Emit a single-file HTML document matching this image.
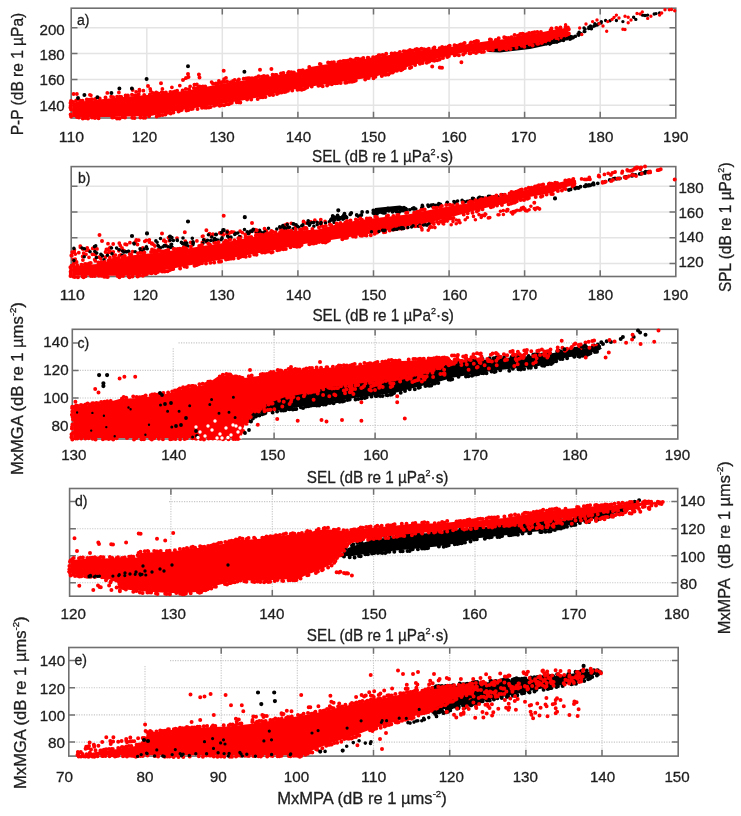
<!DOCTYPE html>
<html><head><meta charset="utf-8"><title>figure</title>
<style>html,body{margin:0;padding:0;background:#fff;overflow:hidden}svg{display:block;filter:blur(0.45px)}
text{font-family:"Liberation Sans",sans-serif;fill:#1e1e1e;stroke:#1e1e1e;stroke-width:0.3px}</style></head>
<body><svg width="741" height="816" viewBox="0 0 741 816">
<rect width="741" height="816" fill="#fff"/>
<line x1="146.8" y1="27.5" x2="146.8" y2="118" stroke="#e4e4e4" stroke-width="1.5"/>
<line x1="222.3" y1="8.2" x2="222.3" y2="118" stroke="#e4e4e4" stroke-width="1.5"/>
<line x1="297.9" y1="8.2" x2="297.9" y2="118" stroke="#e4e4e4" stroke-width="1.5"/>
<line x1="373.5" y1="8.2" x2="373.5" y2="118" stroke="#e4e4e4" stroke-width="1.5"/>
<line x1="449.1" y1="8.2" x2="449.1" y2="118" stroke="#e4e4e4" stroke-width="1.5"/>
<line x1="524.6" y1="8.2" x2="524.6" y2="118" stroke="#e4e4e4" stroke-width="1.5"/>
<line x1="600.2" y1="8.2" x2="600.2" y2="118" stroke="#e4e4e4" stroke-width="1.5"/>
<line x1="71.2" y1="27.7" x2="675.8" y2="27.7" stroke="#e4e4e4" stroke-width="1.5"/>
<line x1="71.2" y1="53.5" x2="675.8" y2="53.5" stroke="#e4e4e4" stroke-width="1.5"/>
<line x1="71.2" y1="79.4" x2="675.8" y2="79.4" stroke="#e4e4e4" stroke-width="1.5"/>
<line x1="71.2" y1="105.2" x2="675.8" y2="105.2" stroke="#e4e4e4" stroke-width="1.5"/>
<rect x="71.2" y="8.2" width="604.6" height="109.8" fill="none" stroke="#707070" stroke-width="1.6"/>
<path d="M146.8 118v-6.3M222.3 118v-6.3M222.3 8.2v6.3M297.9 118v-6.3M297.9 8.2v6.3M373.5 118v-6.3M373.5 8.2v6.3M449.1 118v-6.3M449.1 8.2v6.3M524.6 118v-6.3M524.6 8.2v6.3M600.2 118v-6.3M600.2 8.2v6.3M71.2 27.7h6.3M675.8 27.7h-6.3M71.2 53.5h6.3M675.8 53.5h-6.3M71.2 79.4h6.3M675.8 79.4h-6.3M71.2 105.2h6.3M675.8 105.2h-6.3" stroke="#707070" stroke-width="1.5" fill="none"/>
<polygon fill="#000000" points="488,47 520,42 545,38 568,34 575,36 560,42.5 530,49 500,52.5 488,52"/>
<path fill="#000000" d="M512.8 47.6a1.8 1.8 0 1 0 3.6 0a1.8 1.8 0 1 0 -3.6 0M493.9 49.9a1.8 1.8 0 1 0 3.6 0a1.8 1.8 0 1 0 -3.6 0M492.7 49.4a1.8 1.8 0 1 0 3.6 0a1.8 1.8 0 1 0 -3.6 0M521.2 45.2a1.8 1.8 0 1 0 3.6 0a1.8 1.8 0 1 0 -3.6 0M522 45.4a1.8 1.8 0 1 0 3.6 0a1.8 1.8 0 1 0 -3.6 0M505.9 49.3a1.8 1.8 0 1 0 3.6 0a1.8 1.8 0 1 0 -3.6 0M533 45.3a1.8 1.8 0 1 0 3.6 0a1.8 1.8 0 1 0 -3.6 0M492.6 50a1.8 1.8 0 1 0 3.6 0a1.8 1.8 0 1 0 -3.6 0M498.7 49a1.8 1.8 0 1 0 3.6 0a1.8 1.8 0 1 0 -3.6 0M551.2 41.8a1.8 1.8 0 1 0 3.6 0a1.8 1.8 0 1 0 -3.6 0M537.8 43.7a1.8 1.8 0 1 0 3.6 0a1.8 1.8 0 1 0 -3.6 0M492.2 49.7a1.8 1.8 0 1 0 3.6 0a1.8 1.8 0 1 0 -3.6 0M541.1 42.8a1.8 1.8 0 1 0 3.6 0a1.8 1.8 0 1 0 -3.6 0M533.8 43.9a1.8 1.8 0 1 0 3.6 0a1.8 1.8 0 1 0 -3.6 0M550.6 41.4a1.8 1.8 0 1 0 3.6 0a1.8 1.8 0 1 0 -3.6 0M533.1 45.1a1.8 1.8 0 1 0 3.6 0a1.8 1.8 0 1 0 -3.6 0M544.7 43.6a1.8 1.8 0 1 0 3.6 0a1.8 1.8 0 1 0 -3.6 0M497.2 50.2a1.8 1.8 0 1 0 3.6 0a1.8 1.8 0 1 0 -3.6 0M500 48.3a1.8 1.8 0 1 0 3.6 0a1.8 1.8 0 1 0 -3.6 0M540.8 43.5a1.8 1.8 0 1 0 3.6 0a1.8 1.8 0 1 0 -3.6 0M556.1 41.3a1.8 1.8 0 1 0 3.6 0a1.8 1.8 0 1 0 -3.6 0M534.7 44.1a1.8 1.8 0 1 0 3.6 0a1.8 1.8 0 1 0 -3.6 0M554.6 41.3a1.8 1.8 0 1 0 3.6 0a1.8 1.8 0 1 0 -3.6 0M539.1 43.8a1.8 1.8 0 1 0 3.6 0a1.8 1.8 0 1 0 -3.6 0M539.7 44.2a1.8 1.8 0 1 0 3.6 0a1.8 1.8 0 1 0 -3.6 0M510.2 48.1a1.8 1.8 0 1 0 3.6 0a1.8 1.8 0 1 0 -3.6 0M489.9 50.1a1.8 1.8 0 1 0 3.6 0a1.8 1.8 0 1 0 -3.6 0M496.5 50.2a1.8 1.8 0 1 0 3.6 0a1.8 1.8 0 1 0 -3.6 0M497.8 49.3a1.8 1.8 0 1 0 3.6 0a1.8 1.8 0 1 0 -3.6 0M555.3 40.9a1.8 1.8 0 1 0 3.6 0a1.8 1.8 0 1 0 -3.6 0M531.8 45.3a1.8 1.8 0 1 0 3.6 0a1.8 1.8 0 1 0 -3.6 0M555.1 40.9a1.8 1.8 0 1 0 3.6 0a1.8 1.8 0 1 0 -3.6 0M517 47.8a1.8 1.8 0 1 0 3.6 0a1.8 1.8 0 1 0 -3.6 0M499.3 48.7a1.8 1.8 0 1 0 3.6 0a1.8 1.8 0 1 0 -3.6 0M506.4 48.5a1.8 1.8 0 1 0 3.6 0a1.8 1.8 0 1 0 -3.6 0M507.7 47.8a1.8 1.8 0 1 0 3.6 0a1.8 1.8 0 1 0 -3.6 0M517.1 47.7a1.8 1.8 0 1 0 3.6 0a1.8 1.8 0 1 0 -3.6 0M542.1 43.3a1.8 1.8 0 1 0 3.6 0a1.8 1.8 0 1 0 -3.6 0M540.1 44a1.8 1.8 0 1 0 3.6 0a1.8 1.8 0 1 0 -3.6 0M549.8 42.6a1.8 1.8 0 1 0 3.6 0a1.8 1.8 0 1 0 -3.6 0"/>
<polygon fill="#ff0000" points="72.1,102.4 72.1,116.9 110,116.9 150.7,115.9 167.5,112.5 167.6,112.4 183.6,109.7 183.6,109.7 204.6,106.4 204.6,106.4 224.6,103.3 239.6,100.9 258.5,97.4 277.4,93 277.5,93 297.5,88.8 297.6,88.7 317.6,85.4 317.6,85.4 338.6,82.2 356.6,79.4 356.6,79.4 374.4,77 390.2,72 390.3,72 406.3,67.3 417.3,64 417.3,64 428.3,60.8 428.4,60.8 460.4,53.2 460.7,53.1 477.7,50.9 477.7,50.9 493.7,49 493.7,49 514.6,46.9 534.5,43.5 551.4,39.5 564,36.1 568.4,33.5 568.4,29 564.9,28.1 552.5,30.1 535.5,33.5 535.3,33.6 522.4,35.1 505.6,38.8 505.3,38.9 488.3,41.1 472.4,43.2 456.5,46.1 456.4,46.1 440.4,48.6 440.2,48.6 423.3,50.1 407.4,51.9 375.4,57.3 375.4,57.3 357.4,60.1 357.4,60.1 339.4,62.6 325.4,64.6 311.7,66.8 299,71.9 298.7,72 298.4,72.1 278.4,75.1 278.4,75.1 259.4,77.9 240.4,80.9 220.5,84.1 202.5,87.6 202.5,87.6 184.5,90.9 184.3,90.9 166.3,93.1 166.3,93.1 147.3,95.1 147.2,95.1 128.2,96.6 108.3,98.6 90.3,100.6 90.3,100.6"/>
<path fill="#ff0000" d="M69 100.9a2 2 0 1 0 4 0a2 2 0 1 0 -4 0M68.5 103.1a2 2 0 1 0 4 0a2 2 0 1 0 -4 0M68.7 105.7a2 2 0 1 0 4 0a2 2 0 1 0 -4 0M68.4 107.6a2 2 0 1 0 4 0a2 2 0 1 0 -4 0M69 109.6a2 2 0 1 0 4 0a2 2 0 1 0 -4 0M68.6 114.4a2 2 0 1 0 4 0a2 2 0 1 0 -4 0M69 116.4a2 2 0 1 0 4 0a2 2 0 1 0 -4 0M75 117.1a2 2 0 1 0 4 0a2 2 0 1 0 -4 0M76.9 117.4a2 2 0 1 0 4 0a2 2 0 1 0 -4 0M80.8 118.5a2 2 0 1 0 4 0a2 2 0 1 0 -4 0M83.2 117.9a2 2 0 1 0 4 0a2 2 0 1 0 -4 0M86 118.6a2 2 0 1 0 4 0a2 2 0 1 0 -4 0M90 117.6a2 2 0 1 0 4 0a2 2 0 1 0 -4 0M93 117.9a2 2 0 1 0 4 0a2 2 0 1 0 -4 0M96.6 118.3a2 2 0 1 0 4 0a2 2 0 1 0 -4 0M110.3 117.5a2 2 0 1 0 4 0a2 2 0 1 0 -4 0M111.7 117.3a2 2 0 1 0 4 0a2 2 0 1 0 -4 0M115 118.4a2 2 0 1 0 4 0a2 2 0 1 0 -4 0M117.6 118.4a2 2 0 1 0 4 0a2 2 0 1 0 -4 0M120.8 117a2 2 0 1 0 4 0a2 2 0 1 0 -4 0M123 117.6a2 2 0 1 0 4 0a2 2 0 1 0 -4 0M130.3 117.7a2 2 0 1 0 4 0a2 2 0 1 0 -4 0M132.5 117.9a2 2 0 1 0 4 0a2 2 0 1 0 -4 0M138.4 117.5a2 2 0 1 0 4 0a2 2 0 1 0 -4 0M141.6 117.7a2 2 0 1 0 4 0a2 2 0 1 0 -4 0M143.1 117.7a2 2 0 1 0 4 0a2 2 0 1 0 -4 0M147.1 116.3a2 2 0 1 0 4 0a2 2 0 1 0 -4 0M154.7 116.5a2 2 0 1 0 4 0a2 2 0 1 0 -4 0M156.1 115.3a2 2 0 1 0 4 0a2 2 0 1 0 -4 0M157.7 115.6a2 2 0 1 0 4 0a2 2 0 1 0 -4 0M160.7 115.1a2 2 0 1 0 4 0a2 2 0 1 0 -4 0M163.4 114.4a2 2 0 1 0 4 0a2 2 0 1 0 -4 0M164.6 113.1a2 2 0 1 0 4 0a2 2 0 1 0 -4 0M167.3 112.7a2 2 0 1 0 4 0a2 2 0 1 0 -4 0M168.7 113.4a2 2 0 1 0 4 0a2 2 0 1 0 -4 0M171.4 112.5a2 2 0 1 0 4 0a2 2 0 1 0 -4 0M176.5 111.6a2 2 0 1 0 4 0a2 2 0 1 0 -4 0M178.1 110.5a2 2 0 1 0 4 0a2 2 0 1 0 -4 0M179.7 110.1a2 2 0 1 0 4 0a2 2 0 1 0 -4 0M184.5 110.5a2 2 0 1 0 4 0a2 2 0 1 0 -4 0M186.4 109.9a2 2 0 1 0 4 0a2 2 0 1 0 -4 0M189.4 108.9a2 2 0 1 0 4 0a2 2 0 1 0 -4 0M190.7 108.8a2 2 0 1 0 4 0a2 2 0 1 0 -4 0M195.5 108.9a2 2 0 1 0 4 0a2 2 0 1 0 -4 0M200 107.8a2 2 0 1 0 4 0a2 2 0 1 0 -4 0M202.3 107.4a2 2 0 1 0 4 0a2 2 0 1 0 -4 0M204.1 107.8a2 2 0 1 0 4 0a2 2 0 1 0 -4 0M206.9 107.5a2 2 0 1 0 4 0a2 2 0 1 0 -4 0M208.6 107.1a2 2 0 1 0 4 0a2 2 0 1 0 -4 0M212.2 105.7a2 2 0 1 0 4 0a2 2 0 1 0 -4 0M214.6 104.7a2 2 0 1 0 4 0a2 2 0 1 0 -4 0M217.7 105.7a2 2 0 1 0 4 0a2 2 0 1 0 -4 0M219.7 105a2 2 0 1 0 4 0a2 2 0 1 0 -4 0M222.2 105.2a2 2 0 1 0 4 0a2 2 0 1 0 -4 0M224.5 103.9a2 2 0 1 0 4 0a2 2 0 1 0 -4 0M226.7 104.2a2 2 0 1 0 4 0a2 2 0 1 0 -4 0M228 103.4a2 2 0 1 0 4 0a2 2 0 1 0 -4 0M229.8 102.7a2 2 0 1 0 4 0a2 2 0 1 0 -4 0M234.7 102.2a2 2 0 1 0 4 0a2 2 0 1 0 -4 0M236.5 102.2a2 2 0 1 0 4 0a2 2 0 1 0 -4 0M238.3 102.4a2 2 0 1 0 4 0a2 2 0 1 0 -4 0M245.1 99.6a2 2 0 1 0 4 0a2 2 0 1 0 -4 0M249.2 99.4a2 2 0 1 0 4 0a2 2 0 1 0 -4 0M255.7 99a2 2 0 1 0 4 0a2 2 0 1 0 -4 0M258.8 97.2a2 2 0 1 0 4 0a2 2 0 1 0 -4 0M260.9 97.2a2 2 0 1 0 4 0a2 2 0 1 0 -4 0M263.4 97a2 2 0 1 0 4 0a2 2 0 1 0 -4 0M267.6 95.1a2 2 0 1 0 4 0a2 2 0 1 0 -4 0M271.1 94.9a2 2 0 1 0 4 0a2 2 0 1 0 -4 0M275 93.9a2 2 0 1 0 4 0a2 2 0 1 0 -4 0M277.1 92.8a2 2 0 1 0 4 0a2 2 0 1 0 -4 0M279.5 92.6a2 2 0 1 0 4 0a2 2 0 1 0 -4 0M282.5 92.1a2 2 0 1 0 4 0a2 2 0 1 0 -4 0M283.7 91.8a2 2 0 1 0 4 0a2 2 0 1 0 -4 0M286 90.8a2 2 0 1 0 4 0a2 2 0 1 0 -4 0M290.2 90.6a2 2 0 1 0 4 0a2 2 0 1 0 -4 0M295.5 89.7a2 2 0 1 0 4 0a2 2 0 1 0 -4 0M297.7 89.2a2 2 0 1 0 4 0a2 2 0 1 0 -4 0M299.7 89.8a2 2 0 1 0 4 0a2 2 0 1 0 -4 0M302.1 89a2 2 0 1 0 4 0a2 2 0 1 0 -4 0M303.6 88.1a2 2 0 1 0 4 0a2 2 0 1 0 -4 0M305.3 87.3a2 2 0 1 0 4 0a2 2 0 1 0 -4 0M309.7 86.6a2 2 0 1 0 4 0a2 2 0 1 0 -4 0M316.4 85.8a2 2 0 1 0 4 0a2 2 0 1 0 -4 0M318.9 85.3a2 2 0 1 0 4 0a2 2 0 1 0 -4 0M320.7 86.2a2 2 0 1 0 4 0a2 2 0 1 0 -4 0M325.1 85.6a2 2 0 1 0 4 0a2 2 0 1 0 -4 0M327.4 83.7a2 2 0 1 0 4 0a2 2 0 1 0 -4 0M329.8 84.2a2 2 0 1 0 4 0a2 2 0 1 0 -4 0M332 83a2 2 0 1 0 4 0a2 2 0 1 0 -4 0M333.5 83.3a2 2 0 1 0 4 0a2 2 0 1 0 -4 0M335.6 82.9a2 2 0 1 0 4 0a2 2 0 1 0 -4 0M338.7 82.9a2 2 0 1 0 4 0a2 2 0 1 0 -4 0M343.3 82.8a2 2 0 1 0 4 0a2 2 0 1 0 -4 0M344.8 82.6a2 2 0 1 0 4 0a2 2 0 1 0 -4 0M347.6 81.7a2 2 0 1 0 4 0a2 2 0 1 0 -4 0M350 81.8a2 2 0 1 0 4 0a2 2 0 1 0 -4 0M352 81.3a2 2 0 1 0 4 0a2 2 0 1 0 -4 0M353.8 80.5a2 2 0 1 0 4 0a2 2 0 1 0 -4 0M363.2 79.5a2 2 0 1 0 4 0a2 2 0 1 0 -4 0M364.3 78.2a2 2 0 1 0 4 0a2 2 0 1 0 -4 0M366.7 78a2 2 0 1 0 4 0a2 2 0 1 0 -4 0M371.5 78.2a2 2 0 1 0 4 0a2 2 0 1 0 -4 0M373.4 76.8a2 2 0 1 0 4 0a2 2 0 1 0 -4 0M379.8 75.9a2 2 0 1 0 4 0a2 2 0 1 0 -4 0M382.2 74.6a2 2 0 1 0 4 0a2 2 0 1 0 -4 0M383.6 74.7a2 2 0 1 0 4 0a2 2 0 1 0 -4 0M386.4 74.4a2 2 0 1 0 4 0a2 2 0 1 0 -4 0M388 73a2 2 0 1 0 4 0a2 2 0 1 0 -4 0M390.7 72.5a2 2 0 1 0 4 0a2 2 0 1 0 -4 0M391.7 71.2a2 2 0 1 0 4 0a2 2 0 1 0 -4 0M394.9 70.8a2 2 0 1 0 4 0a2 2 0 1 0 -4 0M395.8 69.8a2 2 0 1 0 4 0a2 2 0 1 0 -4 0M399 70.2a2 2 0 1 0 4 0a2 2 0 1 0 -4 0M400.5 69.3a2 2 0 1 0 4 0a2 2 0 1 0 -4 0M402.9 68a2 2 0 1 0 4 0a2 2 0 1 0 -4 0M407.9 68.1a2 2 0 1 0 4 0a2 2 0 1 0 -4 0M409.2 67.3a2 2 0 1 0 4 0a2 2 0 1 0 -4 0M413.1 65a2 2 0 1 0 4 0a2 2 0 1 0 -4 0M417.9 63.7a2 2 0 1 0 4 0a2 2 0 1 0 -4 0M420.6 63a2 2 0 1 0 4 0a2 2 0 1 0 -4 0M424.7 62.7a2 2 0 1 0 4 0a2 2 0 1 0 -4 0M426.8 61.7a2 2 0 1 0 4 0a2 2 0 1 0 -4 0M427.5 61.2a2 2 0 1 0 4 0a2 2 0 1 0 -4 0M430.2 60.2a2 2 0 1 0 4 0a2 2 0 1 0 -4 0M432.3 60.8a2 2 0 1 0 4 0a2 2 0 1 0 -4 0M435.2 60.3a2 2 0 1 0 4 0a2 2 0 1 0 -4 0M437.6 59.5a2 2 0 1 0 4 0a2 2 0 1 0 -4 0M441 58a2 2 0 1 0 4 0a2 2 0 1 0 -4 0M445.3 57a2 2 0 1 0 4 0a2 2 0 1 0 -4 0M446.9 56a2 2 0 1 0 4 0a2 2 0 1 0 -4 0M452.6 55.2a2 2 0 1 0 4 0a2 2 0 1 0 -4 0M454.1 54.6a2 2 0 1 0 4 0a2 2 0 1 0 -4 0M456.9 55.2a2 2 0 1 0 4 0a2 2 0 1 0 -4 0M461.2 54.5a2 2 0 1 0 4 0a2 2 0 1 0 -4 0M463.1 52.8a2 2 0 1 0 4 0a2 2 0 1 0 -4 0M467.5 53.2a2 2 0 1 0 4 0a2 2 0 1 0 -4 0M468.5 53.3a2 2 0 1 0 4 0a2 2 0 1 0 -4 0M471.4 52.1a2 2 0 1 0 4 0a2 2 0 1 0 -4 0M474 52.9a2 2 0 1 0 4 0a2 2 0 1 0 -4 0M476.1 51.5a2 2 0 1 0 4 0a2 2 0 1 0 -4 0M477.8 51a2 2 0 1 0 4 0a2 2 0 1 0 -4 0M479.7 51.9a2 2 0 1 0 4 0a2 2 0 1 0 -4 0M481.9 51.7a2 2 0 1 0 4 0a2 2 0 1 0 -4 0M486.2 50a2 2 0 1 0 4 0a2 2 0 1 0 -4 0M488.7 49.6a2 2 0 1 0 4 0a2 2 0 1 0 -4 0M490.8 50.1a2 2 0 1 0 4 0a2 2 0 1 0 -4 0M497.6 49.4a2 2 0 1 0 4 0a2 2 0 1 0 -4 0M499.7 48.4a2 2 0 1 0 4 0a2 2 0 1 0 -4 0M502.9 48.3a2 2 0 1 0 4 0a2 2 0 1 0 -4 0M504.5 49.2a2 2 0 1 0 4 0a2 2 0 1 0 -4 0M506.1 48a2 2 0 1 0 4 0a2 2 0 1 0 -4 0M508.6 48.9a2 2 0 1 0 4 0a2 2 0 1 0 -4 0M514.5 47.7a2 2 0 1 0 4 0a2 2 0 1 0 -4 0M519.7 45.8a2 2 0 1 0 4 0a2 2 0 1 0 -4 0M522.4 46.8a2 2 0 1 0 4 0a2 2 0 1 0 -4 0M527.6 44.5a2 2 0 1 0 4 0a2 2 0 1 0 -4 0M530.7 45.4a2 2 0 1 0 4 0a2 2 0 1 0 -4 0M535.2 43.8a2 2 0 1 0 4 0a2 2 0 1 0 -4 0M536.2 43.8a2 2 0 1 0 4 0a2 2 0 1 0 -4 0M539.7 43.1a2 2 0 1 0 4 0a2 2 0 1 0 -4 0M540.6 41.9a2 2 0 1 0 4 0a2 2 0 1 0 -4 0M543.7 41.2a2 2 0 1 0 4 0a2 2 0 1 0 -4 0M545.5 41.4a2 2 0 1 0 4 0a2 2 0 1 0 -4 0M547.2 41a2 2 0 1 0 4 0a2 2 0 1 0 -4 0M549.5 40.2a2 2 0 1 0 4 0a2 2 0 1 0 -4 0M554.6 39.1a2 2 0 1 0 4 0a2 2 0 1 0 -4 0M555.7 39.3a2 2 0 1 0 4 0a2 2 0 1 0 -4 0M559.6 37.4a2 2 0 1 0 4 0a2 2 0 1 0 -4 0M562.4 36.4a2 2 0 1 0 4 0a2 2 0 1 0 -4 0M565.1 35.3a2 2 0 1 0 4 0a2 2 0 1 0 -4 0M566.1 34.5a2 2 0 1 0 4 0a2 2 0 1 0 -4 0M566.8 33.4a2 2 0 1 0 4 0a2 2 0 1 0 -4 0M566.8 29.3a2 2 0 1 0 4 0a2 2 0 1 0 -4 0M565.9 27.4a2 2 0 1 0 4 0a2 2 0 1 0 -4 0M563.6 27a2 2 0 1 0 4 0a2 2 0 1 0 -4 0M558.4 27.4a2 2 0 1 0 4 0a2 2 0 1 0 -4 0M557 28.9a2 2 0 1 0 4 0a2 2 0 1 0 -4 0M554.4 28.1a2 2 0 1 0 4 0a2 2 0 1 0 -4 0M549.5 28.5a2 2 0 1 0 4 0a2 2 0 1 0 -4 0M548.6 30.3a2 2 0 1 0 4 0a2 2 0 1 0 -4 0M538.9 32.1a2 2 0 1 0 4 0a2 2 0 1 0 -4 0M535.3 32.1a2 2 0 1 0 4 0a2 2 0 1 0 -4 0M532.6 32.2a2 2 0 1 0 4 0a2 2 0 1 0 -4 0M530.4 32.7a2 2 0 1 0 4 0a2 2 0 1 0 -4 0M527.1 33a2 2 0 1 0 4 0a2 2 0 1 0 -4 0M524.7 34.2a2 2 0 1 0 4 0a2 2 0 1 0 -4 0M521.2 33.9a2 2 0 1 0 4 0a2 2 0 1 0 -4 0M520.4 33.8a2 2 0 1 0 4 0a2 2 0 1 0 -4 0M518.3 34a2 2 0 1 0 4 0a2 2 0 1 0 -4 0M516 35.7a2 2 0 1 0 4 0a2 2 0 1 0 -4 0M512.6 35a2 2 0 1 0 4 0a2 2 0 1 0 -4 0M509.4 37.3a2 2 0 1 0 4 0a2 2 0 1 0 -4 0M506.5 37.9a2 2 0 1 0 4 0a2 2 0 1 0 -4 0M504.3 38a2 2 0 1 0 4 0a2 2 0 1 0 -4 0M502.2 37.3a2 2 0 1 0 4 0a2 2 0 1 0 -4 0M496.7 38.2a2 2 0 1 0 4 0a2 2 0 1 0 -4 0M493.8 39.9a2 2 0 1 0 4 0a2 2 0 1 0 -4 0M489 39.7a2 2 0 1 0 4 0a2 2 0 1 0 -4 0M487.9 39.5a2 2 0 1 0 4 0a2 2 0 1 0 -4 0M476 41.2a2 2 0 1 0 4 0a2 2 0 1 0 -4 0M474.6 41.1a2 2 0 1 0 4 0a2 2 0 1 0 -4 0M472.4 41.7a2 2 0 1 0 4 0a2 2 0 1 0 -4 0M469 42.5a2 2 0 1 0 4 0a2 2 0 1 0 -4 0M468.4 43.4a2 2 0 1 0 4 0a2 2 0 1 0 -4 0M462.6 42.9a2 2 0 1 0 4 0a2 2 0 1 0 -4 0M461.4 43.9a2 2 0 1 0 4 0a2 2 0 1 0 -4 0M458.8 44.5a2 2 0 1 0 4 0a2 2 0 1 0 -4 0M457.2 45.3a2 2 0 1 0 4 0a2 2 0 1 0 -4 0M454 45.7a2 2 0 1 0 4 0a2 2 0 1 0 -4 0M452.5 45.3a2 2 0 1 0 4 0a2 2 0 1 0 -4 0M447.7 45.7a2 2 0 1 0 4 0a2 2 0 1 0 -4 0M446.5 46.6a2 2 0 1 0 4 0a2 2 0 1 0 -4 0M443.5 47.6a2 2 0 1 0 4 0a2 2 0 1 0 -4 0M441.1 47.7a2 2 0 1 0 4 0a2 2 0 1 0 -4 0M440.1 46.9a2 2 0 1 0 4 0a2 2 0 1 0 -4 0M437.7 48.3a2 2 0 1 0 4 0a2 2 0 1 0 -4 0M432.4 47.6a2 2 0 1 0 4 0a2 2 0 1 0 -4 0M431.3 48.5a2 2 0 1 0 4 0a2 2 0 1 0 -4 0M426.8 48.7a2 2 0 1 0 4 0a2 2 0 1 0 -4 0M424.4 49.7a2 2 0 1 0 4 0a2 2 0 1 0 -4 0M422 49.3a2 2 0 1 0 4 0a2 2 0 1 0 -4 0M419.4 48.8a2 2 0 1 0 4 0a2 2 0 1 0 -4 0M417 49.8a2 2 0 1 0 4 0a2 2 0 1 0 -4 0M414.8 49.1a2 2 0 1 0 4 0a2 2 0 1 0 -4 0M413.3 49.6a2 2 0 1 0 4 0a2 2 0 1 0 -4 0M410.4 50.8a2 2 0 1 0 4 0a2 2 0 1 0 -4 0M408 50a2 2 0 1 0 4 0a2 2 0 1 0 -4 0M406.5 51.1a2 2 0 1 0 4 0a2 2 0 1 0 -4 0M403.7 51.5a2 2 0 1 0 4 0a2 2 0 1 0 -4 0M401.8 51.2a2 2 0 1 0 4 0a2 2 0 1 0 -4 0M397.9 52a2 2 0 1 0 4 0a2 2 0 1 0 -4 0M396.2 53.4a2 2 0 1 0 4 0a2 2 0 1 0 -4 0M392.9 53.3a2 2 0 1 0 4 0a2 2 0 1 0 -4 0M390.5 54a2 2 0 1 0 4 0a2 2 0 1 0 -4 0M389.6 53.6a2 2 0 1 0 4 0a2 2 0 1 0 -4 0M384.2 53.7a2 2 0 1 0 4 0a2 2 0 1 0 -4 0M382.8 55.5a2 2 0 1 0 4 0a2 2 0 1 0 -4 0M380.6 55a2 2 0 1 0 4 0a2 2 0 1 0 -4 0M377.6 55.2a2 2 0 1 0 4 0a2 2 0 1 0 -4 0M376.7 55.3a2 2 0 1 0 4 0a2 2 0 1 0 -4 0M374.3 57a2 2 0 1 0 4 0a2 2 0 1 0 -4 0M371.1 57.3a2 2 0 1 0 4 0a2 2 0 1 0 -4 0M366.6 58a2 2 0 1 0 4 0a2 2 0 1 0 -4 0M365.8 57.8a2 2 0 1 0 4 0a2 2 0 1 0 -4 0M361.3 57.9a2 2 0 1 0 4 0a2 2 0 1 0 -4 0M359.2 59.2a2 2 0 1 0 4 0a2 2 0 1 0 -4 0M356 58.8a2 2 0 1 0 4 0a2 2 0 1 0 -4 0M354.1 58.7a2 2 0 1 0 4 0a2 2 0 1 0 -4 0M352.4 60.3a2 2 0 1 0 4 0a2 2 0 1 0 -4 0M350 60.3a2 2 0 1 0 4 0a2 2 0 1 0 -4 0M348.3 59.6a2 2 0 1 0 4 0a2 2 0 1 0 -4 0M345.6 60.7a2 2 0 1 0 4 0a2 2 0 1 0 -4 0M343.2 61a2 2 0 1 0 4 0a2 2 0 1 0 -4 0M341.4 61.1a2 2 0 1 0 4 0a2 2 0 1 0 -4 0M338.2 61.6a2 2 0 1 0 4 0a2 2 0 1 0 -4 0M336.4 62.2a2 2 0 1 0 4 0a2 2 0 1 0 -4 0M331.9 62.3a2 2 0 1 0 4 0a2 2 0 1 0 -4 0M329.7 62.6a2 2 0 1 0 4 0a2 2 0 1 0 -4 0M328 63a2 2 0 1 0 4 0a2 2 0 1 0 -4 0M326.1 62.6a2 2 0 1 0 4 0a2 2 0 1 0 -4 0M318.6 64.3a2 2 0 1 0 4 0a2 2 0 1 0 -4 0M317.9 64.1a2 2 0 1 0 4 0a2 2 0 1 0 -4 0M307.3 67.1a2 2 0 1 0 4 0a2 2 0 1 0 -4 0M300.8 70.3a2 2 0 1 0 4 0a2 2 0 1 0 -4 0M298.1 70.8a2 2 0 1 0 4 0a2 2 0 1 0 -4 0M296.9 70.8a2 2 0 1 0 4 0a2 2 0 1 0 -4 0M291.9 72.5a2 2 0 1 0 4 0a2 2 0 1 0 -4 0M289.3 72.2a2 2 0 1 0 4 0a2 2 0 1 0 -4 0M286.8 72a2 2 0 1 0 4 0a2 2 0 1 0 -4 0M286 73.1a2 2 0 1 0 4 0a2 2 0 1 0 -4 0M281.4 72.9a2 2 0 1 0 4 0a2 2 0 1 0 -4 0M279 73.6a2 2 0 1 0 4 0a2 2 0 1 0 -4 0M274.6 75.1a2 2 0 1 0 4 0a2 2 0 1 0 -4 0M273.1 75a2 2 0 1 0 4 0a2 2 0 1 0 -4 0M270.6 74.7a2 2 0 1 0 4 0a2 2 0 1 0 -4 0M265.5 76.2a2 2 0 1 0 4 0a2 2 0 1 0 -4 0M263 76.4a2 2 0 1 0 4 0a2 2 0 1 0 -4 0M261.9 76a2 2 0 1 0 4 0a2 2 0 1 0 -4 0M260 76.8a2 2 0 1 0 4 0a2 2 0 1 0 -4 0M256.7 76.2a2 2 0 1 0 4 0a2 2 0 1 0 -4 0M254.3 77.5a2 2 0 1 0 4 0a2 2 0 1 0 -4 0M252.7 78.3a2 2 0 1 0 4 0a2 2 0 1 0 -4 0M250 78.3a2 2 0 1 0 4 0a2 2 0 1 0 -4 0M247.5 78.2a2 2 0 1 0 4 0a2 2 0 1 0 -4 0M245.9 78.3a2 2 0 1 0 4 0a2 2 0 1 0 -4 0M244.1 78.6a2 2 0 1 0 4 0a2 2 0 1 0 -4 0M241.7 78.8a2 2 0 1 0 4 0a2 2 0 1 0 -4 0M236.9 79.5a2 2 0 1 0 4 0a2 2 0 1 0 -4 0M235.8 80.9a2 2 0 1 0 4 0a2 2 0 1 0 -4 0M232.7 80a2 2 0 1 0 4 0a2 2 0 1 0 -4 0M231 80.9a2 2 0 1 0 4 0a2 2 0 1 0 -4 0M228.6 82.2a2 2 0 1 0 4 0a2 2 0 1 0 -4 0M225 81.5a2 2 0 1 0 4 0a2 2 0 1 0 -4 0M222 82.1a2 2 0 1 0 4 0a2 2 0 1 0 -4 0M220.5 82.1a2 2 0 1 0 4 0a2 2 0 1 0 -4 0M218.5 82.7a2 2 0 1 0 4 0a2 2 0 1 0 -4 0M215.8 83.7a2 2 0 1 0 4 0a2 2 0 1 0 -4 0M214 83.6a2 2 0 1 0 4 0a2 2 0 1 0 -4 0M211 83.8a2 2 0 1 0 4 0a2 2 0 1 0 -4 0M203.2 86.6a2 2 0 1 0 4 0a2 2 0 1 0 -4 0M200.9 86.6a2 2 0 1 0 4 0a2 2 0 1 0 -4 0M197.7 86.6a2 2 0 1 0 4 0a2 2 0 1 0 -4 0M195.9 87.8a2 2 0 1 0 4 0a2 2 0 1 0 -4 0M194.6 88.2a2 2 0 1 0 4 0a2 2 0 1 0 -4 0M191.9 88.1a2 2 0 1 0 4 0a2 2 0 1 0 -4 0M187.1 89.2a2 2 0 1 0 4 0a2 2 0 1 0 -4 0M183.8 89a2 2 0 1 0 4 0a2 2 0 1 0 -4 0M180.6 90.5a2 2 0 1 0 4 0a2 2 0 1 0 -4 0M175.1 90.7a2 2 0 1 0 4 0a2 2 0 1 0 -4 0M172.9 91.4a2 2 0 1 0 4 0a2 2 0 1 0 -4 0M170.3 92.2a2 2 0 1 0 4 0a2 2 0 1 0 -4 0M168.4 92.1a2 2 0 1 0 4 0a2 2 0 1 0 -4 0M163.9 92.4a2 2 0 1 0 4 0a2 2 0 1 0 -4 0M160.9 92.7a2 2 0 1 0 4 0a2 2 0 1 0 -4 0M159.8 92.2a2 2 0 1 0 4 0a2 2 0 1 0 -4 0M156.3 93.6a2 2 0 1 0 4 0a2 2 0 1 0 -4 0M154.2 92.4a2 2 0 1 0 4 0a2 2 0 1 0 -4 0M152.9 93.6a2 2 0 1 0 4 0a2 2 0 1 0 -4 0M150.7 93a2 2 0 1 0 4 0a2 2 0 1 0 -4 0M147.9 94.4a2 2 0 1 0 4 0a2 2 0 1 0 -4 0M142.2 95.1a2 2 0 1 0 4 0a2 2 0 1 0 -4 0M136.7 94.2a2 2 0 1 0 4 0a2 2 0 1 0 -4 0M135.5 95.5a2 2 0 1 0 4 0a2 2 0 1 0 -4 0M133.3 95.4a2 2 0 1 0 4 0a2 2 0 1 0 -4 0M130 94.7a2 2 0 1 0 4 0a2 2 0 1 0 -4 0M125.9 95.6a2 2 0 1 0 4 0a2 2 0 1 0 -4 0M123.6 95.6a2 2 0 1 0 4 0a2 2 0 1 0 -4 0M119.3 97.1a2 2 0 1 0 4 0a2 2 0 1 0 -4 0M118 96.8a2 2 0 1 0 4 0a2 2 0 1 0 -4 0M115.1 96.7a2 2 0 1 0 4 0a2 2 0 1 0 -4 0M111.2 97.3a2 2 0 1 0 4 0a2 2 0 1 0 -4 0M109.2 96.8a2 2 0 1 0 4 0a2 2 0 1 0 -4 0M103.5 97.4a2 2 0 1 0 4 0a2 2 0 1 0 -4 0M97.7 98.6a2 2 0 1 0 4 0a2 2 0 1 0 -4 0M93.3 98.9a2 2 0 1 0 4 0a2 2 0 1 0 -4 0M89.7 99.3a2 2 0 1 0 4 0a2 2 0 1 0 -4 0M87.1 99.8a2 2 0 1 0 4 0a2 2 0 1 0 -4 0M84.8 99.4a2 2 0 1 0 4 0a2 2 0 1 0 -4 0M80.6 100.7a2 2 0 1 0 4 0a2 2 0 1 0 -4 0M77.8 100.5a2 2 0 1 0 4 0a2 2 0 1 0 -4 0M74.2 100.4a2 2 0 1 0 4 0a2 2 0 1 0 -4 0M71 102a2 2 0 1 0 4 0a2 2 0 1 0 -4 0"/>
<path fill="#ff0000" d="M209.7 82.1a1.9 1.9 0 1 0 3.8 0a1.9 1.9 0 1 0 -3.8 0M117 92.5a1.9 1.9 0 1 0 3.8 0a1.9 1.9 0 1 0 -3.8 0M222.1 79.2a1.9 1.9 0 1 0 3.8 0a1.9 1.9 0 1 0 -3.8 0M148.7 90.9a1.9 1.9 0 1 0 3.8 0a1.9 1.9 0 1 0 -3.8 0M137.5 89.6a1.9 1.9 0 1 0 3.8 0a1.9 1.9 0 1 0 -3.8 0M188.2 86.3a1.9 1.9 0 1 0 3.8 0a1.9 1.9 0 1 0 -3.8 0M105.4 92.9a1.9 1.9 0 1 0 3.8 0a1.9 1.9 0 1 0 -3.8 0M141.5 90.7a1.9 1.9 0 1 0 3.8 0a1.9 1.9 0 1 0 -3.8 0M134.2 91.9a1.9 1.9 0 1 0 3.8 0a1.9 1.9 0 1 0 -3.8 0M217 81a1.9 1.9 0 1 0 3.8 0a1.9 1.9 0 1 0 -3.8 0M224.1 77.8a1.9 1.9 0 1 0 3.8 0a1.9 1.9 0 1 0 -3.8 0M160.5 88.9a1.9 1.9 0 1 0 3.8 0a1.9 1.9 0 1 0 -3.8 0M177.9 85.6a1.9 1.9 0 1 0 3.8 0a1.9 1.9 0 1 0 -3.8 0M170 87.3a1.9 1.9 0 1 0 3.8 0a1.9 1.9 0 1 0 -3.8 0M89 95.3a1.9 1.9 0 1 0 3.8 0a1.9 1.9 0 1 0 -3.8 0M192.5 84.6a1.9 1.9 0 1 0 3.8 0a1.9 1.9 0 1 0 -3.8 0M148.3 88.9a1.9 1.9 0 1 0 3.8 0a1.9 1.9 0 1 0 -3.8 0M195 84.3a1.9 1.9 0 1 0 3.8 0a1.9 1.9 0 1 0 -3.8 0M75 94a1.9 1.9 0 1 0 3.8 0a1.9 1.9 0 1 0 -3.8 0M137.6 91.1a1.9 1.9 0 1 0 3.8 0a1.9 1.9 0 1 0 -3.8 0M88 94.8a1.9 1.9 0 1 0 3.8 0a1.9 1.9 0 1 0 -3.8 0M130.7 90a1.9 1.9 0 1 0 3.8 0a1.9 1.9 0 1 0 -3.8 0"/>
<path fill="#000000" d="M569.7 38.3a1.8 1.8 0 1 0 3.6 0a1.8 1.8 0 1 0 -3.6 0M555.3 41.8a1.8 1.8 0 1 0 3.6 0a1.8 1.8 0 1 0 -3.6 0M550.6 41.8a1.8 1.8 0 1 0 3.6 0a1.8 1.8 0 1 0 -3.6 0M546.7 43.2a1.8 1.8 0 1 0 3.6 0a1.8 1.8 0 1 0 -3.6 0M568.6 38.9a1.8 1.8 0 1 0 3.6 0a1.8 1.8 0 1 0 -3.6 0M548.3 43.7a1.8 1.8 0 1 0 3.6 0a1.8 1.8 0 1 0 -3.6 0M552.5 41.9a1.8 1.8 0 1 0 3.6 0a1.8 1.8 0 1 0 -3.6 0M548 44.1a1.8 1.8 0 1 0 3.6 0a1.8 1.8 0 1 0 -3.6 0M567.2 38a1.8 1.8 0 1 0 3.6 0a1.8 1.8 0 1 0 -3.6 0M561.7 40.1a1.8 1.8 0 1 0 3.6 0a1.8 1.8 0 1 0 -3.6 0M568.1 39.3a1.8 1.8 0 1 0 3.6 0a1.8 1.8 0 1 0 -3.6 0M562.4 38.7a1.8 1.8 0 1 0 3.6 0a1.8 1.8 0 1 0 -3.6 0M562.5 39.3a1.8 1.8 0 1 0 3.6 0a1.8 1.8 0 1 0 -3.6 0M554.1 41.5a1.8 1.8 0 1 0 3.6 0a1.8 1.8 0 1 0 -3.6 0M566.8 38a1.8 1.8 0 1 0 3.6 0a1.8 1.8 0 1 0 -3.6 0M555.2 41.7a1.8 1.8 0 1 0 3.6 0a1.8 1.8 0 1 0 -3.6 0M561.7 40.5a1.8 1.8 0 1 0 3.6 0a1.8 1.8 0 1 0 -3.6 0M555.2 42.1a1.8 1.8 0 1 0 3.6 0a1.8 1.8 0 1 0 -3.6 0"/>
<path fill="#000000" d="M582.5 31.5a1.7 1.7 0 1 0 3.4 0a1.7 1.7 0 1 0 -3.4 0M599.4 23a1.7 1.7 0 1 0 3.4 0a1.7 1.7 0 1 0 -3.4 0M577.8 33.9a1.7 1.7 0 1 0 3.4 0a1.7 1.7 0 1 0 -3.4 0M592.3 26a1.7 1.7 0 1 0 3.4 0a1.7 1.7 0 1 0 -3.4 0M589.8 28.8a1.7 1.7 0 1 0 3.4 0a1.7 1.7 0 1 0 -3.4 0M587.8 27.8a1.7 1.7 0 1 0 3.4 0a1.7 1.7 0 1 0 -3.4 0M596.6 24.2a1.7 1.7 0 1 0 3.4 0a1.7 1.7 0 1 0 -3.4 0M589.5 28.8a1.7 1.7 0 1 0 3.4 0a1.7 1.7 0 1 0 -3.4 0M577.4 32.1a1.7 1.7 0 1 0 3.4 0a1.7 1.7 0 1 0 -3.4 0M583.2 31.5a1.7 1.7 0 1 0 3.4 0a1.7 1.7 0 1 0 -3.4 0M595.6 24.6a1.7 1.7 0 1 0 3.4 0a1.7 1.7 0 1 0 -3.4 0M595.7 25a1.7 1.7 0 1 0 3.4 0a1.7 1.7 0 1 0 -3.4 0M579.5 33.8a1.7 1.7 0 1 0 3.4 0a1.7 1.7 0 1 0 -3.4 0M592 26.3a1.7 1.7 0 1 0 3.4 0a1.7 1.7 0 1 0 -3.4 0M573 36.6a1.7 1.7 0 1 0 3.4 0a1.7 1.7 0 1 0 -3.4 0M577 35.2a1.7 1.7 0 1 0 3.4 0a1.7 1.7 0 1 0 -3.4 0M577.6 34a1.7 1.7 0 1 0 3.4 0a1.7 1.7 0 1 0 -3.4 0M583.4 29.3a1.7 1.7 0 1 0 3.4 0a1.7 1.7 0 1 0 -3.4 0M593.7 25.6a1.7 1.7 0 1 0 3.4 0a1.7 1.7 0 1 0 -3.4 0M573.8 36.4a1.7 1.7 0 1 0 3.4 0a1.7 1.7 0 1 0 -3.4 0M577.5 34.6a1.7 1.7 0 1 0 3.4 0a1.7 1.7 0 1 0 -3.4 0M596.9 23.7a1.7 1.7 0 1 0 3.4 0a1.7 1.7 0 1 0 -3.4 0M587.1 27.3a1.7 1.7 0 1 0 3.4 0a1.7 1.7 0 1 0 -3.4 0M576.3 33.9a1.7 1.7 0 1 0 3.4 0a1.7 1.7 0 1 0 -3.4 0M587 28.6a1.7 1.7 0 1 0 3.4 0a1.7 1.7 0 1 0 -3.4 0M573.5 36.2a1.7 1.7 0 1 0 3.4 0a1.7 1.7 0 1 0 -3.4 0"/>
<path fill="#000000" d="M565 38.9a1.7 1.7 0 1 0 3.4 0a1.7 1.7 0 1 0 -3.4 0M571.5 37.8a1.7 1.7 0 1 0 3.4 0a1.7 1.7 0 1 0 -3.4 0M582.3 28a1.7 1.7 0 1 0 3.4 0a1.7 1.7 0 1 0 -3.4 0M588.8 25.9a1.7 1.7 0 1 0 3.4 0a1.7 1.7 0 1 0 -3.4 0M593.1 23.8a1.7 1.7 0 1 0 3.4 0a1.7 1.7 0 1 0 -3.4 0M599.6 21.6a1.7 1.7 0 1 0 3.4 0a1.7 1.7 0 1 0 -3.4 0M603.9 20.5a1.7 1.7 0 1 0 3.4 0a1.7 1.7 0 1 0 -3.4 0M608.3 20.8a1.7 1.7 0 1 0 3.4 0a1.7 1.7 0 1 0 -3.4 0M614.7 20.5a1.7 1.7 0 1 0 3.4 0a1.7 1.7 0 1 0 -3.4 0M621.2 21.6a1.7 1.7 0 1 0 3.4 0a1.7 1.7 0 1 0 -3.4 0M631.9 17.3a1.7 1.7 0 1 0 3.4 0a1.7 1.7 0 1 0 -3.4 0M634.1 19.4a1.7 1.7 0 1 0 3.4 0a1.7 1.7 0 1 0 -3.4 0M640.6 15.1a1.7 1.7 0 1 0 3.4 0a1.7 1.7 0 1 0 -3.4 0M643.3 15.5a1.7 1.7 0 1 0 3.4 0a1.7 1.7 0 1 0 -3.4 0M646 15.1a1.7 1.7 0 1 0 3.4 0a1.7 1.7 0 1 0 -3.4 0M652.5 14a1.7 1.7 0 1 0 3.4 0a1.7 1.7 0 1 0 -3.4 0M654.3 13.6a1.7 1.7 0 1 0 3.4 0a1.7 1.7 0 1 0 -3.4 0M657.9 13a1.7 1.7 0 1 0 3.4 0a1.7 1.7 0 1 0 -3.4 0"/>
<path fill="#ff0000" d="M578 28a1.7 1.7 0 1 0 3.4 0a1.7 1.7 0 1 0 -3.4 0M590.9 21.6a1.7 1.7 0 1 0 3.4 0a1.7 1.7 0 1 0 -3.4 0M597.4 23.8a1.7 1.7 0 1 0 3.4 0a1.7 1.7 0 1 0 -3.4 0M606 21.6a1.7 1.7 0 1 0 3.4 0a1.7 1.7 0 1 0 -3.4 0M610.3 19.4a1.7 1.7 0 1 0 3.4 0a1.7 1.7 0 1 0 -3.4 0M614.7 15.1a1.7 1.7 0 1 0 3.4 0a1.7 1.7 0 1 0 -3.4 0M605 31.3a1.7 1.7 0 1 0 3.4 0a1.7 1.7 0 1 0 -3.4 0M621.2 29.2a1.7 1.7 0 1 0 3.4 0a1.7 1.7 0 1 0 -3.4 0M623.3 29.5a1.7 1.7 0 1 0 3.4 0a1.7 1.7 0 1 0 -3.4 0M623.3 16.2a1.7 1.7 0 1 0 3.4 0a1.7 1.7 0 1 0 -3.4 0M626.5 17.3a1.7 1.7 0 1 0 3.4 0a1.7 1.7 0 1 0 -3.4 0M626.5 22.7a1.7 1.7 0 1 0 3.4 0a1.7 1.7 0 1 0 -3.4 0M638.4 14a1.7 1.7 0 1 0 3.4 0a1.7 1.7 0 1 0 -3.4 0M640.6 11.9a1.7 1.7 0 1 0 3.4 0a1.7 1.7 0 1 0 -3.4 0M646 18.4a1.7 1.7 0 1 0 3.4 0a1.7 1.7 0 1 0 -3.4 0M649.2 16.2a1.7 1.7 0 1 0 3.4 0a1.7 1.7 0 1 0 -3.4 0M657.9 15.1a1.7 1.7 0 1 0 3.4 0a1.7 1.7 0 1 0 -3.4 0M660 13a1.7 1.7 0 1 0 3.4 0a1.7 1.7 0 1 0 -3.4 0M663.3 9.7a1.7 1.7 0 1 0 3.4 0a1.7 1.7 0 1 0 -3.4 0M667.6 9.7a1.7 1.7 0 1 0 3.4 0a1.7 1.7 0 1 0 -3.4 0M673 10.8a1.7 1.7 0 1 0 3.4 0a1.7 1.7 0 1 0 -3.4 0M580.1 34.5a1.7 1.7 0 1 0 3.4 0a1.7 1.7 0 1 0 -3.4 0M563.9 24.8a1.7 1.7 0 1 0 3.4 0a1.7 1.7 0 1 0 -3.4 0M584.3 24a1.7 1.7 0 1 0 3.4 0a1.7 1.7 0 1 0 -3.4 0M595.3 20a1.7 1.7 0 1 0 3.4 0a1.7 1.7 0 1 0 -3.4 0M601.3 26a1.7 1.7 0 1 0 3.4 0a1.7 1.7 0 1 0 -3.4 0M612.3 17.5a1.7 1.7 0 1 0 3.4 0a1.7 1.7 0 1 0 -3.4 0M617.3 18a1.7 1.7 0 1 0 3.4 0a1.7 1.7 0 1 0 -3.4 0M629.3 20a1.7 1.7 0 1 0 3.4 0a1.7 1.7 0 1 0 -3.4 0M635.3 13.5a1.7 1.7 0 1 0 3.4 0a1.7 1.7 0 1 0 -3.4 0M669.8 9.5a1.7 1.7 0 1 0 3.4 0a1.7 1.7 0 1 0 -3.4 0"/>
<path fill="#000000" d="M76 97.9a2 2 0 1 0 4 0a2 2 0 1 0 -4 0M82.4 95a2 2 0 1 0 4 0a2 2 0 1 0 -4 0M95.4 97.2a2 2 0 1 0 4 0a2 2 0 1 0 -4 0M109.4 92.9a2 2 0 1 0 4 0a2 2 0 1 0 -4 0M117.4 88.6a2 2 0 1 0 4 0a2 2 0 1 0 -4 0M129.9 88.6a2 2 0 1 0 4 0a2 2 0 1 0 -4 0M144.6 78.9a2 2 0 1 0 4 0a2 2 0 1 0 -4 0M186 66.3a2 2 0 1 0 4 0a2 2 0 1 0 -4 0M242.4 71.8a2 2 0 1 0 4 0a2 2 0 1 0 -4 0"/>
<path fill="#ff0000" d="M186 73.9a2 2 0 1 0 4 0a2 2 0 1 0 -4 0M186.5 77a2 2 0 1 0 4 0a2 2 0 1 0 -4 0M196.9 74.5a2 2 0 1 0 4 0a2 2 0 1 0 -4 0M197.5 77.5a2 2 0 1 0 4 0a2 2 0 1 0 -4 0M221.7 70.7a2 2 0 1 0 4 0a2 2 0 1 0 -4 0M159 83.2a2 2 0 1 0 4 0a2 2 0 1 0 -4 0M146 86a2 2 0 1 0 4 0a2 2 0 1 0 -4 0M71.6 94a2 2 0 1 0 4 0a2 2 0 1 0 -4 0M258 69.7a2 2 0 1 0 4 0a2 2 0 1 0 -4 0M269.4 69a2 2 0 1 0 4 0a2 2 0 1 0 -4 0M437.8 67.6a2 2 0 1 0 4 0a2 2 0 1 0 -4 0M440 67.8a2 2 0 1 0 4 0a2 2 0 1 0 -4 0M459.4 62.2a2 2 0 1 0 4 0a2 2 0 1 0 -4 0M430.2 66.5a2 2 0 1 0 4 0a2 2 0 1 0 -4 0M181 80a2 2 0 1 0 4 0a2 2 0 1 0 -4 0M184 78a2 2 0 1 0 4 0a2 2 0 1 0 -4 0"/>
<text x="77" y="25" font-size="14">a)</text>
<text x="64.8" y="35.2" font-size="15.3" text-anchor="end" textLength="25.3" lengthAdjust="spacingAndGlyphs">200</text>
<text x="64.8" y="60.1" font-size="15.3" text-anchor="end" textLength="25.3" lengthAdjust="spacingAndGlyphs">180</text>
<text x="64.8" y="85.4" font-size="15.3" text-anchor="end" textLength="25.3" lengthAdjust="spacingAndGlyphs">160</text>
<text x="64.8" y="110.6" font-size="15.3" text-anchor="end" textLength="25.3" lengthAdjust="spacingAndGlyphs">140</text>
<text x="71.5" y="142.3" font-size="15.3" text-anchor="middle" textLength="25.3" lengthAdjust="spacingAndGlyphs">110</text>
<text x="144.5" y="142.3" font-size="15.3" text-anchor="middle" textLength="25.3" lengthAdjust="spacingAndGlyphs">120</text>
<text x="222.1" y="142.3" font-size="15.3" text-anchor="middle" textLength="25.3" lengthAdjust="spacingAndGlyphs">130</text>
<text x="298.5" y="142.3" font-size="15.3" text-anchor="middle" textLength="25.3" lengthAdjust="spacingAndGlyphs">140</text>
<text x="373.3" y="142.3" font-size="15.3" text-anchor="middle" textLength="25.3" lengthAdjust="spacingAndGlyphs">150</text>
<text x="454.1" y="142.3" font-size="15.3" text-anchor="middle" textLength="25.3" lengthAdjust="spacingAndGlyphs">160</text>
<text x="523.7" y="142.3" font-size="15.3" text-anchor="middle" textLength="25.3" lengthAdjust="spacingAndGlyphs">170</text>
<text x="600.7" y="142.3" font-size="15.3" text-anchor="middle" textLength="25.3" lengthAdjust="spacingAndGlyphs">180</text>
<text x="675.7" y="142.3" font-size="15.3" text-anchor="middle" textLength="25.3" lengthAdjust="spacingAndGlyphs">190</text>
<text x="312" y="162.1" font-size="16.2" textLength="141.2" lengthAdjust="spacingAndGlyphs">SEL (dB re 1 µPa<tspan dy="-7" font-size="9.5">2</tspan><tspan dy="7">·s)</tspan></text>
<text transform="translate(23 135.3) rotate(-90)" font-size="16.2" textLength="122.5" lengthAdjust="spacingAndGlyphs">P-P (dB re 1 µPa)</text>
<line x1="146.8" y1="186.1" x2="146.8" y2="276.5" stroke="#e4e4e4" stroke-width="1.5"/>
<line x1="222.3" y1="166.6" x2="222.3" y2="276.5" stroke="#e4e4e4" stroke-width="1.5"/>
<line x1="297.9" y1="166.6" x2="297.9" y2="276.5" stroke="#e4e4e4" stroke-width="1.5"/>
<line x1="373.5" y1="166.6" x2="373.5" y2="276.5" stroke="#e4e4e4" stroke-width="1.5"/>
<line x1="449.1" y1="166.6" x2="449.1" y2="276.5" stroke="#e4e4e4" stroke-width="1.5"/>
<line x1="524.6" y1="166.6" x2="524.6" y2="276.5" stroke="#e4e4e4" stroke-width="1.5"/>
<line x1="600.2" y1="166.6" x2="600.2" y2="276.5" stroke="#e4e4e4" stroke-width="1.5"/>
<line x1="71.2" y1="186.3" x2="675.8" y2="186.3" stroke="#e4e4e4" stroke-width="1.5"/>
<line x1="71.2" y1="212" x2="675.8" y2="212" stroke="#e4e4e4" stroke-width="1.5"/>
<line x1="71.2" y1="237.7" x2="675.8" y2="237.7" stroke="#e4e4e4" stroke-width="1.5"/>
<line x1="71.2" y1="263.4" x2="675.8" y2="263.4" stroke="#e4e4e4" stroke-width="1.5"/>
<rect x="71.2" y="166.6" width="604.6" height="109.9" fill="none" stroke="#707070" stroke-width="1.6"/>
<path d="M146.8 276.5v-6.3M222.3 276.5v-6.3M222.3 166.6v6.3M297.9 276.5v-6.3M297.9 166.6v6.3M373.5 276.5v-6.3M373.5 166.6v6.3M449.1 276.5v-6.3M449.1 166.6v6.3M524.6 276.5v-6.3M524.6 166.6v6.3M600.2 276.5v-6.3M600.2 166.6v6.3M71.2 186.3h6.3M675.8 186.3h-6.3M71.2 212h6.3M675.8 212h-6.3M71.2 237.7h6.3M675.8 237.7h-6.3M71.2 263.4h6.3M675.8 263.4h-6.3" stroke="#707070" stroke-width="1.5" fill="none"/>
<text x="78" y="182.7" font-size="14">b)</text>
<text x="678.4" y="192.6" font-size="15.3" textLength="25.3" lengthAdjust="spacingAndGlyphs">180</text>
<text x="678.4" y="217.5" font-size="15.3" textLength="25.3" lengthAdjust="spacingAndGlyphs">160</text>
<text x="678.4" y="242.3" font-size="15.3" textLength="25.3" lengthAdjust="spacingAndGlyphs">140</text>
<text x="678.4" y="267.2" font-size="15.3" textLength="25.3" lengthAdjust="spacingAndGlyphs">120</text>
<text x="72.3" y="300.2" font-size="15.3" text-anchor="middle" textLength="25.3" lengthAdjust="spacingAndGlyphs">110</text>
<text x="145.4" y="300.2" font-size="15.3" text-anchor="middle" textLength="25.3" lengthAdjust="spacingAndGlyphs">120</text>
<text x="222" y="300.2" font-size="15.3" text-anchor="middle" textLength="25.3" lengthAdjust="spacingAndGlyphs">130</text>
<text x="298.5" y="300.2" font-size="15.3" text-anchor="middle" textLength="25.3" lengthAdjust="spacingAndGlyphs">140</text>
<text x="373.8" y="300.2" font-size="15.3" text-anchor="middle" textLength="25.3" lengthAdjust="spacingAndGlyphs">150</text>
<text x="454.8" y="300.2" font-size="15.3" text-anchor="middle" textLength="25.3" lengthAdjust="spacingAndGlyphs">160</text>
<text x="524.5" y="300.2" font-size="15.3" text-anchor="middle" textLength="25.3" lengthAdjust="spacingAndGlyphs">170</text>
<text x="600.5" y="300.2" font-size="15.3" text-anchor="middle" textLength="25.3" lengthAdjust="spacingAndGlyphs">180</text>
<text x="675.5" y="300.2" font-size="15.3" text-anchor="middle" textLength="25.3" lengthAdjust="spacingAndGlyphs">190</text>
<text x="312.4" y="320.5" font-size="16.2" textLength="141.5" lengthAdjust="spacingAndGlyphs">SEL (dB re 1 µPa<tspan dy="-7" font-size="9.5">2</tspan><tspan dy="7">·s)</tspan></text>
<text transform="translate(730.9 292) rotate(-90)" font-size="16.2" textLength="129.5" lengthAdjust="spacingAndGlyphs">SPL (dB re 1 µPa<tspan dy="-7" font-size="9.5">2</tspan><tspan dy="7">)</tspan></text>
<line x1="173.2" y1="348.3" x2="173.2" y2="439" stroke="#c8c8c8" stroke-width="1.1" stroke-dasharray="1.2 1.3"/>
<line x1="274.1" y1="329.3" x2="274.1" y2="439" stroke="#c8c8c8" stroke-width="1.1" stroke-dasharray="1.2 1.3"/>
<line x1="375.1" y1="329.3" x2="375.1" y2="439" stroke="#c8c8c8" stroke-width="1.1" stroke-dasharray="1.2 1.3"/>
<line x1="476" y1="329.3" x2="476" y2="439" stroke="#c8c8c8" stroke-width="1.1" stroke-dasharray="1.2 1.3"/>
<line x1="576.9" y1="329.3" x2="576.9" y2="439" stroke="#c8c8c8" stroke-width="1.1" stroke-dasharray="1.2 1.3"/>
<line x1="178.5" y1="342.9" x2="677.8" y2="342.9" stroke="#c8c8c8" stroke-width="1.1" stroke-dasharray="1.2 1.3"/>
<line x1="72.3" y1="370.4" x2="677.8" y2="370.4" stroke="#c8c8c8" stroke-width="1.1" stroke-dasharray="1.2 1.3"/>
<line x1="72.3" y1="398" x2="677.8" y2="398" stroke="#c8c8c8" stroke-width="1.1" stroke-dasharray="1.2 1.3"/>
<line x1="72.3" y1="425.5" x2="677.8" y2="425.5" stroke="#c8c8c8" stroke-width="1.1" stroke-dasharray="1.2 1.3"/>
<rect x="72.3" y="329.3" width="605.5" height="109.7" fill="none" stroke="#707070" stroke-width="1.6"/>
<path d="M173.2 439v-6.3M274.1 439v-6.3M274.1 329.3v6.3M375.1 439v-6.3M375.1 329.3v6.3M476 439v-6.3M476 329.3v6.3M576.9 439v-6.3M576.9 329.3v6.3M72.3 342.9h6.3M677.8 342.9h-6.3M72.3 370.4h6.3M677.8 370.4h-6.3M72.3 398h6.3M677.8 398h-6.3M72.3 425.5h6.3M677.8 425.5h-6.3" stroke="#707070" stroke-width="1.5" fill="none"/>
<text x="77.6" y="347.5" font-size="14">c)</text>
<text x="68.6" y="347" font-size="15.3" text-anchor="end" textLength="25.3" lengthAdjust="spacingAndGlyphs">140</text>
<text x="68.6" y="374.9" font-size="15.3" text-anchor="end" textLength="25.3" lengthAdjust="spacingAndGlyphs">120</text>
<text x="68.6" y="402.8" font-size="15.3" text-anchor="end" textLength="25.3" lengthAdjust="spacingAndGlyphs">100</text>
<text x="68.6" y="430.7" font-size="15.3" text-anchor="end" textLength="17" lengthAdjust="spacingAndGlyphs">80</text>
<text x="73.8" y="459.8" font-size="15.3" text-anchor="middle" textLength="25.3" lengthAdjust="spacingAndGlyphs">130</text>
<text x="173.8" y="459.8" font-size="15.3" text-anchor="middle" textLength="25.3" lengthAdjust="spacingAndGlyphs">140</text>
<text x="272.7" y="459.8" font-size="15.3" text-anchor="middle" textLength="25.3" lengthAdjust="spacingAndGlyphs">150</text>
<text x="375.9" y="459.8" font-size="15.3" text-anchor="middle" textLength="25.3" lengthAdjust="spacingAndGlyphs">160</text>
<text x="475.4" y="459.8" font-size="15.3" text-anchor="middle" textLength="25.3" lengthAdjust="spacingAndGlyphs">170</text>
<text x="575" y="459.8" font-size="15.3" text-anchor="middle" textLength="25.3" lengthAdjust="spacingAndGlyphs">180</text>
<text x="677.5" y="459.8" font-size="15.3" text-anchor="middle" textLength="25.3" lengthAdjust="spacingAndGlyphs">190</text>
<text x="306.8" y="482.5" font-size="16.2" textLength="141.6" lengthAdjust="spacingAndGlyphs">SEL (dB re 1 µPa<tspan dy="-7" font-size="9.5">2</tspan><tspan dy="7">·s)</tspan></text>
<text transform="translate(23.2 475.1) rotate(-90)" font-size="16.2" textLength="173" lengthAdjust="spacingAndGlyphs">MxMGA (dB re 1 µms<tspan dy="-7" font-size="9.5">-2</tspan><tspan dy="7">)</tspan></text>
<line x1="170.9" y1="488.5" x2="170.9" y2="596.2" stroke="#c8c8c8" stroke-width="1.1" stroke-dasharray="1.2 1.3"/>
<line x1="272.3" y1="488.5" x2="272.3" y2="596.2" stroke="#c8c8c8" stroke-width="1.1" stroke-dasharray="1.2 1.3"/>
<line x1="373.6" y1="488.5" x2="373.6" y2="596.2" stroke="#c8c8c8" stroke-width="1.1" stroke-dasharray="1.2 1.3"/>
<line x1="475" y1="488.5" x2="475" y2="596.2" stroke="#c8c8c8" stroke-width="1.1" stroke-dasharray="1.2 1.3"/>
<line x1="576.4" y1="488.5" x2="576.4" y2="596.2" stroke="#c8c8c8" stroke-width="1.1" stroke-dasharray="1.2 1.3"/>
<line x1="169" y1="501.6" x2="677.7" y2="501.6" stroke="#c8c8c8" stroke-width="1.1" stroke-dasharray="1.2 1.3"/>
<line x1="69.6" y1="528.7" x2="677.7" y2="528.7" stroke="#c8c8c8" stroke-width="1.1" stroke-dasharray="1.2 1.3"/>
<line x1="69.6" y1="555.7" x2="677.7" y2="555.7" stroke="#c8c8c8" stroke-width="1.1" stroke-dasharray="1.2 1.3"/>
<line x1="69.6" y1="582.8" x2="677.7" y2="582.8" stroke="#c8c8c8" stroke-width="1.1" stroke-dasharray="1.2 1.3"/>
<rect x="69.6" y="488.5" width="608.1" height="107.7" fill="none" stroke="#707070" stroke-width="1.6"/>
<path d="M170.9 596.2v-6.3M170.9 488.5v6.3M272.3 596.2v-6.3M272.3 488.5v6.3M373.6 596.2v-6.3M373.6 488.5v6.3M475 596.2v-6.3M475 488.5v6.3M576.4 596.2v-6.3M576.4 488.5v6.3M69.6 501.6h6.3M677.7 501.6h-6.3M69.6 528.7h6.3M677.7 528.7h-6.3M69.6 555.7h6.3M677.7 555.7h-6.3M69.6 582.8h6.3M677.7 582.8h-6.3" stroke="#707070" stroke-width="1.5" fill="none"/>
<text x="75" y="506" font-size="14">d)</text>
<text x="679.9" y="506.4" font-size="15.3" textLength="25.3" lengthAdjust="spacingAndGlyphs">140</text>
<text x="679.9" y="534" font-size="15.3" textLength="25.3" lengthAdjust="spacingAndGlyphs">120</text>
<text x="679.9" y="561.5" font-size="15.3" textLength="25.3" lengthAdjust="spacingAndGlyphs">100</text>
<text x="679.9" y="589.1" font-size="15.3" textLength="17" lengthAdjust="spacingAndGlyphs">80</text>
<text x="73.2" y="618.6" font-size="15.3" text-anchor="middle" textLength="25.3" lengthAdjust="spacingAndGlyphs">120</text>
<text x="173.3" y="618.6" font-size="15.3" text-anchor="middle" textLength="25.3" lengthAdjust="spacingAndGlyphs">130</text>
<text x="271.8" y="618.6" font-size="15.3" text-anchor="middle" textLength="25.3" lengthAdjust="spacingAndGlyphs">140</text>
<text x="374" y="618.6" font-size="15.3" text-anchor="middle" textLength="25.3" lengthAdjust="spacingAndGlyphs">150</text>
<text x="474.6" y="618.6" font-size="15.3" text-anchor="middle" textLength="25.3" lengthAdjust="spacingAndGlyphs">160</text>
<text x="573.9" y="618.6" font-size="15.3" text-anchor="middle" textLength="25.3" lengthAdjust="spacingAndGlyphs">170</text>
<text x="676.7" y="618.6" font-size="15.3" text-anchor="middle" textLength="25.3" lengthAdjust="spacingAndGlyphs">180</text>
<text x="306.8" y="641.3" font-size="16.2" textLength="141.6" lengthAdjust="spacingAndGlyphs">SEL (dB re 1 µPa<tspan dy="-7" font-size="9.5">2</tspan><tspan dy="7">·s)</tspan></text>
<text transform="translate(730.2 634.2) rotate(-90)" font-size="16.2" textLength="173" lengthAdjust="spacingAndGlyphs">MxMPA  (dB re 1 µms<tspan dy="-7" font-size="9.5">-2</tspan><tspan dy="7">)</tspan></text>
<line x1="145" y1="666" x2="145" y2="756.1" stroke="#c8c8c8" stroke-width="1.1" stroke-dasharray="1.2 1.3"/>
<line x1="221.2" y1="647.5" x2="221.2" y2="756.1" stroke="#c8c8c8" stroke-width="1.1" stroke-dasharray="1.2 1.3"/>
<line x1="297.3" y1="647.5" x2="297.3" y2="756.1" stroke="#c8c8c8" stroke-width="1.1" stroke-dasharray="1.2 1.3"/>
<line x1="373.5" y1="647.5" x2="373.5" y2="756.1" stroke="#c8c8c8" stroke-width="1.1" stroke-dasharray="1.2 1.3"/>
<line x1="449.7" y1="647.5" x2="449.7" y2="756.1" stroke="#c8c8c8" stroke-width="1.1" stroke-dasharray="1.2 1.3"/>
<line x1="525.9" y1="647.5" x2="525.9" y2="756.1" stroke="#c8c8c8" stroke-width="1.1" stroke-dasharray="1.2 1.3"/>
<line x1="602" y1="647.5" x2="602" y2="756.1" stroke="#c8c8c8" stroke-width="1.1" stroke-dasharray="1.2 1.3"/>
<line x1="170" y1="660.6" x2="678.2" y2="660.6" stroke="#c8c8c8" stroke-width="1.1" stroke-dasharray="1.2 1.3"/>
<line x1="68.8" y1="687.8" x2="678.2" y2="687.8" stroke="#c8c8c8" stroke-width="1.1" stroke-dasharray="1.2 1.3"/>
<line x1="68.8" y1="714.9" x2="678.2" y2="714.9" stroke="#c8c8c8" stroke-width="1.1" stroke-dasharray="1.2 1.3"/>
<line x1="68.8" y1="742.1" x2="678.2" y2="742.1" stroke="#c8c8c8" stroke-width="1.1" stroke-dasharray="1.2 1.3"/>
<rect x="68.8" y="647.5" width="609.4" height="108.6" fill="none" stroke="#707070" stroke-width="1.6"/>
<path d="M145 756.1v-6.3M221.2 756.1v-6.3M221.2 647.5v6.3M297.3 756.1v-6.3M297.3 647.5v6.3M373.5 756.1v-6.3M373.5 647.5v6.3M449.7 756.1v-6.3M449.7 647.5v6.3M525.9 756.1v-6.3M525.9 647.5v6.3M602 756.1v-6.3M602 647.5v6.3M68.8 660.6h6.3M678.2 660.6h-6.3M68.8 687.8h6.3M678.2 687.8h-6.3M68.8 714.9h6.3M678.2 714.9h-6.3M68.8 742.1h6.3M678.2 742.1h-6.3" stroke="#707070" stroke-width="1.5" fill="none"/>
<text x="74.5" y="665" font-size="14">e)</text>
<text x="65.1" y="666" font-size="15.3" text-anchor="end" textLength="25.3" lengthAdjust="spacingAndGlyphs">140</text>
<text x="65.1" y="693.8" font-size="15.3" text-anchor="end" textLength="25.3" lengthAdjust="spacingAndGlyphs">120</text>
<text x="65.1" y="721" font-size="15.3" text-anchor="end" textLength="25.3" lengthAdjust="spacingAndGlyphs">100</text>
<text x="65.1" y="748.3" font-size="15.3" text-anchor="end" textLength="17" lengthAdjust="spacingAndGlyphs">80</text>
<text x="64.5" y="782.4" font-size="15.3" text-anchor="middle" textLength="17" lengthAdjust="spacingAndGlyphs">70</text>
<text x="145.1" y="782.4" font-size="15.3" text-anchor="middle" textLength="17" lengthAdjust="spacingAndGlyphs">80</text>
<text x="218.3" y="782.4" font-size="15.3" text-anchor="middle" textLength="17" lengthAdjust="spacingAndGlyphs">90</text>
<text x="296.5" y="782.4" font-size="15.3" text-anchor="middle" textLength="25.3" lengthAdjust="spacingAndGlyphs">100</text>
<text x="373.7" y="782.4" font-size="15.3" text-anchor="middle" textLength="25.3" lengthAdjust="spacingAndGlyphs">110</text>
<text x="451.3" y="782.4" font-size="15.3" text-anchor="middle" textLength="25.3" lengthAdjust="spacingAndGlyphs">120</text>
<text x="525.3" y="782.4" font-size="15.3" text-anchor="middle" textLength="25.3" lengthAdjust="spacingAndGlyphs">130</text>
<text x="602.6" y="782.4" font-size="15.3" text-anchor="middle" textLength="25.3" lengthAdjust="spacingAndGlyphs">140</text>
<text x="677.1" y="782.4" font-size="15.3" text-anchor="middle" textLength="25.3" lengthAdjust="spacingAndGlyphs">150</text>
<text x="277.2" y="804" font-size="16.2" textLength="169.6" lengthAdjust="spacingAndGlyphs">MxMPA (dB re 1 µms<tspan dy="-7" font-size="9.5">-2</tspan><tspan dy="7">)</tspan></text>
<text transform="translate(25.5 788.9) rotate(-90)" font-size="16.2" textLength="172.5" lengthAdjust="spacingAndGlyphs">MxMGA (dB re 1 µms<tspan dy="-7" font-size="9.5">-2</tspan><tspan dy="7">)</tspan></text>
<path fill="#ff0000" d="M111.3 244a1.9 1.9 0 1 0 3.8 0a1.9 1.9 0 1 0 -3.8 0M162.2 240.2a1.9 1.9 0 1 0 3.8 0a1.9 1.9 0 1 0 -3.8 0M200.4 242.5a1.9 1.9 0 1 0 3.8 0a1.9 1.9 0 1 0 -3.8 0M81.8 253.1a1.9 1.9 0 1 0 3.8 0a1.9 1.9 0 1 0 -3.8 0M335.2 217.7a1.9 1.9 0 1 0 3.8 0a1.9 1.9 0 1 0 -3.8 0M108.2 251.6a1.9 1.9 0 1 0 3.8 0a1.9 1.9 0 1 0 -3.8 0M149.8 243.7a1.9 1.9 0 1 0 3.8 0a1.9 1.9 0 1 0 -3.8 0M107.8 247.9a1.9 1.9 0 1 0 3.8 0a1.9 1.9 0 1 0 -3.8 0M72.5 249.8a1.9 1.9 0 1 0 3.8 0a1.9 1.9 0 1 0 -3.8 0M319.6 225.7a1.9 1.9 0 1 0 3.8 0a1.9 1.9 0 1 0 -3.8 0M309.1 221.8a1.9 1.9 0 1 0 3.8 0a1.9 1.9 0 1 0 -3.8 0M238.8 236.9a1.9 1.9 0 1 0 3.8 0a1.9 1.9 0 1 0 -3.8 0M84.4 249.6a1.9 1.9 0 1 0 3.8 0a1.9 1.9 0 1 0 -3.8 0M304.2 227.9a1.9 1.9 0 1 0 3.8 0a1.9 1.9 0 1 0 -3.8 0M313 220.5a1.9 1.9 0 1 0 3.8 0a1.9 1.9 0 1 0 -3.8 0M333.3 217.8a1.9 1.9 0 1 0 3.8 0a1.9 1.9 0 1 0 -3.8 0M318.9 219.7a1.9 1.9 0 1 0 3.8 0a1.9 1.9 0 1 0 -3.8 0M84.6 250.2a1.9 1.9 0 1 0 3.8 0a1.9 1.9 0 1 0 -3.8 0M73.4 254.1a1.9 1.9 0 1 0 3.8 0a1.9 1.9 0 1 0 -3.8 0M69.6 255.4a1.9 1.9 0 1 0 3.8 0a1.9 1.9 0 1 0 -3.8 0M128 242.7a1.9 1.9 0 1 0 3.8 0a1.9 1.9 0 1 0 -3.8 0M124.7 244.7a1.9 1.9 0 1 0 3.8 0a1.9 1.9 0 1 0 -3.8 0M86.8 250.5a1.9 1.9 0 1 0 3.8 0a1.9 1.9 0 1 0 -3.8 0M84.1 254.3a1.9 1.9 0 1 0 3.8 0a1.9 1.9 0 1 0 -3.8 0M73.3 259.1a1.9 1.9 0 1 0 3.8 0a1.9 1.9 0 1 0 -3.8 0M209.5 236.6a1.9 1.9 0 1 0 3.8 0a1.9 1.9 0 1 0 -3.8 0M202.7 239.9a1.9 1.9 0 1 0 3.8 0a1.9 1.9 0 1 0 -3.8 0M212.3 241.1a1.9 1.9 0 1 0 3.8 0a1.9 1.9 0 1 0 -3.8 0M74.7 261.9a1.9 1.9 0 1 0 3.8 0a1.9 1.9 0 1 0 -3.8 0M95.1 248.9a1.9 1.9 0 1 0 3.8 0a1.9 1.9 0 1 0 -3.8 0M96.9 257.2a1.9 1.9 0 1 0 3.8 0a1.9 1.9 0 1 0 -3.8 0M106.1 243.7a1.9 1.9 0 1 0 3.8 0a1.9 1.9 0 1 0 -3.8 0M301.6 222.1a1.9 1.9 0 1 0 3.8 0a1.9 1.9 0 1 0 -3.8 0M113.5 255.1a1.9 1.9 0 1 0 3.8 0a1.9 1.9 0 1 0 -3.8 0M211 234.2a1.9 1.9 0 1 0 3.8 0a1.9 1.9 0 1 0 -3.8 0M183.1 245.7a1.9 1.9 0 1 0 3.8 0a1.9 1.9 0 1 0 -3.8 0M167.5 240.7a1.9 1.9 0 1 0 3.8 0a1.9 1.9 0 1 0 -3.8 0M78.4 246.1a1.9 1.9 0 1 0 3.8 0a1.9 1.9 0 1 0 -3.8 0M140.9 247.9a1.9 1.9 0 1 0 3.8 0a1.9 1.9 0 1 0 -3.8 0M142.9 241.3a1.9 1.9 0 1 0 3.8 0a1.9 1.9 0 1 0 -3.8 0M136.8 240.2a1.9 1.9 0 1 0 3.8 0a1.9 1.9 0 1 0 -3.8 0M195 240.9a1.9 1.9 0 1 0 3.8 0a1.9 1.9 0 1 0 -3.8 0M207.5 233.6a1.9 1.9 0 1 0 3.8 0a1.9 1.9 0 1 0 -3.8 0M133.5 242a1.9 1.9 0 1 0 3.8 0a1.9 1.9 0 1 0 -3.8 0M87.1 257.3a1.9 1.9 0 1 0 3.8 0a1.9 1.9 0 1 0 -3.8 0M103.5 257.2a1.9 1.9 0 1 0 3.8 0a1.9 1.9 0 1 0 -3.8 0M70.3 252.1a1.9 1.9 0 1 0 3.8 0a1.9 1.9 0 1 0 -3.8 0M227.3 239.1a1.9 1.9 0 1 0 3.8 0a1.9 1.9 0 1 0 -3.8 0M219 233.6a1.9 1.9 0 1 0 3.8 0a1.9 1.9 0 1 0 -3.8 0M92.8 259.6a1.9 1.9 0 1 0 3.8 0a1.9 1.9 0 1 0 -3.8 0M229.7 232a1.9 1.9 0 1 0 3.8 0a1.9 1.9 0 1 0 -3.8 0M200.5 236.3a1.9 1.9 0 1 0 3.8 0a1.9 1.9 0 1 0 -3.8 0M161.8 240.7a1.9 1.9 0 1 0 3.8 0a1.9 1.9 0 1 0 -3.8 0M289.4 223.3a1.9 1.9 0 1 0 3.8 0a1.9 1.9 0 1 0 -3.8 0M98.9 258.4a1.9 1.9 0 1 0 3.8 0a1.9 1.9 0 1 0 -3.8 0M147.4 239.8a1.9 1.9 0 1 0 3.8 0a1.9 1.9 0 1 0 -3.8 0M118.4 245.6a1.9 1.9 0 1 0 3.8 0a1.9 1.9 0 1 0 -3.8 0M231.9 232.1a1.9 1.9 0 1 0 3.8 0a1.9 1.9 0 1 0 -3.8 0M111.4 251.8a1.9 1.9 0 1 0 3.8 0a1.9 1.9 0 1 0 -3.8 0M72.5 252.4a1.9 1.9 0 1 0 3.8 0a1.9 1.9 0 1 0 -3.8 0M156.3 249.7a1.9 1.9 0 1 0 3.8 0a1.9 1.9 0 1 0 -3.8 0M81 260.1a1.9 1.9 0 1 0 3.8 0a1.9 1.9 0 1 0 -3.8 0M151.1 244.2a1.9 1.9 0 1 0 3.8 0a1.9 1.9 0 1 0 -3.8 0M283.1 226.8a1.9 1.9 0 1 0 3.8 0a1.9 1.9 0 1 0 -3.8 0M147.6 242.2a1.9 1.9 0 1 0 3.8 0a1.9 1.9 0 1 0 -3.8 0M78.5 247.2a1.9 1.9 0 1 0 3.8 0a1.9 1.9 0 1 0 -3.8 0M104.5 249.3a1.9 1.9 0 1 0 3.8 0a1.9 1.9 0 1 0 -3.8 0M227.7 232.8a1.9 1.9 0 1 0 3.8 0a1.9 1.9 0 1 0 -3.8 0M135.6 244.5a1.9 1.9 0 1 0 3.8 0a1.9 1.9 0 1 0 -3.8 0M220.8 232.5a1.9 1.9 0 1 0 3.8 0a1.9 1.9 0 1 0 -3.8 0M262.6 228.7a1.9 1.9 0 1 0 3.8 0a1.9 1.9 0 1 0 -3.8 0M301.6 221.4a1.9 1.9 0 1 0 3.8 0a1.9 1.9 0 1 0 -3.8 0M164.2 245.5a1.9 1.9 0 1 0 3.8 0a1.9 1.9 0 1 0 -3.8 0M153 246a1.9 1.9 0 1 0 3.8 0a1.9 1.9 0 1 0 -3.8 0M117.6 255.7a1.9 1.9 0 1 0 3.8 0a1.9 1.9 0 1 0 -3.8 0M253.9 231.9a1.9 1.9 0 1 0 3.8 0a1.9 1.9 0 1 0 -3.8 0M69.4 255.5a1.9 1.9 0 1 0 3.8 0a1.9 1.9 0 1 0 -3.8 0M278.7 228.9a1.9 1.9 0 1 0 3.8 0a1.9 1.9 0 1 0 -3.8 0M80.7 256.4a1.9 1.9 0 1 0 3.8 0a1.9 1.9 0 1 0 -3.8 0M282.8 225.2a1.9 1.9 0 1 0 3.8 0a1.9 1.9 0 1 0 -3.8 0M92.4 248.7a1.9 1.9 0 1 0 3.8 0a1.9 1.9 0 1 0 -3.8 0M292.9 228.6a1.9 1.9 0 1 0 3.8 0a1.9 1.9 0 1 0 -3.8 0M93.4 260.9a1.9 1.9 0 1 0 3.8 0a1.9 1.9 0 1 0 -3.8 0M103.6 252a1.9 1.9 0 1 0 3.8 0a1.9 1.9 0 1 0 -3.8 0M80.9 249.1a1.9 1.9 0 1 0 3.8 0a1.9 1.9 0 1 0 -3.8 0M286.6 227.7a1.9 1.9 0 1 0 3.8 0a1.9 1.9 0 1 0 -3.8 0M106 249.3a1.9 1.9 0 1 0 3.8 0a1.9 1.9 0 1 0 -3.8 0M134.4 240a1.9 1.9 0 1 0 3.8 0a1.9 1.9 0 1 0 -3.8 0M308 221.9a1.9 1.9 0 1 0 3.8 0a1.9 1.9 0 1 0 -3.8 0M72 263.1a1.9 1.9 0 1 0 3.8 0a1.9 1.9 0 1 0 -3.8 0M201.1 236.1a1.9 1.9 0 1 0 3.8 0a1.9 1.9 0 1 0 -3.8 0M71.3 259.6a1.9 1.9 0 1 0 3.8 0a1.9 1.9 0 1 0 -3.8 0M319.3 223.2a1.9 1.9 0 1 0 3.8 0a1.9 1.9 0 1 0 -3.8 0M269.5 230.8a1.9 1.9 0 1 0 3.8 0a1.9 1.9 0 1 0 -3.8 0M118.9 255a1.9 1.9 0 1 0 3.8 0a1.9 1.9 0 1 0 -3.8 0M217.9 232.9a1.9 1.9 0 1 0 3.8 0a1.9 1.9 0 1 0 -3.8 0M293.6 226.6a1.9 1.9 0 1 0 3.8 0a1.9 1.9 0 1 0 -3.8 0M150 243.2a1.9 1.9 0 1 0 3.8 0a1.9 1.9 0 1 0 -3.8 0M90.8 248.4a1.9 1.9 0 1 0 3.8 0a1.9 1.9 0 1 0 -3.8 0M330.9 219.3a1.9 1.9 0 1 0 3.8 0a1.9 1.9 0 1 0 -3.8 0M120.6 250.1a1.9 1.9 0 1 0 3.8 0a1.9 1.9 0 1 0 -3.8 0M69.9 255.8a1.9 1.9 0 1 0 3.8 0a1.9 1.9 0 1 0 -3.8 0M188.8 242.3a1.9 1.9 0 1 0 3.8 0a1.9 1.9 0 1 0 -3.8 0M85.3 247.8a1.9 1.9 0 1 0 3.8 0a1.9 1.9 0 1 0 -3.8 0M120.1 247.9a1.9 1.9 0 1 0 3.8 0a1.9 1.9 0 1 0 -3.8 0M247.4 233a1.9 1.9 0 1 0 3.8 0a1.9 1.9 0 1 0 -3.8 0M225.9 235.2a1.9 1.9 0 1 0 3.8 0a1.9 1.9 0 1 0 -3.8 0M212.2 242.4a1.9 1.9 0 1 0 3.8 0a1.9 1.9 0 1 0 -3.8 0M301.9 227.3a1.9 1.9 0 1 0 3.8 0a1.9 1.9 0 1 0 -3.8 0M106 252.6a1.9 1.9 0 1 0 3.8 0a1.9 1.9 0 1 0 -3.8 0M150.1 249.3a1.9 1.9 0 1 0 3.8 0a1.9 1.9 0 1 0 -3.8 0M304.2 223.1a1.9 1.9 0 1 0 3.8 0a1.9 1.9 0 1 0 -3.8 0M270.4 231.6a1.9 1.9 0 1 0 3.8 0a1.9 1.9 0 1 0 -3.8 0M285.3 224a1.9 1.9 0 1 0 3.8 0a1.9 1.9 0 1 0 -3.8 0M254.6 233.5a1.9 1.9 0 1 0 3.8 0a1.9 1.9 0 1 0 -3.8 0M108 257.5a1.9 1.9 0 1 0 3.8 0a1.9 1.9 0 1 0 -3.8 0M175.1 238.1a1.9 1.9 0 1 0 3.8 0a1.9 1.9 0 1 0 -3.8 0M111.8 256a1.9 1.9 0 1 0 3.8 0a1.9 1.9 0 1 0 -3.8 0M166.6 237.7a1.9 1.9 0 1 0 3.8 0a1.9 1.9 0 1 0 -3.8 0M224.9 233.8a1.9 1.9 0 1 0 3.8 0a1.9 1.9 0 1 0 -3.8 0M225.5 231.2a1.9 1.9 0 1 0 3.8 0a1.9 1.9 0 1 0 -3.8 0M335.4 217.2a1.9 1.9 0 1 0 3.8 0a1.9 1.9 0 1 0 -3.8 0M108.5 247.5a1.9 1.9 0 1 0 3.8 0a1.9 1.9 0 1 0 -3.8 0M240.4 232.6a1.9 1.9 0 1 0 3.8 0a1.9 1.9 0 1 0 -3.8 0M253.1 229.7a1.9 1.9 0 1 0 3.8 0a1.9 1.9 0 1 0 -3.8 0M163.7 241.7a1.9 1.9 0 1 0 3.8 0a1.9 1.9 0 1 0 -3.8 0M189.4 242.6a1.9 1.9 0 1 0 3.8 0a1.9 1.9 0 1 0 -3.8 0M152.4 250.2a1.9 1.9 0 1 0 3.8 0a1.9 1.9 0 1 0 -3.8 0M117.4 243.2a1.9 1.9 0 1 0 3.8 0a1.9 1.9 0 1 0 -3.8 0M141.5 249.2a1.9 1.9 0 1 0 3.8 0a1.9 1.9 0 1 0 -3.8 0M123.2 244.2a1.9 1.9 0 1 0 3.8 0a1.9 1.9 0 1 0 -3.8 0M122.2 250.6a1.9 1.9 0 1 0 3.8 0a1.9 1.9 0 1 0 -3.8 0M90.5 254.3a1.9 1.9 0 1 0 3.8 0a1.9 1.9 0 1 0 -3.8 0M238.2 231.2a1.9 1.9 0 1 0 3.8 0a1.9 1.9 0 1 0 -3.8 0M72.8 259.9a1.9 1.9 0 1 0 3.8 0a1.9 1.9 0 1 0 -3.8 0M264.6 231a1.9 1.9 0 1 0 3.8 0a1.9 1.9 0 1 0 -3.8 0M107.6 252.2a1.9 1.9 0 1 0 3.8 0a1.9 1.9 0 1 0 -3.8 0M93.4 254.5a1.9 1.9 0 1 0 3.8 0a1.9 1.9 0 1 0 -3.8 0M183.4 241.1a1.9 1.9 0 1 0 3.8 0a1.9 1.9 0 1 0 -3.8 0M138.7 249.5a1.9 1.9 0 1 0 3.8 0a1.9 1.9 0 1 0 -3.8 0M144.2 240.4a1.9 1.9 0 1 0 3.8 0a1.9 1.9 0 1 0 -3.8 0M323.2 221.4a1.9 1.9 0 1 0 3.8 0a1.9 1.9 0 1 0 -3.8 0M130.7 251.7a1.9 1.9 0 1 0 3.8 0a1.9 1.9 0 1 0 -3.8 0M204.6 241.9a1.9 1.9 0 1 0 3.8 0a1.9 1.9 0 1 0 -3.8 0M117 250.8a1.9 1.9 0 1 0 3.8 0a1.9 1.9 0 1 0 -3.8 0M317.9 222.9a1.9 1.9 0 1 0 3.8 0a1.9 1.9 0 1 0 -3.8 0M76.9 252.7a1.9 1.9 0 1 0 3.8 0a1.9 1.9 0 1 0 -3.8 0M313 220.2a1.9 1.9 0 1 0 3.8 0a1.9 1.9 0 1 0 -3.8 0M243.4 234.5a1.9 1.9 0 1 0 3.8 0a1.9 1.9 0 1 0 -3.8 0M221.4 234.9a1.9 1.9 0 1 0 3.8 0a1.9 1.9 0 1 0 -3.8 0"/>
<path fill="#000000" d="M124.1 251.8a1.8 1.8 0 1 0 3.6 0a1.8 1.8 0 1 0 -3.6 0M242.7 229.5a1.8 1.8 0 1 0 3.6 0a1.8 1.8 0 1 0 -3.6 0M141.4 251.4a1.8 1.8 0 1 0 3.6 0a1.8 1.8 0 1 0 -3.6 0M291.4 228.7a1.8 1.8 0 1 0 3.6 0a1.8 1.8 0 1 0 -3.6 0M158.7 238.5a1.8 1.8 0 1 0 3.6 0a1.8 1.8 0 1 0 -3.6 0M309.8 222.8a1.8 1.8 0 1 0 3.6 0a1.8 1.8 0 1 0 -3.6 0M191.5 243.1a1.8 1.8 0 1 0 3.6 0a1.8 1.8 0 1 0 -3.6 0M307.6 225.2a1.8 1.8 0 1 0 3.6 0a1.8 1.8 0 1 0 -3.6 0M315.3 222.3a1.8 1.8 0 1 0 3.6 0a1.8 1.8 0 1 0 -3.6 0M114.8 248.1a1.8 1.8 0 1 0 3.6 0a1.8 1.8 0 1 0 -3.6 0M306.4 220.8a1.8 1.8 0 1 0 3.6 0a1.8 1.8 0 1 0 -3.6 0M266.7 228.2a1.8 1.8 0 1 0 3.6 0a1.8 1.8 0 1 0 -3.6 0M206.6 234.8a1.8 1.8 0 1 0 3.6 0a1.8 1.8 0 1 0 -3.6 0M219.5 232.6a1.8 1.8 0 1 0 3.6 0a1.8 1.8 0 1 0 -3.6 0M72.1 248.4a1.8 1.8 0 1 0 3.6 0a1.8 1.8 0 1 0 -3.6 0M234.1 233.3a1.8 1.8 0 1 0 3.6 0a1.8 1.8 0 1 0 -3.6 0M100.6 255.9a1.8 1.8 0 1 0 3.6 0a1.8 1.8 0 1 0 -3.6 0M82.6 248.7a1.8 1.8 0 1 0 3.6 0a1.8 1.8 0 1 0 -3.6 0M156.8 246.3a1.8 1.8 0 1 0 3.6 0a1.8 1.8 0 1 0 -3.6 0M175.5 240.5a1.8 1.8 0 1 0 3.6 0a1.8 1.8 0 1 0 -3.6 0M156.2 245.5a1.8 1.8 0 1 0 3.6 0a1.8 1.8 0 1 0 -3.6 0M212 240.4a1.8 1.8 0 1 0 3.6 0a1.8 1.8 0 1 0 -3.6 0M210 237a1.8 1.8 0 1 0 3.6 0a1.8 1.8 0 1 0 -3.6 0M190.5 238.2a1.8 1.8 0 1 0 3.6 0a1.8 1.8 0 1 0 -3.6 0M109.7 248a1.8 1.8 0 1 0 3.6 0a1.8 1.8 0 1 0 -3.6 0M168.3 240.3a1.8 1.8 0 1 0 3.6 0a1.8 1.8 0 1 0 -3.6 0M117.4 249.8a1.8 1.8 0 1 0 3.6 0a1.8 1.8 0 1 0 -3.6 0M93.9 245.9a1.8 1.8 0 1 0 3.6 0a1.8 1.8 0 1 0 -3.6 0M301.1 224.8a1.8 1.8 0 1 0 3.6 0a1.8 1.8 0 1 0 -3.6 0M236 233a1.8 1.8 0 1 0 3.6 0a1.8 1.8 0 1 0 -3.6 0M261.4 233.1a1.8 1.8 0 1 0 3.6 0a1.8 1.8 0 1 0 -3.6 0M248.9 231a1.8 1.8 0 1 0 3.6 0a1.8 1.8 0 1 0 -3.6 0M88.3 251.7a1.8 1.8 0 1 0 3.6 0a1.8 1.8 0 1 0 -3.6 0M171.6 240.5a1.8 1.8 0 1 0 3.6 0a1.8 1.8 0 1 0 -3.6 0M229.2 237.4a1.8 1.8 0 1 0 3.6 0a1.8 1.8 0 1 0 -3.6 0M181.2 238a1.8 1.8 0 1 0 3.6 0a1.8 1.8 0 1 0 -3.6 0M201.8 239.8a1.8 1.8 0 1 0 3.6 0a1.8 1.8 0 1 0 -3.6 0M80.2 248a1.8 1.8 0 1 0 3.6 0a1.8 1.8 0 1 0 -3.6 0M93 251.5a1.8 1.8 0 1 0 3.6 0a1.8 1.8 0 1 0 -3.6 0M219.2 239.8a1.8 1.8 0 1 0 3.6 0a1.8 1.8 0 1 0 -3.6 0M170.1 237.5a1.8 1.8 0 1 0 3.6 0a1.8 1.8 0 1 0 -3.6 0M201.2 243.3a1.8 1.8 0 1 0 3.6 0a1.8 1.8 0 1 0 -3.6 0M154.1 240.9a1.8 1.8 0 1 0 3.6 0a1.8 1.8 0 1 0 -3.6 0M179.6 242.4a1.8 1.8 0 1 0 3.6 0a1.8 1.8 0 1 0 -3.6 0M284.1 229.1a1.8 1.8 0 1 0 3.6 0a1.8 1.8 0 1 0 -3.6 0M229.1 237a1.8 1.8 0 1 0 3.6 0a1.8 1.8 0 1 0 -3.6 0M186.3 246a1.8 1.8 0 1 0 3.6 0a1.8 1.8 0 1 0 -3.6 0M82.4 256.8a1.8 1.8 0 1 0 3.6 0a1.8 1.8 0 1 0 -3.6 0M251.4 229.3a1.8 1.8 0 1 0 3.6 0a1.8 1.8 0 1 0 -3.6 0M94.9 253a1.8 1.8 0 1 0 3.6 0a1.8 1.8 0 1 0 -3.6 0M132 243.2a1.8 1.8 0 1 0 3.6 0a1.8 1.8 0 1 0 -3.6 0M155.3 242.2a1.8 1.8 0 1 0 3.6 0a1.8 1.8 0 1 0 -3.6 0M110.2 253.8a1.8 1.8 0 1 0 3.6 0a1.8 1.8 0 1 0 -3.6 0M100.1 255.2a1.8 1.8 0 1 0 3.6 0a1.8 1.8 0 1 0 -3.6 0M102.2 259.8a1.8 1.8 0 1 0 3.6 0a1.8 1.8 0 1 0 -3.6 0M281.9 229.5a1.8 1.8 0 1 0 3.6 0a1.8 1.8 0 1 0 -3.6 0M225.3 232.1a1.8 1.8 0 1 0 3.6 0a1.8 1.8 0 1 0 -3.6 0M170.4 247.2a1.8 1.8 0 1 0 3.6 0a1.8 1.8 0 1 0 -3.6 0M94.6 257.6a1.8 1.8 0 1 0 3.6 0a1.8 1.8 0 1 0 -3.6 0M213.8 239.6a1.8 1.8 0 1 0 3.6 0a1.8 1.8 0 1 0 -3.6 0M175.4 240.1a1.8 1.8 0 1 0 3.6 0a1.8 1.8 0 1 0 -3.6 0M132.4 243.9a1.8 1.8 0 1 0 3.6 0a1.8 1.8 0 1 0 -3.6 0M72.1 260.6a1.8 1.8 0 1 0 3.6 0a1.8 1.8 0 1 0 -3.6 0M262.9 231.9a1.8 1.8 0 1 0 3.6 0a1.8 1.8 0 1 0 -3.6 0M105.6 255.2a1.8 1.8 0 1 0 3.6 0a1.8 1.8 0 1 0 -3.6 0M281.8 227.2a1.8 1.8 0 1 0 3.6 0a1.8 1.8 0 1 0 -3.6 0M295.6 226.3a1.8 1.8 0 1 0 3.6 0a1.8 1.8 0 1 0 -3.6 0M92.7 246.6a1.8 1.8 0 1 0 3.6 0a1.8 1.8 0 1 0 -3.6 0M99.1 254.4a1.8 1.8 0 1 0 3.6 0a1.8 1.8 0 1 0 -3.6 0M182.2 244.3a1.8 1.8 0 1 0 3.6 0a1.8 1.8 0 1 0 -3.6 0M142.4 249a1.8 1.8 0 1 0 3.6 0a1.8 1.8 0 1 0 -3.6 0M291.4 223.9a1.8 1.8 0 1 0 3.6 0a1.8 1.8 0 1 0 -3.6 0M120.4 255.3a1.8 1.8 0 1 0 3.6 0a1.8 1.8 0 1 0 -3.6 0M287.7 227.2a1.8 1.8 0 1 0 3.6 0a1.8 1.8 0 1 0 -3.6 0M237.7 236.5a1.8 1.8 0 1 0 3.6 0a1.8 1.8 0 1 0 -3.6 0"/>
<path fill="#000000" d="M127 251.4a1.8 1.8 0 1 0 3.6 0a1.8 1.8 0 1 0 -3.6 0M122.1 252.1a1.8 1.8 0 1 0 3.6 0a1.8 1.8 0 1 0 -3.6 0M125.1 251.8a1.8 1.8 0 1 0 3.6 0a1.8 1.8 0 1 0 -3.6 0M120.8 251.1a1.8 1.8 0 1 0 3.6 0a1.8 1.8 0 1 0 -3.6 0M126.5 251.4a1.8 1.8 0 1 0 3.6 0a1.8 1.8 0 1 0 -3.6 0"/>
<path fill="#000000" d="M138.7 251.2a1.8 1.8 0 1 0 3.6 0a1.8 1.8 0 1 0 -3.6 0M144.6 246.8a1.8 1.8 0 1 0 3.6 0a1.8 1.8 0 1 0 -3.6 0M133.4 251.7a1.8 1.8 0 1 0 3.6 0a1.8 1.8 0 1 0 -3.6 0M145.4 248.8a1.8 1.8 0 1 0 3.6 0a1.8 1.8 0 1 0 -3.6 0M138.3 248.7a1.8 1.8 0 1 0 3.6 0a1.8 1.8 0 1 0 -3.6 0"/>
<path fill="#000000" d="M162.5 245.6a1.8 1.8 0 1 0 3.6 0a1.8 1.8 0 1 0 -3.6 0M161.2 246.7a1.8 1.8 0 1 0 3.6 0a1.8 1.8 0 1 0 -3.6 0M158.5 247.9a1.8 1.8 0 1 0 3.6 0a1.8 1.8 0 1 0 -3.6 0M163.7 245.9a1.8 1.8 0 1 0 3.6 0a1.8 1.8 0 1 0 -3.6 0M166.5 246.9a1.8 1.8 0 1 0 3.6 0a1.8 1.8 0 1 0 -3.6 0"/>
<path fill="#000000" d="M169.2 245.7a1.8 1.8 0 1 0 3.6 0a1.8 1.8 0 1 0 -3.6 0M180.7 243.6a1.8 1.8 0 1 0 3.6 0a1.8 1.8 0 1 0 -3.6 0M168.5 247.4a1.8 1.8 0 1 0 3.6 0a1.8 1.8 0 1 0 -3.6 0M169.8 244.2a1.8 1.8 0 1 0 3.6 0a1.8 1.8 0 1 0 -3.6 0M169.2 244.5a1.8 1.8 0 1 0 3.6 0a1.8 1.8 0 1 0 -3.6 0"/>
<path fill="#000000" d="M191.1 244.8a1.8 1.8 0 1 0 3.6 0a1.8 1.8 0 1 0 -3.6 0M184.7 245.3a1.8 1.8 0 1 0 3.6 0a1.8 1.8 0 1 0 -3.6 0M185 243.1a1.8 1.8 0 1 0 3.6 0a1.8 1.8 0 1 0 -3.6 0M183.1 243.1a1.8 1.8 0 1 0 3.6 0a1.8 1.8 0 1 0 -3.6 0M191.2 241.8a1.8 1.8 0 1 0 3.6 0a1.8 1.8 0 1 0 -3.6 0"/>
<path fill="#000000" d="M205.7 240.3a1.8 1.8 0 1 0 3.6 0a1.8 1.8 0 1 0 -3.6 0M215.9 240.1a1.8 1.8 0 1 0 3.6 0a1.8 1.8 0 1 0 -3.6 0M204.3 241.3a1.8 1.8 0 1 0 3.6 0a1.8 1.8 0 1 0 -3.6 0M208.9 240.6a1.8 1.8 0 1 0 3.6 0a1.8 1.8 0 1 0 -3.6 0M212.8 238.5a1.8 1.8 0 1 0 3.6 0a1.8 1.8 0 1 0 -3.6 0"/>
<path fill="#000000" d="M233 234.4a1.8 1.8 0 1 0 3.6 0a1.8 1.8 0 1 0 -3.6 0M227.2 237.5a1.8 1.8 0 1 0 3.6 0a1.8 1.8 0 1 0 -3.6 0M220.3 238.6a1.8 1.8 0 1 0 3.6 0a1.8 1.8 0 1 0 -3.6 0M225.8 236.2a1.8 1.8 0 1 0 3.6 0a1.8 1.8 0 1 0 -3.6 0M220.2 237.9a1.8 1.8 0 1 0 3.6 0a1.8 1.8 0 1 0 -3.6 0"/>
<path fill="#000000" d="M247 232.4a1.8 1.8 0 1 0 3.6 0a1.8 1.8 0 1 0 -3.6 0M245.4 231.7a1.8 1.8 0 1 0 3.6 0a1.8 1.8 0 1 0 -3.6 0M246.6 233.7a1.8 1.8 0 1 0 3.6 0a1.8 1.8 0 1 0 -3.6 0M246.5 232.5a1.8 1.8 0 1 0 3.6 0a1.8 1.8 0 1 0 -3.6 0M250.3 231.5a1.8 1.8 0 1 0 3.6 0a1.8 1.8 0 1 0 -3.6 0"/>
<path fill="#000000" d="M257.8 230.2a1.8 1.8 0 1 0 3.6 0a1.8 1.8 0 1 0 -3.6 0M254.8 231.6a1.8 1.8 0 1 0 3.6 0a1.8 1.8 0 1 0 -3.6 0M259.3 232.2a1.8 1.8 0 1 0 3.6 0a1.8 1.8 0 1 0 -3.6 0M251.6 229.7a1.8 1.8 0 1 0 3.6 0a1.8 1.8 0 1 0 -3.6 0M256.8 232.3a1.8 1.8 0 1 0 3.6 0a1.8 1.8 0 1 0 -3.6 0"/>
<path fill="#000000" d="M277.9 226.9a1.8 1.8 0 1 0 3.6 0a1.8 1.8 0 1 0 -3.6 0M275 229.1a1.8 1.8 0 1 0 3.6 0a1.8 1.8 0 1 0 -3.6 0M281.1 225.5a1.8 1.8 0 1 0 3.6 0a1.8 1.8 0 1 0 -3.6 0M278.7 227.3a1.8 1.8 0 1 0 3.6 0a1.8 1.8 0 1 0 -3.6 0M283.2 227.8a1.8 1.8 0 1 0 3.6 0a1.8 1.8 0 1 0 -3.6 0"/>
<path fill="#000000" d="M297 227.3a1.8 1.8 0 1 0 3.6 0a1.8 1.8 0 1 0 -3.6 0M286.2 227.3a1.8 1.8 0 1 0 3.6 0a1.8 1.8 0 1 0 -3.6 0M292 224a1.8 1.8 0 1 0 3.6 0a1.8 1.8 0 1 0 -3.6 0M294.3 224.9a1.8 1.8 0 1 0 3.6 0a1.8 1.8 0 1 0 -3.6 0M285.4 224.5a1.8 1.8 0 1 0 3.6 0a1.8 1.8 0 1 0 -3.6 0"/>
<path fill="#000000" d="M312.1 226.2a1.8 1.8 0 1 0 3.6 0a1.8 1.8 0 1 0 -3.6 0M305.8 223.3a1.8 1.8 0 1 0 3.6 0a1.8 1.8 0 1 0 -3.6 0M311.8 222.5a1.8 1.8 0 1 0 3.6 0a1.8 1.8 0 1 0 -3.6 0M307.7 223.9a1.8 1.8 0 1 0 3.6 0a1.8 1.8 0 1 0 -3.6 0M299.9 225.7a1.8 1.8 0 1 0 3.6 0a1.8 1.8 0 1 0 -3.6 0"/>
<path fill="#000000" d="M323.7 223.1a1.8 1.8 0 1 0 3.6 0a1.8 1.8 0 1 0 -3.6 0M315.4 224.7a1.8 1.8 0 1 0 3.6 0a1.8 1.8 0 1 0 -3.6 0M318.9 223.6a1.8 1.8 0 1 0 3.6 0a1.8 1.8 0 1 0 -3.6 0M319.3 222.5a1.8 1.8 0 1 0 3.6 0a1.8 1.8 0 1 0 -3.6 0M327.5 221.7a1.8 1.8 0 1 0 3.6 0a1.8 1.8 0 1 0 -3.6 0"/>
<path fill="#000000" d="M329.8 218.8a1.8 1.8 0 1 0 3.6 0a1.8 1.8 0 1 0 -3.6 0M333.4 217.6a1.8 1.8 0 1 0 3.6 0a1.8 1.8 0 1 0 -3.6 0M336.1 219.5a1.8 1.8 0 1 0 3.6 0a1.8 1.8 0 1 0 -3.6 0M332.7 220.2a1.8 1.8 0 1 0 3.6 0a1.8 1.8 0 1 0 -3.6 0M332.3 222.5a1.8 1.8 0 1 0 3.6 0a1.8 1.8 0 1 0 -3.6 0"/>
<path fill="#000000" d="M390.7 209.9a1.9 1.9 0 1 0 3.8 0a1.9 1.9 0 1 0 -3.8 0M399.9 209a1.9 1.9 0 1 0 3.8 0a1.9 1.9 0 1 0 -3.8 0M337.9 217.7a1.9 1.9 0 1 0 3.8 0a1.9 1.9 0 1 0 -3.8 0M381 210.8a1.9 1.9 0 1 0 3.8 0a1.9 1.9 0 1 0 -3.8 0M341.9 215.2a1.9 1.9 0 1 0 3.8 0a1.9 1.9 0 1 0 -3.8 0M343.8 216.3a1.9 1.9 0 1 0 3.8 0a1.9 1.9 0 1 0 -3.8 0M359.5 215.1a1.9 1.9 0 1 0 3.8 0a1.9 1.9 0 1 0 -3.8 0M341.7 216.5a1.9 1.9 0 1 0 3.8 0a1.9 1.9 0 1 0 -3.8 0M383.1 212.9a1.9 1.9 0 1 0 3.8 0a1.9 1.9 0 1 0 -3.8 0M401.3 210.6a1.9 1.9 0 1 0 3.8 0a1.9 1.9 0 1 0 -3.8 0M379.9 210.1a1.9 1.9 0 1 0 3.8 0a1.9 1.9 0 1 0 -3.8 0M330.9 219a1.9 1.9 0 1 0 3.8 0a1.9 1.9 0 1 0 -3.8 0M374.2 211.6a1.9 1.9 0 1 0 3.8 0a1.9 1.9 0 1 0 -3.8 0M341 219a1.9 1.9 0 1 0 3.8 0a1.9 1.9 0 1 0 -3.8 0M348.8 213.6a1.9 1.9 0 1 0 3.8 0a1.9 1.9 0 1 0 -3.8 0M356.7 216.3a1.9 1.9 0 1 0 3.8 0a1.9 1.9 0 1 0 -3.8 0M360.2 211.9a1.9 1.9 0 1 0 3.8 0a1.9 1.9 0 1 0 -3.8 0M341 216.5a1.9 1.9 0 1 0 3.8 0a1.9 1.9 0 1 0 -3.8 0M404.5 210.6a1.9 1.9 0 1 0 3.8 0a1.9 1.9 0 1 0 -3.8 0M365.4 211.9a1.9 1.9 0 1 0 3.8 0a1.9 1.9 0 1 0 -3.8 0M336.6 217.1a1.9 1.9 0 1 0 3.8 0a1.9 1.9 0 1 0 -3.8 0M342.6 213.7a1.9 1.9 0 1 0 3.8 0a1.9 1.9 0 1 0 -3.8 0M397.3 212a1.9 1.9 0 1 0 3.8 0a1.9 1.9 0 1 0 -3.8 0M401.3 210.3a1.9 1.9 0 1 0 3.8 0a1.9 1.9 0 1 0 -3.8 0M358.5 216.2a1.9 1.9 0 1 0 3.8 0a1.9 1.9 0 1 0 -3.8 0M335.7 215.4a1.9 1.9 0 1 0 3.8 0a1.9 1.9 0 1 0 -3.8 0M371.4 210.3a1.9 1.9 0 1 0 3.8 0a1.9 1.9 0 1 0 -3.8 0M391.8 210.3a1.9 1.9 0 1 0 3.8 0a1.9 1.9 0 1 0 -3.8 0M333.3 217.8a1.9 1.9 0 1 0 3.8 0a1.9 1.9 0 1 0 -3.8 0M332.5 218a1.9 1.9 0 1 0 3.8 0a1.9 1.9 0 1 0 -3.8 0M394.4 210.7a1.9 1.9 0 1 0 3.8 0a1.9 1.9 0 1 0 -3.8 0M342.2 218.2a1.9 1.9 0 1 0 3.8 0a1.9 1.9 0 1 0 -3.8 0M354.8 215a1.9 1.9 0 1 0 3.8 0a1.9 1.9 0 1 0 -3.8 0M336.1 216.6a1.9 1.9 0 1 0 3.8 0a1.9 1.9 0 1 0 -3.8 0M372.7 213.8a1.9 1.9 0 1 0 3.8 0a1.9 1.9 0 1 0 -3.8 0M358.9 215.2a1.9 1.9 0 1 0 3.8 0a1.9 1.9 0 1 0 -3.8 0M332 217a1.9 1.9 0 1 0 3.8 0a1.9 1.9 0 1 0 -3.8 0M379.6 210.6a1.9 1.9 0 1 0 3.8 0a1.9 1.9 0 1 0 -3.8 0M377.8 212a1.9 1.9 0 1 0 3.8 0a1.9 1.9 0 1 0 -3.8 0M340.8 217.2a1.9 1.9 0 1 0 3.8 0a1.9 1.9 0 1 0 -3.8 0M331.5 219.9a1.9 1.9 0 1 0 3.8 0a1.9 1.9 0 1 0 -3.8 0M344.7 217.4a1.9 1.9 0 1 0 3.8 0a1.9 1.9 0 1 0 -3.8 0M390.6 211.8a1.9 1.9 0 1 0 3.8 0a1.9 1.9 0 1 0 -3.8 0M328.9 220a1.9 1.9 0 1 0 3.8 0a1.9 1.9 0 1 0 -3.8 0M386 208.5a1.9 1.9 0 1 0 3.8 0a1.9 1.9 0 1 0 -3.8 0M348.3 214.4a1.9 1.9 0 1 0 3.8 0a1.9 1.9 0 1 0 -3.8 0M380.6 212.6a1.9 1.9 0 1 0 3.8 0a1.9 1.9 0 1 0 -3.8 0M395.9 208a1.9 1.9 0 1 0 3.8 0a1.9 1.9 0 1 0 -3.8 0M330.8 215.9a1.9 1.9 0 1 0 3.8 0a1.9 1.9 0 1 0 -3.8 0M402.1 207.7a1.9 1.9 0 1 0 3.8 0a1.9 1.9 0 1 0 -3.8 0M386.9 210.8a1.9 1.9 0 1 0 3.8 0a1.9 1.9 0 1 0 -3.8 0M337.5 219a1.9 1.9 0 1 0 3.8 0a1.9 1.9 0 1 0 -3.8 0M394.3 211.5a1.9 1.9 0 1 0 3.8 0a1.9 1.9 0 1 0 -3.8 0M371.4 213a1.9 1.9 0 1 0 3.8 0a1.9 1.9 0 1 0 -3.8 0M375.1 213.9a1.9 1.9 0 1 0 3.8 0a1.9 1.9 0 1 0 -3.8 0M331.7 217.5a1.9 1.9 0 1 0 3.8 0a1.9 1.9 0 1 0 -3.8 0M349.4 212.9a1.9 1.9 0 1 0 3.8 0a1.9 1.9 0 1 0 -3.8 0M381.6 212.9a1.9 1.9 0 1 0 3.8 0a1.9 1.9 0 1 0 -3.8 0M388.8 208.8a1.9 1.9 0 1 0 3.8 0a1.9 1.9 0 1 0 -3.8 0M375.4 211.8a1.9 1.9 0 1 0 3.8 0a1.9 1.9 0 1 0 -3.8 0"/>
<path fill="#000000" d="M411 208.5a1.8 1.8 0 1 0 3.6 0a1.8 1.8 0 1 0 -3.6 0M434.2 205.3a1.8 1.8 0 1 0 3.6 0a1.8 1.8 0 1 0 -3.6 0M488.3 196.2a1.8 1.8 0 1 0 3.6 0a1.8 1.8 0 1 0 -3.6 0M436.3 205.2a1.8 1.8 0 1 0 3.6 0a1.8 1.8 0 1 0 -3.6 0M414 209a1.8 1.8 0 1 0 3.6 0a1.8 1.8 0 1 0 -3.6 0M477.6 197.4a1.8 1.8 0 1 0 3.6 0a1.8 1.8 0 1 0 -3.6 0M410.6 208.6a1.8 1.8 0 1 0 3.6 0a1.8 1.8 0 1 0 -3.6 0M452.7 202a1.8 1.8 0 1 0 3.6 0a1.8 1.8 0 1 0 -3.6 0M462.7 201.9a1.8 1.8 0 1 0 3.6 0a1.8 1.8 0 1 0 -3.6 0M475.9 200.1a1.8 1.8 0 1 0 3.6 0a1.8 1.8 0 1 0 -3.6 0M486.7 196.2a1.8 1.8 0 1 0 3.6 0a1.8 1.8 0 1 0 -3.6 0M470.6 199.6a1.8 1.8 0 1 0 3.6 0a1.8 1.8 0 1 0 -3.6 0M489.6 198a1.8 1.8 0 1 0 3.6 0a1.8 1.8 0 1 0 -3.6 0M445.1 202.7a1.8 1.8 0 1 0 3.6 0a1.8 1.8 0 1 0 -3.6 0M429.4 205a1.8 1.8 0 1 0 3.6 0a1.8 1.8 0 1 0 -3.6 0M408 209.8a1.8 1.8 0 1 0 3.6 0a1.8 1.8 0 1 0 -3.6 0M468 200.9a1.8 1.8 0 1 0 3.6 0a1.8 1.8 0 1 0 -3.6 0M487.4 198.1a1.8 1.8 0 1 0 3.6 0a1.8 1.8 0 1 0 -3.6 0M426.3 205.7a1.8 1.8 0 1 0 3.6 0a1.8 1.8 0 1 0 -3.6 0M399.7 210.7a1.8 1.8 0 1 0 3.6 0a1.8 1.8 0 1 0 -3.6 0M494.4 196.9a1.8 1.8 0 1 0 3.6 0a1.8 1.8 0 1 0 -3.6 0M480.6 199.1a1.8 1.8 0 1 0 3.6 0a1.8 1.8 0 1 0 -3.6 0M453 202.9a1.8 1.8 0 1 0 3.6 0a1.8 1.8 0 1 0 -3.6 0M431.5 204.9a1.8 1.8 0 1 0 3.6 0a1.8 1.8 0 1 0 -3.6 0M455.8 201.1a1.8 1.8 0 1 0 3.6 0a1.8 1.8 0 1 0 -3.6 0M454.3 202.1a1.8 1.8 0 1 0 3.6 0a1.8 1.8 0 1 0 -3.6 0M496.4 197a1.8 1.8 0 1 0 3.6 0a1.8 1.8 0 1 0 -3.6 0M471.8 198.6a1.8 1.8 0 1 0 3.6 0a1.8 1.8 0 1 0 -3.6 0M419.9 207.9a1.8 1.8 0 1 0 3.6 0a1.8 1.8 0 1 0 -3.6 0M399 210.4a1.8 1.8 0 1 0 3.6 0a1.8 1.8 0 1 0 -3.6 0M501.3 195a1.8 1.8 0 1 0 3.6 0a1.8 1.8 0 1 0 -3.6 0M470.8 200.3a1.8 1.8 0 1 0 3.6 0a1.8 1.8 0 1 0 -3.6 0M476.6 198.1a1.8 1.8 0 1 0 3.6 0a1.8 1.8 0 1 0 -3.6 0M401.6 208.8a1.8 1.8 0 1 0 3.6 0a1.8 1.8 0 1 0 -3.6 0M426.7 206.5a1.8 1.8 0 1 0 3.6 0a1.8 1.8 0 1 0 -3.6 0M460.7 201.4a1.8 1.8 0 1 0 3.6 0a1.8 1.8 0 1 0 -3.6 0M470.7 198.4a1.8 1.8 0 1 0 3.6 0a1.8 1.8 0 1 0 -3.6 0M404 208.6a1.8 1.8 0 1 0 3.6 0a1.8 1.8 0 1 0 -3.6 0M412.1 207.9a1.8 1.8 0 1 0 3.6 0a1.8 1.8 0 1 0 -3.6 0M500.5 194.9a1.8 1.8 0 1 0 3.6 0a1.8 1.8 0 1 0 -3.6 0M478.2 197.4a1.8 1.8 0 1 0 3.6 0a1.8 1.8 0 1 0 -3.6 0M429.8 205.9a1.8 1.8 0 1 0 3.6 0a1.8 1.8 0 1 0 -3.6 0M445.5 202.3a1.8 1.8 0 1 0 3.6 0a1.8 1.8 0 1 0 -3.6 0M495.7 196.9a1.8 1.8 0 1 0 3.6 0a1.8 1.8 0 1 0 -3.6 0M402.3 208.8a1.8 1.8 0 1 0 3.6 0a1.8 1.8 0 1 0 -3.6 0M488.8 197.6a1.8 1.8 0 1 0 3.6 0a1.8 1.8 0 1 0 -3.6 0M426.1 205a1.8 1.8 0 1 0 3.6 0a1.8 1.8 0 1 0 -3.6 0M492.3 196.8a1.8 1.8 0 1 0 3.6 0a1.8 1.8 0 1 0 -3.6 0M460.3 200.4a1.8 1.8 0 1 0 3.6 0a1.8 1.8 0 1 0 -3.6 0M412.2 209.1a1.8 1.8 0 1 0 3.6 0a1.8 1.8 0 1 0 -3.6 0M438.8 204.4a1.8 1.8 0 1 0 3.6 0a1.8 1.8 0 1 0 -3.6 0M420.5 205.4a1.8 1.8 0 1 0 3.6 0a1.8 1.8 0 1 0 -3.6 0M486.8 198.4a1.8 1.8 0 1 0 3.6 0a1.8 1.8 0 1 0 -3.6 0M437 203.6a1.8 1.8 0 1 0 3.6 0a1.8 1.8 0 1 0 -3.6 0M480.3 197.8a1.8 1.8 0 1 0 3.6 0a1.8 1.8 0 1 0 -3.6 0M452.1 201.5a1.8 1.8 0 1 0 3.6 0a1.8 1.8 0 1 0 -3.6 0M481.2 197.8a1.8 1.8 0 1 0 3.6 0a1.8 1.8 0 1 0 -3.6 0M477.8 197.7a1.8 1.8 0 1 0 3.6 0a1.8 1.8 0 1 0 -3.6 0M420.9 206.4a1.8 1.8 0 1 0 3.6 0a1.8 1.8 0 1 0 -3.6 0M465.5 201.3a1.8 1.8 0 1 0 3.6 0a1.8 1.8 0 1 0 -3.6 0"/>
<polygon fill="#000000" points="375,208 400,205.5 410,209 380,213 372,214"/>
<polygon fill="#ff0000" points="72.1,266 72.1,275.7 135.7,275.7 159.5,271 159.5,270.9 199.5,263.4 199.6,263.4 219.6,260 239.5,256.4 239.6,256.4 262.5,252.4 284.5,248 284.5,247.9 305.5,243.8 305.6,243.8 327.6,240.4 349.6,236.9 349.6,236.9 374.5,233 389.5,230 389.5,230 406.5,226.6 406.5,226.5 423.5,223.4 439.4,220.1 455.3,216 471.3,211.5 471.4,211.5 487.4,207.5 487.5,207.5 504.4,203.9 529.3,197 529.5,196.9 551.3,193.1 564,187.8 564.3,187.7 573.4,185 573.4,180.7 565.4,181 552.6,184.1 552.5,184.1 535.6,187.5 520.6,191 505.7,194.9 505.6,194.9 489.6,198.5 472.6,202.5 472.4,202.6 456.4,205.1 440.5,207.9 424.5,211 424.5,211.1 407.5,214.4 407.3,214.4 394.3,216.1 394.3,216.1 380.3,217.6 360.4,220.1 341.5,223 330.7,226 330.7,226 317.7,229.5 317.4,229.6 317.2,229.6 285.3,231.6 268.4,234.1 236.5,240 220.6,243.5 220.4,243.6 202.4,246.1 184.4,249 184.3,249 168.3,251.1 168.3,251.1 151.3,253.3 151.3,253.3 130.5,255.6 115.7,259.5 115.6,259.5 97.6,264 97.4,264.1 97.2,264.1"/>
<path fill="#ff0000" d="M69.5 265.7a2 2 0 1 0 4 0a2 2 0 1 0 -4 0M68.4 267.3a2 2 0 1 0 4 0a2 2 0 1 0 -4 0M69.1 269.9a2 2 0 1 0 4 0a2 2 0 1 0 -4 0M68.6 271.7a2 2 0 1 0 4 0a2 2 0 1 0 -4 0M68.8 273.9a2 2 0 1 0 4 0a2 2 0 1 0 -4 0M68.5 276a2 2 0 1 0 4 0a2 2 0 1 0 -4 0M71.7 276.7a2 2 0 1 0 4 0a2 2 0 1 0 -4 0M72.7 277a2 2 0 1 0 4 0a2 2 0 1 0 -4 0M76 277.3a2 2 0 1 0 4 0a2 2 0 1 0 -4 0M80.5 276.6a2 2 0 1 0 4 0a2 2 0 1 0 -4 0M81.5 277.2a2 2 0 1 0 4 0a2 2 0 1 0 -4 0M83.5 276.2a2 2 0 1 0 4 0a2 2 0 1 0 -4 0M89 275.9a2 2 0 1 0 4 0a2 2 0 1 0 -4 0M90.5 276.1a2 2 0 1 0 4 0a2 2 0 1 0 -4 0M92.8 276a2 2 0 1 0 4 0a2 2 0 1 0 -4 0M96.9 275.8a2 2 0 1 0 4 0a2 2 0 1 0 -4 0M99.6 275.8a2 2 0 1 0 4 0a2 2 0 1 0 -4 0M102.2 276.7a2 2 0 1 0 4 0a2 2 0 1 0 -4 0M104 276.8a2 2 0 1 0 4 0a2 2 0 1 0 -4 0M105.7 277.1a2 2 0 1 0 4 0a2 2 0 1 0 -4 0M115.7 276.1a2 2 0 1 0 4 0a2 2 0 1 0 -4 0M117.4 277.2a2 2 0 1 0 4 0a2 2 0 1 0 -4 0M119 275.9a2 2 0 1 0 4 0a2 2 0 1 0 -4 0M121.1 276.1a2 2 0 1 0 4 0a2 2 0 1 0 -4 0M126.7 276.4a2 2 0 1 0 4 0a2 2 0 1 0 -4 0M127.5 277.3a2 2 0 1 0 4 0a2 2 0 1 0 -4 0M130.4 276.6a2 2 0 1 0 4 0a2 2 0 1 0 -4 0M135.6 276.6a2 2 0 1 0 4 0a2 2 0 1 0 -4 0M137.5 275.5a2 2 0 1 0 4 0a2 2 0 1 0 -4 0M140.9 275.8a2 2 0 1 0 4 0a2 2 0 1 0 -4 0M143.3 274.4a2 2 0 1 0 4 0a2 2 0 1 0 -4 0M144.9 274a2 2 0 1 0 4 0a2 2 0 1 0 -4 0M148.3 273a2 2 0 1 0 4 0a2 2 0 1 0 -4 0M149.6 273.3a2 2 0 1 0 4 0a2 2 0 1 0 -4 0M152.4 272.4a2 2 0 1 0 4 0a2 2 0 1 0 -4 0M153.7 273.2a2 2 0 1 0 4 0a2 2 0 1 0 -4 0M155.8 272.1a2 2 0 1 0 4 0a2 2 0 1 0 -4 0M159.2 271a2 2 0 1 0 4 0a2 2 0 1 0 -4 0M160.2 271.4a2 2 0 1 0 4 0a2 2 0 1 0 -4 0M162.8 271.5a2 2 0 1 0 4 0a2 2 0 1 0 -4 0M165.7 271.2a2 2 0 1 0 4 0a2 2 0 1 0 -4 0M168 269.9a2 2 0 1 0 4 0a2 2 0 1 0 -4 0M170.1 269a2 2 0 1 0 4 0a2 2 0 1 0 -4 0M171.2 268.9a2 2 0 1 0 4 0a2 2 0 1 0 -4 0M178.1 268.6a2 2 0 1 0 4 0a2 2 0 1 0 -4 0M182.4 266.6a2 2 0 1 0 4 0a2 2 0 1 0 -4 0M184.8 266.9a2 2 0 1 0 4 0a2 2 0 1 0 -4 0M192.5 265.8a2 2 0 1 0 4 0a2 2 0 1 0 -4 0M194.9 265.1a2 2 0 1 0 4 0a2 2 0 1 0 -4 0M197.1 264.1a2 2 0 1 0 4 0a2 2 0 1 0 -4 0M200 263.3a2 2 0 1 0 4 0a2 2 0 1 0 -4 0M204 263.5a2 2 0 1 0 4 0a2 2 0 1 0 -4 0M208.4 262.8a2 2 0 1 0 4 0a2 2 0 1 0 -4 0M212.2 262.5a2 2 0 1 0 4 0a2 2 0 1 0 -4 0M217 261.8a2 2 0 1 0 4 0a2 2 0 1 0 -4 0M219.1 261.4a2 2 0 1 0 4 0a2 2 0 1 0 -4 0M224 259.6a2 2 0 1 0 4 0a2 2 0 1 0 -4 0M226.2 258.9a2 2 0 1 0 4 0a2 2 0 1 0 -4 0M227.5 258.7a2 2 0 1 0 4 0a2 2 0 1 0 -4 0M229.5 258.5a2 2 0 1 0 4 0a2 2 0 1 0 -4 0M231.6 258.4a2 2 0 1 0 4 0a2 2 0 1 0 -4 0M236.4 257.9a2 2 0 1 0 4 0a2 2 0 1 0 -4 0M238.2 257.1a2 2 0 1 0 4 0a2 2 0 1 0 -4 0M241.2 256.2a2 2 0 1 0 4 0a2 2 0 1 0 -4 0M243.8 256.8a2 2 0 1 0 4 0a2 2 0 1 0 -4 0M247.7 256a2 2 0 1 0 4 0a2 2 0 1 0 -4 0M252.2 254.6a2 2 0 1 0 4 0a2 2 0 1 0 -4 0M254.5 254.7a2 2 0 1 0 4 0a2 2 0 1 0 -4 0M260 252.6a2 2 0 1 0 4 0a2 2 0 1 0 -4 0M263 252.6a2 2 0 1 0 4 0a2 2 0 1 0 -4 0M264 252a2 2 0 1 0 4 0a2 2 0 1 0 -4 0M266.1 251.6a2 2 0 1 0 4 0a2 2 0 1 0 -4 0M269.4 252.4a2 2 0 1 0 4 0a2 2 0 1 0 -4 0M270.6 251.9a2 2 0 1 0 4 0a2 2 0 1 0 -4 0M275.3 250.3a2 2 0 1 0 4 0a2 2 0 1 0 -4 0M277.6 249.8a2 2 0 1 0 4 0a2 2 0 1 0 -4 0M279.2 248.7a2 2 0 1 0 4 0a2 2 0 1 0 -4 0M281.4 249.2a2 2 0 1 0 4 0a2 2 0 1 0 -4 0M283.8 249a2 2 0 1 0 4 0a2 2 0 1 0 -4 0M288.5 247.2a2 2 0 1 0 4 0a2 2 0 1 0 -4 0M292.1 246.3a2 2 0 1 0 4 0a2 2 0 1 0 -4 0M294.8 246.8a2 2 0 1 0 4 0a2 2 0 1 0 -4 0M297.6 246.5a2 2 0 1 0 4 0a2 2 0 1 0 -4 0M299.5 245.1a2 2 0 1 0 4 0a2 2 0 1 0 -4 0M307.3 244.3a2 2 0 1 0 4 0a2 2 0 1 0 -4 0M309.6 243.2a2 2 0 1 0 4 0a2 2 0 1 0 -4 0M311.7 243.6a2 2 0 1 0 4 0a2 2 0 1 0 -4 0M314.1 242.9a2 2 0 1 0 4 0a2 2 0 1 0 -4 0M317.1 242a2 2 0 1 0 4 0a2 2 0 1 0 -4 0M320.7 242.3a2 2 0 1 0 4 0a2 2 0 1 0 -4 0M323.4 242.4a2 2 0 1 0 4 0a2 2 0 1 0 -4 0M325.1 241.6a2 2 0 1 0 4 0a2 2 0 1 0 -4 0M327 240.6a2 2 0 1 0 4 0a2 2 0 1 0 -4 0M340.3 239.3a2 2 0 1 0 4 0a2 2 0 1 0 -4 0M343 237.9a2 2 0 1 0 4 0a2 2 0 1 0 -4 0M345 237.7a2 2 0 1 0 4 0a2 2 0 1 0 -4 0M351 236.6a2 2 0 1 0 4 0a2 2 0 1 0 -4 0M353.7 236.7a2 2 0 1 0 4 0a2 2 0 1 0 -4 0M358.5 235.6a2 2 0 1 0 4 0a2 2 0 1 0 -4 0M360 235.8a2 2 0 1 0 4 0a2 2 0 1 0 -4 0M362.7 235.1a2 2 0 1 0 4 0a2 2 0 1 0 -4 0M364.5 235.5a2 2 0 1 0 4 0a2 2 0 1 0 -4 0M368.8 235.2a2 2 0 1 0 4 0a2 2 0 1 0 -4 0M372.6 233.7a2 2 0 1 0 4 0a2 2 0 1 0 -4 0M375.1 232.6a2 2 0 1 0 4 0a2 2 0 1 0 -4 0M381.8 232.2a2 2 0 1 0 4 0a2 2 0 1 0 -4 0M383.3 232a2 2 0 1 0 4 0a2 2 0 1 0 -4 0M387.7 230.5a2 2 0 1 0 4 0a2 2 0 1 0 -4 0M391.3 229.5a2 2 0 1 0 4 0a2 2 0 1 0 -4 0M393.1 229.2a2 2 0 1 0 4 0a2 2 0 1 0 -4 0M394.1 228.9a2 2 0 1 0 4 0a2 2 0 1 0 -4 0M397.5 228.4a2 2 0 1 0 4 0a2 2 0 1 0 -4 0M399.6 228.4a2 2 0 1 0 4 0a2 2 0 1 0 -4 0M400.7 227.7a2 2 0 1 0 4 0a2 2 0 1 0 -4 0M405.2 227.6a2 2 0 1 0 4 0a2 2 0 1 0 -4 0M412.9 226.2a2 2 0 1 0 4 0a2 2 0 1 0 -4 0M414.2 226a2 2 0 1 0 4 0a2 2 0 1 0 -4 0M418.1 225.6a2 2 0 1 0 4 0a2 2 0 1 0 -4 0M421.3 224.2a2 2 0 1 0 4 0a2 2 0 1 0 -4 0M422.6 224a2 2 0 1 0 4 0a2 2 0 1 0 -4 0M427.8 222.9a2 2 0 1 0 4 0a2 2 0 1 0 -4 0M429.8 222.4a2 2 0 1 0 4 0a2 2 0 1 0 -4 0M431.4 222.7a2 2 0 1 0 4 0a2 2 0 1 0 -4 0M435.1 221.7a2 2 0 1 0 4 0a2 2 0 1 0 -4 0M438.7 221.6a2 2 0 1 0 4 0a2 2 0 1 0 -4 0M440.7 220.8a2 2 0 1 0 4 0a2 2 0 1 0 -4 0M442.1 219.5a2 2 0 1 0 4 0a2 2 0 1 0 -4 0M444.2 218.6a2 2 0 1 0 4 0a2 2 0 1 0 -4 0M447.2 218.5a2 2 0 1 0 4 0a2 2 0 1 0 -4 0M449.3 218.5a2 2 0 1 0 4 0a2 2 0 1 0 -4 0M451.5 218a2 2 0 1 0 4 0a2 2 0 1 0 -4 0M461.7 214.4a2 2 0 1 0 4 0a2 2 0 1 0 -4 0M465.7 213.2a2 2 0 1 0 4 0a2 2 0 1 0 -4 0M470.5 212.8a2 2 0 1 0 4 0a2 2 0 1 0 -4 0M474.9 211.6a2 2 0 1 0 4 0a2 2 0 1 0 -4 0M476.6 209.9a2 2 0 1 0 4 0a2 2 0 1 0 -4 0M480.5 209.3a2 2 0 1 0 4 0a2 2 0 1 0 -4 0M488.9 207.2a2 2 0 1 0 4 0a2 2 0 1 0 -4 0M491.1 206.4a2 2 0 1 0 4 0a2 2 0 1 0 -4 0M495 205.5a2 2 0 1 0 4 0a2 2 0 1 0 -4 0M499.9 205.1a2 2 0 1 0 4 0a2 2 0 1 0 -4 0M506.6 204.3a2 2 0 1 0 4 0a2 2 0 1 0 -4 0M509.1 203.5a2 2 0 1 0 4 0a2 2 0 1 0 -4 0M511.2 202.7a2 2 0 1 0 4 0a2 2 0 1 0 -4 0M512.9 202.5a2 2 0 1 0 4 0a2 2 0 1 0 -4 0M514.8 201.2a2 2 0 1 0 4 0a2 2 0 1 0 -4 0M518.6 200a2 2 0 1 0 4 0a2 2 0 1 0 -4 0M522 199.9a2 2 0 1 0 4 0a2 2 0 1 0 -4 0M524 198.3a2 2 0 1 0 4 0a2 2 0 1 0 -4 0M525.4 198.8a2 2 0 1 0 4 0a2 2 0 1 0 -4 0M526.9 197.9a2 2 0 1 0 4 0a2 2 0 1 0 -4 0M533.7 197.1a2 2 0 1 0 4 0a2 2 0 1 0 -4 0M539 196.7a2 2 0 1 0 4 0a2 2 0 1 0 -4 0M540.4 195.9a2 2 0 1 0 4 0a2 2 0 1 0 -4 0M544.6 194.5a2 2 0 1 0 4 0a2 2 0 1 0 -4 0M549.3 194a2 2 0 1 0 4 0a2 2 0 1 0 -4 0M550.8 193.9a2 2 0 1 0 4 0a2 2 0 1 0 -4 0M555.9 191a2 2 0 1 0 4 0a2 2 0 1 0 -4 0M559.9 190.4a2 2 0 1 0 4 0a2 2 0 1 0 -4 0M562.2 188.5a2 2 0 1 0 4 0a2 2 0 1 0 -4 0M563.6 188.9a2 2 0 1 0 4 0a2 2 0 1 0 -4 0M570.6 186.5a2 2 0 1 0 4 0a2 2 0 1 0 -4 0M572.2 186.3a2 2 0 1 0 4 0a2 2 0 1 0 -4 0M572.5 183.4a2 2 0 1 0 4 0a2 2 0 1 0 -4 0M572.2 181.6a2 2 0 1 0 4 0a2 2 0 1 0 -4 0M571.3 179a2 2 0 1 0 4 0a2 2 0 1 0 -4 0M570.1 180.3a2 2 0 1 0 4 0a2 2 0 1 0 -4 0M567.1 180a2 2 0 1 0 4 0a2 2 0 1 0 -4 0M565.5 180.7a2 2 0 1 0 4 0a2 2 0 1 0 -4 0M563.3 180.5a2 2 0 1 0 4 0a2 2 0 1 0 -4 0M555.1 182.9a2 2 0 1 0 4 0a2 2 0 1 0 -4 0M553.2 182.7a2 2 0 1 0 4 0a2 2 0 1 0 -4 0M549.6 183.7a2 2 0 1 0 4 0a2 2 0 1 0 -4 0M547.6 183.6a2 2 0 1 0 4 0a2 2 0 1 0 -4 0M546.8 183.9a2 2 0 1 0 4 0a2 2 0 1 0 -4 0M541.2 184.5a2 2 0 1 0 4 0a2 2 0 1 0 -4 0M539.7 185.1a2 2 0 1 0 4 0a2 2 0 1 0 -4 0M536.9 185.2a2 2 0 1 0 4 0a2 2 0 1 0 -4 0M534.9 186.3a2 2 0 1 0 4 0a2 2 0 1 0 -4 0M533 186.6a2 2 0 1 0 4 0a2 2 0 1 0 -4 0M529.5 187.7a2 2 0 1 0 4 0a2 2 0 1 0 -4 0M526.7 187.7a2 2 0 1 0 4 0a2 2 0 1 0 -4 0M523.8 189.1a2 2 0 1 0 4 0a2 2 0 1 0 -4 0M519.9 189.6a2 2 0 1 0 4 0a2 2 0 1 0 -4 0M518.3 190.1a2 2 0 1 0 4 0a2 2 0 1 0 -4 0M516.5 190.9a2 2 0 1 0 4 0a2 2 0 1 0 -4 0M514.3 191.7a2 2 0 1 0 4 0a2 2 0 1 0 -4 0M511.8 192.6a2 2 0 1 0 4 0a2 2 0 1 0 -4 0M509.4 192.1a2 2 0 1 0 4 0a2 2 0 1 0 -4 0M507.6 193.4a2 2 0 1 0 4 0a2 2 0 1 0 -4 0M502.9 194.7a2 2 0 1 0 4 0a2 2 0 1 0 -4 0M499.1 194.8a2 2 0 1 0 4 0a2 2 0 1 0 -4 0M494.4 195.5a2 2 0 1 0 4 0a2 2 0 1 0 -4 0M493 197a2 2 0 1 0 4 0a2 2 0 1 0 -4 0M489.9 197a2 2 0 1 0 4 0a2 2 0 1 0 -4 0M487.8 198.1a2 2 0 1 0 4 0a2 2 0 1 0 -4 0M486 198.7a2 2 0 1 0 4 0a2 2 0 1 0 -4 0M483.7 198.2a2 2 0 1 0 4 0a2 2 0 1 0 -4 0M481.8 199.5a2 2 0 1 0 4 0a2 2 0 1 0 -4 0M479.3 199.3a2 2 0 1 0 4 0a2 2 0 1 0 -4 0M478 200.1a2 2 0 1 0 4 0a2 2 0 1 0 -4 0M474.9 201a2 2 0 1 0 4 0a2 2 0 1 0 -4 0M473.4 200.3a2 2 0 1 0 4 0a2 2 0 1 0 -4 0M470.2 202a2 2 0 1 0 4 0a2 2 0 1 0 -4 0M468.3 201.2a2 2 0 1 0 4 0a2 2 0 1 0 -4 0M466.9 202.6a2 2 0 1 0 4 0a2 2 0 1 0 -4 0M460.7 202.6a2 2 0 1 0 4 0a2 2 0 1 0 -4 0M455.2 204.4a2 2 0 1 0 4 0a2 2 0 1 0 -4 0M450.7 205.3a2 2 0 1 0 4 0a2 2 0 1 0 -4 0M447.8 204.7a2 2 0 1 0 4 0a2 2 0 1 0 -4 0M444.2 205.1a2 2 0 1 0 4 0a2 2 0 1 0 -4 0M439.9 206a2 2 0 1 0 4 0a2 2 0 1 0 -4 0M438.5 207.2a2 2 0 1 0 4 0a2 2 0 1 0 -4 0M434.8 207.7a2 2 0 1 0 4 0a2 2 0 1 0 -4 0M431.5 207.8a2 2 0 1 0 4 0a2 2 0 1 0 -4 0M422.7 209.4a2 2 0 1 0 4 0a2 2 0 1 0 -4 0M421.4 209.7a2 2 0 1 0 4 0a2 2 0 1 0 -4 0M419.2 210.1a2 2 0 1 0 4 0a2 2 0 1 0 -4 0M417.2 211.4a2 2 0 1 0 4 0a2 2 0 1 0 -4 0M415.2 211.8a2 2 0 1 0 4 0a2 2 0 1 0 -4 0M412.2 212.8a2 2 0 1 0 4 0a2 2 0 1 0 -4 0M405.4 212.8a2 2 0 1 0 4 0a2 2 0 1 0 -4 0M404.1 212.9a2 2 0 1 0 4 0a2 2 0 1 0 -4 0M396.4 215a2 2 0 1 0 4 0a2 2 0 1 0 -4 0M395.3 214.9a2 2 0 1 0 4 0a2 2 0 1 0 -4 0M391.4 216.1a2 2 0 1 0 4 0a2 2 0 1 0 -4 0M386 215.6a2 2 0 1 0 4 0a2 2 0 1 0 -4 0M384.7 216.5a2 2 0 1 0 4 0a2 2 0 1 0 -4 0M375 217.5a2 2 0 1 0 4 0a2 2 0 1 0 -4 0M373.3 216.8a2 2 0 1 0 4 0a2 2 0 1 0 -4 0M368.4 218.5a2 2 0 1 0 4 0a2 2 0 1 0 -4 0M367.3 218.6a2 2 0 1 0 4 0a2 2 0 1 0 -4 0M364.8 218.5a2 2 0 1 0 4 0a2 2 0 1 0 -4 0M359.9 219.7a2 2 0 1 0 4 0a2 2 0 1 0 -4 0M358.3 218.6a2 2 0 1 0 4 0a2 2 0 1 0 -4 0M355.1 220.2a2 2 0 1 0 4 0a2 2 0 1 0 -4 0M353.9 219.5a2 2 0 1 0 4 0a2 2 0 1 0 -4 0M348.5 220.6a2 2 0 1 0 4 0a2 2 0 1 0 -4 0M345 221a2 2 0 1 0 4 0a2 2 0 1 0 -4 0M343.3 222.4a2 2 0 1 0 4 0a2 2 0 1 0 -4 0M338.4 222.9a2 2 0 1 0 4 0a2 2 0 1 0 -4 0M334.6 223.5a2 2 0 1 0 4 0a2 2 0 1 0 -4 0M329.2 225.2a2 2 0 1 0 4 0a2 2 0 1 0 -4 0M328 224.6a2 2 0 1 0 4 0a2 2 0 1 0 -4 0M323.8 225.9a2 2 0 1 0 4 0a2 2 0 1 0 -4 0M321.1 226.7a2 2 0 1 0 4 0a2 2 0 1 0 -4 0M317 227.6a2 2 0 1 0 4 0a2 2 0 1 0 -4 0M310.4 228.9a2 2 0 1 0 4 0a2 2 0 1 0 -4 0M304.6 228.9a2 2 0 1 0 4 0a2 2 0 1 0 -4 0M302.2 228.9a2 2 0 1 0 4 0a2 2 0 1 0 -4 0M299.5 229.4a2 2 0 1 0 4 0a2 2 0 1 0 -4 0M298 229.8a2 2 0 1 0 4 0a2 2 0 1 0 -4 0M293.6 229.6a2 2 0 1 0 4 0a2 2 0 1 0 -4 0M289.3 230.8a2 2 0 1 0 4 0a2 2 0 1 0 -4 0M286.4 231.1a2 2 0 1 0 4 0a2 2 0 1 0 -4 0M283.5 231.3a2 2 0 1 0 4 0a2 2 0 1 0 -4 0M280.2 230.8a2 2 0 1 0 4 0a2 2 0 1 0 -4 0M278.1 232.3a2 2 0 1 0 4 0a2 2 0 1 0 -4 0M273.5 232.2a2 2 0 1 0 4 0a2 2 0 1 0 -4 0M270.5 231.9a2 2 0 1 0 4 0a2 2 0 1 0 -4 0M268.9 232.4a2 2 0 1 0 4 0a2 2 0 1 0 -4 0M266.8 233.5a2 2 0 1 0 4 0a2 2 0 1 0 -4 0M264 234.1a2 2 0 1 0 4 0a2 2 0 1 0 -4 0M263.1 234.7a2 2 0 1 0 4 0a2 2 0 1 0 -4 0M260.3 235.1a2 2 0 1 0 4 0a2 2 0 1 0 -4 0M258.1 234.4a2 2 0 1 0 4 0a2 2 0 1 0 -4 0M255.4 234.5a2 2 0 1 0 4 0a2 2 0 1 0 -4 0M253.9 235.6a2 2 0 1 0 4 0a2 2 0 1 0 -4 0M249.2 237.1a2 2 0 1 0 4 0a2 2 0 1 0 -4 0M247.3 237.3a2 2 0 1 0 4 0a2 2 0 1 0 -4 0M244.8 237.3a2 2 0 1 0 4 0a2 2 0 1 0 -4 0M243.6 237.2a2 2 0 1 0 4 0a2 2 0 1 0 -4 0M237.8 238.5a2 2 0 1 0 4 0a2 2 0 1 0 -4 0M236.4 238.2a2 2 0 1 0 4 0a2 2 0 1 0 -4 0M232.4 240.3a2 2 0 1 0 4 0a2 2 0 1 0 -4 0M228.1 239.8a2 2 0 1 0 4 0a2 2 0 1 0 -4 0M225.5 241.8a2 2 0 1 0 4 0a2 2 0 1 0 -4 0M223.6 240.8a2 2 0 1 0 4 0a2 2 0 1 0 -4 0M222 242.2a2 2 0 1 0 4 0a2 2 0 1 0 -4 0M216.5 242.3a2 2 0 1 0 4 0a2 2 0 1 0 -4 0M213.3 243.1a2 2 0 1 0 4 0a2 2 0 1 0 -4 0M208 244.8a2 2 0 1 0 4 0a2 2 0 1 0 -4 0M206.4 243.7a2 2 0 1 0 4 0a2 2 0 1 0 -4 0M199.9 244.9a2 2 0 1 0 4 0a2 2 0 1 0 -4 0M197.2 245.9a2 2 0 1 0 4 0a2 2 0 1 0 -4 0M188.9 246.5a2 2 0 1 0 4 0a2 2 0 1 0 -4 0M184.1 248.4a2 2 0 1 0 4 0a2 2 0 1 0 -4 0M181.6 247.5a2 2 0 1 0 4 0a2 2 0 1 0 -4 0M180.1 248.9a2 2 0 1 0 4 0a2 2 0 1 0 -4 0M177.8 248.8a2 2 0 1 0 4 0a2 2 0 1 0 -4 0M175.5 249a2 2 0 1 0 4 0a2 2 0 1 0 -4 0M172.7 249.1a2 2 0 1 0 4 0a2 2 0 1 0 -4 0M171.6 249.1a2 2 0 1 0 4 0a2 2 0 1 0 -4 0M166.2 250.1a2 2 0 1 0 4 0a2 2 0 1 0 -4 0M164.4 250.8a2 2 0 1 0 4 0a2 2 0 1 0 -4 0M162.8 251.2a2 2 0 1 0 4 0a2 2 0 1 0 -4 0M160.3 251.6a2 2 0 1 0 4 0a2 2 0 1 0 -4 0M157.6 250.5a2 2 0 1 0 4 0a2 2 0 1 0 -4 0M155.7 250.9a2 2 0 1 0 4 0a2 2 0 1 0 -4 0M153.6 251.5a2 2 0 1 0 4 0a2 2 0 1 0 -4 0M152.3 251.7a2 2 0 1 0 4 0a2 2 0 1 0 -4 0M149.1 252.1a2 2 0 1 0 4 0a2 2 0 1 0 -4 0M142.3 252.4a2 2 0 1 0 4 0a2 2 0 1 0 -4 0M141.2 253.6a2 2 0 1 0 4 0a2 2 0 1 0 -4 0M138.7 252.9a2 2 0 1 0 4 0a2 2 0 1 0 -4 0M136 253.2a2 2 0 1 0 4 0a2 2 0 1 0 -4 0M129.2 254.8a2 2 0 1 0 4 0a2 2 0 1 0 -4 0M127.8 254.2a2 2 0 1 0 4 0a2 2 0 1 0 -4 0M122.8 255.9a2 2 0 1 0 4 0a2 2 0 1 0 -4 0M120.5 256.9a2 2 0 1 0 4 0a2 2 0 1 0 -4 0M116.5 258a2 2 0 1 0 4 0a2 2 0 1 0 -4 0M114.6 258.6a2 2 0 1 0 4 0a2 2 0 1 0 -4 0M112.1 258.2a2 2 0 1 0 4 0a2 2 0 1 0 -4 0M111.3 260.1a2 2 0 1 0 4 0a2 2 0 1 0 -4 0M108.4 259.9a2 2 0 1 0 4 0a2 2 0 1 0 -4 0M106.5 260.4a2 2 0 1 0 4 0a2 2 0 1 0 -4 0M102.6 262a2 2 0 1 0 4 0a2 2 0 1 0 -4 0M99.2 262a2 2 0 1 0 4 0a2 2 0 1 0 -4 0M98 262.9a2 2 0 1 0 4 0a2 2 0 1 0 -4 0M96.3 262.4a2 2 0 1 0 4 0a2 2 0 1 0 -4 0M88.7 263a2 2 0 1 0 4 0a2 2 0 1 0 -4 0M87.1 263.6a2 2 0 1 0 4 0a2 2 0 1 0 -4 0M84.4 264.3a2 2 0 1 0 4 0a2 2 0 1 0 -4 0M83.1 264.1a2 2 0 1 0 4 0a2 2 0 1 0 -4 0M79.5 264.7a2 2 0 1 0 4 0a2 2 0 1 0 -4 0M75.2 265.3a2 2 0 1 0 4 0a2 2 0 1 0 -4 0M71.2 265.3a2 2 0 1 0 4 0a2 2 0 1 0 -4 0"/>
<path fill="#000000" d="M369.8 231.7a1.7 1.7 0 1 0 3.4 0a1.7 1.7 0 1 0 -3.4 0M423.6 224.7a1.7 1.7 0 1 0 3.4 0a1.7 1.7 0 1 0 -3.4 0M425.3 225.3a1.7 1.7 0 1 0 3.4 0a1.7 1.7 0 1 0 -3.4 0M406.3 227.5a1.7 1.7 0 1 0 3.4 0a1.7 1.7 0 1 0 -3.4 0M427.3 223.9a1.7 1.7 0 1 0 3.4 0a1.7 1.7 0 1 0 -3.4 0M401.4 227.6a1.7 1.7 0 1 0 3.4 0a1.7 1.7 0 1 0 -3.4 0M392.7 229.2a1.7 1.7 0 1 0 3.4 0a1.7 1.7 0 1 0 -3.4 0M383.3 230.2a1.7 1.7 0 1 0 3.4 0a1.7 1.7 0 1 0 -3.4 0M400.4 228.2a1.7 1.7 0 1 0 3.4 0a1.7 1.7 0 1 0 -3.4 0M381.5 230.2a1.7 1.7 0 1 0 3.4 0a1.7 1.7 0 1 0 -3.4 0M416.8 226.3a1.7 1.7 0 1 0 3.4 0a1.7 1.7 0 1 0 -3.4 0M400.9 228.5a1.7 1.7 0 1 0 3.4 0a1.7 1.7 0 1 0 -3.4 0M400.8 227.6a1.7 1.7 0 1 0 3.4 0a1.7 1.7 0 1 0 -3.4 0M394.8 229.3a1.7 1.7 0 1 0 3.4 0a1.7 1.7 0 1 0 -3.4 0M399.6 227.7a1.7 1.7 0 1 0 3.4 0a1.7 1.7 0 1 0 -3.4 0M397.2 228.1a1.7 1.7 0 1 0 3.4 0a1.7 1.7 0 1 0 -3.4 0M392.3 229.5a1.7 1.7 0 1 0 3.4 0a1.7 1.7 0 1 0 -3.4 0M382.3 230.8a1.7 1.7 0 1 0 3.4 0a1.7 1.7 0 1 0 -3.4 0M409.9 227a1.7 1.7 0 1 0 3.4 0a1.7 1.7 0 1 0 -3.4 0M411.5 225.7a1.7 1.7 0 1 0 3.4 0a1.7 1.7 0 1 0 -3.4 0M391.2 229.9a1.7 1.7 0 1 0 3.4 0a1.7 1.7 0 1 0 -3.4 0M402.1 228.5a1.7 1.7 0 1 0 3.4 0a1.7 1.7 0 1 0 -3.4 0M418.1 225.3a1.7 1.7 0 1 0 3.4 0a1.7 1.7 0 1 0 -3.4 0M377.3 231.5a1.7 1.7 0 1 0 3.4 0a1.7 1.7 0 1 0 -3.4 0M399.4 227.7a1.7 1.7 0 1 0 3.4 0a1.7 1.7 0 1 0 -3.4 0M399.9 228.7a1.7 1.7 0 1 0 3.4 0a1.7 1.7 0 1 0 -3.4 0M421.8 225.1a1.7 1.7 0 1 0 3.4 0a1.7 1.7 0 1 0 -3.4 0M395.3 229.4a1.7 1.7 0 1 0 3.4 0a1.7 1.7 0 1 0 -3.4 0M380.8 230.2a1.7 1.7 0 1 0 3.4 0a1.7 1.7 0 1 0 -3.4 0M426.2 224.4a1.7 1.7 0 1 0 3.4 0a1.7 1.7 0 1 0 -3.4 0"/>
<path fill="#ff0000" d="M510.9 213.9a1.8 1.8 0 1 0 3.6 0a1.8 1.8 0 1 0 -3.6 0M458.2 222.7a1.8 1.8 0 1 0 3.6 0a1.8 1.8 0 1 0 -3.6 0M527.3 209.8a1.8 1.8 0 1 0 3.6 0a1.8 1.8 0 1 0 -3.6 0M457.2 221.7a1.8 1.8 0 1 0 3.6 0a1.8 1.8 0 1 0 -3.6 0M445.5 221.1a1.8 1.8 0 1 0 3.6 0a1.8 1.8 0 1 0 -3.6 0M484 214.2a1.8 1.8 0 1 0 3.6 0a1.8 1.8 0 1 0 -3.6 0M449.4 224.8a1.8 1.8 0 1 0 3.6 0a1.8 1.8 0 1 0 -3.6 0M536 207.9a1.8 1.8 0 1 0 3.6 0a1.8 1.8 0 1 0 -3.6 0M479.5 217.3a1.8 1.8 0 1 0 3.6 0a1.8 1.8 0 1 0 -3.6 0M501.5 210.5a1.8 1.8 0 1 0 3.6 0a1.8 1.8 0 1 0 -3.6 0M505.6 210.8a1.8 1.8 0 1 0 3.6 0a1.8 1.8 0 1 0 -3.6 0M519.7 208.1a1.8 1.8 0 1 0 3.6 0a1.8 1.8 0 1 0 -3.6 0M420.1 228.8a1.8 1.8 0 1 0 3.6 0a1.8 1.8 0 1 0 -3.6 0M521.7 208.9a1.8 1.8 0 1 0 3.6 0a1.8 1.8 0 1 0 -3.6 0M513.7 211.1a1.8 1.8 0 1 0 3.6 0a1.8 1.8 0 1 0 -3.6 0M506.1 209.6a1.8 1.8 0 1 0 3.6 0a1.8 1.8 0 1 0 -3.6 0M521.6 207.2a1.8 1.8 0 1 0 3.6 0a1.8 1.8 0 1 0 -3.6 0M517.9 210.2a1.8 1.8 0 1 0 3.6 0a1.8 1.8 0 1 0 -3.6 0M501.6 214.5a1.8 1.8 0 1 0 3.6 0a1.8 1.8 0 1 0 -3.6 0M479.4 217.5a1.8 1.8 0 1 0 3.6 0a1.8 1.8 0 1 0 -3.6 0M497.2 214.8a1.8 1.8 0 1 0 3.6 0a1.8 1.8 0 1 0 -3.6 0M441.9 224a1.8 1.8 0 1 0 3.6 0a1.8 1.8 0 1 0 -3.6 0M463.4 219.8a1.8 1.8 0 1 0 3.6 0a1.8 1.8 0 1 0 -3.6 0M418.4 226.2a1.8 1.8 0 1 0 3.6 0a1.8 1.8 0 1 0 -3.6 0M511.5 211.5a1.8 1.8 0 1 0 3.6 0a1.8 1.8 0 1 0 -3.6 0M532.5 208.5a1.8 1.8 0 1 0 3.6 0a1.8 1.8 0 1 0 -3.6 0M482.7 215.8a1.8 1.8 0 1 0 3.6 0a1.8 1.8 0 1 0 -3.6 0M420.2 230a1.8 1.8 0 1 0 3.6 0a1.8 1.8 0 1 0 -3.6 0M511.9 211.9a1.8 1.8 0 1 0 3.6 0a1.8 1.8 0 1 0 -3.6 0M505.4 209.6a1.8 1.8 0 1 0 3.6 0a1.8 1.8 0 1 0 -3.6 0M430.3 227.3a1.8 1.8 0 1 0 3.6 0a1.8 1.8 0 1 0 -3.6 0M537.7 209.1a1.8 1.8 0 1 0 3.6 0a1.8 1.8 0 1 0 -3.6 0M479.7 215.8a1.8 1.8 0 1 0 3.6 0a1.8 1.8 0 1 0 -3.6 0M473.6 219.7a1.8 1.8 0 1 0 3.6 0a1.8 1.8 0 1 0 -3.6 0M442.7 221.6a1.8 1.8 0 1 0 3.6 0a1.8 1.8 0 1 0 -3.6 0M457.2 220.3a1.8 1.8 0 1 0 3.6 0a1.8 1.8 0 1 0 -3.6 0M498.6 211.3a1.8 1.8 0 1 0 3.6 0a1.8 1.8 0 1 0 -3.6 0M513.1 211.9a1.8 1.8 0 1 0 3.6 0a1.8 1.8 0 1 0 -3.6 0M432.1 224.2a1.8 1.8 0 1 0 3.6 0a1.8 1.8 0 1 0 -3.6 0M426.4 230.2a1.8 1.8 0 1 0 3.6 0a1.8 1.8 0 1 0 -3.6 0M465.6 217.5a1.8 1.8 0 1 0 3.6 0a1.8 1.8 0 1 0 -3.6 0M523.1 208.9a1.8 1.8 0 1 0 3.6 0a1.8 1.8 0 1 0 -3.6 0M480.5 215.3a1.8 1.8 0 1 0 3.6 0a1.8 1.8 0 1 0 -3.6 0M454.5 220a1.8 1.8 0 1 0 3.6 0a1.8 1.8 0 1 0 -3.6 0M529.1 206.2a1.8 1.8 0 1 0 3.6 0a1.8 1.8 0 1 0 -3.6 0M454.4 223.8a1.8 1.8 0 1 0 3.6 0a1.8 1.8 0 1 0 -3.6 0M504.7 211.1a1.8 1.8 0 1 0 3.6 0a1.8 1.8 0 1 0 -3.6 0M451.2 221.6a1.8 1.8 0 1 0 3.6 0a1.8 1.8 0 1 0 -3.6 0M428.5 226.2a1.8 1.8 0 1 0 3.6 0a1.8 1.8 0 1 0 -3.6 0M525.3 210.9a1.8 1.8 0 1 0 3.6 0a1.8 1.8 0 1 0 -3.6 0M427.7 228a1.8 1.8 0 1 0 3.6 0a1.8 1.8 0 1 0 -3.6 0M496.2 214.7a1.8 1.8 0 1 0 3.6 0a1.8 1.8 0 1 0 -3.6 0M486.5 217.9a1.8 1.8 0 1 0 3.6 0a1.8 1.8 0 1 0 -3.6 0M518.9 210a1.8 1.8 0 1 0 3.6 0a1.8 1.8 0 1 0 -3.6 0M523.7 210.8a1.8 1.8 0 1 0 3.6 0a1.8 1.8 0 1 0 -3.6 0M436.8 223.8a1.8 1.8 0 1 0 3.6 0a1.8 1.8 0 1 0 -3.6 0M419.7 228a1.8 1.8 0 1 0 3.6 0a1.8 1.8 0 1 0 -3.6 0M533.4 209.6a1.8 1.8 0 1 0 3.6 0a1.8 1.8 0 1 0 -3.6 0M488 217.6a1.8 1.8 0 1 0 3.6 0a1.8 1.8 0 1 0 -3.6 0M433.2 227.6a1.8 1.8 0 1 0 3.6 0a1.8 1.8 0 1 0 -3.6 0M441.2 223.5a1.8 1.8 0 1 0 3.6 0a1.8 1.8 0 1 0 -3.6 0M471.7 216.4a1.8 1.8 0 1 0 3.6 0a1.8 1.8 0 1 0 -3.6 0M509.4 212.2a1.8 1.8 0 1 0 3.6 0a1.8 1.8 0 1 0 -3.6 0M515.3 210.2a1.8 1.8 0 1 0 3.6 0a1.8 1.8 0 1 0 -3.6 0M534.8 208.1a1.8 1.8 0 1 0 3.6 0a1.8 1.8 0 1 0 -3.6 0M477.2 214.5a1.8 1.8 0 1 0 3.6 0a1.8 1.8 0 1 0 -3.6 0M457 220.6a1.8 1.8 0 1 0 3.6 0a1.8 1.8 0 1 0 -3.6 0M537.8 208.9a1.8 1.8 0 1 0 3.6 0a1.8 1.8 0 1 0 -3.6 0M483.3 213.9a1.8 1.8 0 1 0 3.6 0a1.8 1.8 0 1 0 -3.6 0M477.2 214.7a1.8 1.8 0 1 0 3.6 0a1.8 1.8 0 1 0 -3.6 0"/>
<path fill="#000000" d="M573.2 188.6a1.9 1.9 0 1 0 3.8 0a1.9 1.9 0 1 0 -3.8 0M614.3 178.8a1.9 1.9 0 1 0 3.8 0a1.9 1.9 0 1 0 -3.8 0M639 173.9a1.9 1.9 0 1 0 3.8 0a1.9 1.9 0 1 0 -3.8 0M568.7 189.4a1.9 1.9 0 1 0 3.8 0a1.9 1.9 0 1 0 -3.8 0M588.4 185.3a1.9 1.9 0 1 0 3.8 0a1.9 1.9 0 1 0 -3.8 0M639.7 173.1a1.9 1.9 0 1 0 3.8 0a1.9 1.9 0 1 0 -3.8 0M595.9 183.3a1.9 1.9 0 1 0 3.8 0a1.9 1.9 0 1 0 -3.8 0M616.2 178.4a1.9 1.9 0 1 0 3.8 0a1.9 1.9 0 1 0 -3.8 0M643.1 173.1a1.9 1.9 0 1 0 3.8 0a1.9 1.9 0 1 0 -3.8 0M613.1 178.4a1.9 1.9 0 1 0 3.8 0a1.9 1.9 0 1 0 -3.8 0M603.3 181.7a1.9 1.9 0 1 0 3.8 0a1.9 1.9 0 1 0 -3.8 0M646.7 171.6a1.9 1.9 0 1 0 3.8 0a1.9 1.9 0 1 0 -3.8 0M618.1 178.3a1.9 1.9 0 1 0 3.8 0a1.9 1.9 0 1 0 -3.8 0M643.7 171.7a1.9 1.9 0 1 0 3.8 0a1.9 1.9 0 1 0 -3.8 0M637.8 173.9a1.9 1.9 0 1 0 3.8 0a1.9 1.9 0 1 0 -3.8 0M567 190a1.9 1.9 0 1 0 3.8 0a1.9 1.9 0 1 0 -3.8 0M584.1 185a1.9 1.9 0 1 0 3.8 0a1.9 1.9 0 1 0 -3.8 0M624.1 176.8a1.9 1.9 0 1 0 3.8 0a1.9 1.9 0 1 0 -3.8 0M591.9 184.6a1.9 1.9 0 1 0 3.8 0a1.9 1.9 0 1 0 -3.8 0M631.1 174.7a1.9 1.9 0 1 0 3.8 0a1.9 1.9 0 1 0 -3.8 0M607.8 179.9a1.9 1.9 0 1 0 3.8 0a1.9 1.9 0 1 0 -3.8 0M631.8 174.8a1.9 1.9 0 1 0 3.8 0a1.9 1.9 0 1 0 -3.8 0M630.7 174.4a1.9 1.9 0 1 0 3.8 0a1.9 1.9 0 1 0 -3.8 0M587.1 185.6a1.9 1.9 0 1 0 3.8 0a1.9 1.9 0 1 0 -3.8 0M578.6 186.7a1.9 1.9 0 1 0 3.8 0a1.9 1.9 0 1 0 -3.8 0M611.4 178.8a1.9 1.9 0 1 0 3.8 0a1.9 1.9 0 1 0 -3.8 0M591.5 183.1a1.9 1.9 0 1 0 3.8 0a1.9 1.9 0 1 0 -3.8 0M590.3 184.4a1.9 1.9 0 1 0 3.8 0a1.9 1.9 0 1 0 -3.8 0M575 187.7a1.9 1.9 0 1 0 3.8 0a1.9 1.9 0 1 0 -3.8 0M576.8 187.9a1.9 1.9 0 1 0 3.8 0a1.9 1.9 0 1 0 -3.8 0M583.3 186.4a1.9 1.9 0 1 0 3.8 0a1.9 1.9 0 1 0 -3.8 0M582.7 186.3a1.9 1.9 0 1 0 3.8 0a1.9 1.9 0 1 0 -3.8 0M633.6 174.8a1.9 1.9 0 1 0 3.8 0a1.9 1.9 0 1 0 -3.8 0M630.1 175.9a1.9 1.9 0 1 0 3.8 0a1.9 1.9 0 1 0 -3.8 0M647.5 171.9a1.9 1.9 0 1 0 3.8 0a1.9 1.9 0 1 0 -3.8 0M642 172.8a1.9 1.9 0 1 0 3.8 0a1.9 1.9 0 1 0 -3.8 0M622.9 177.1a1.9 1.9 0 1 0 3.8 0a1.9 1.9 0 1 0 -3.8 0M587.1 184.8a1.9 1.9 0 1 0 3.8 0a1.9 1.9 0 1 0 -3.8 0M576.3 188.1a1.9 1.9 0 1 0 3.8 0a1.9 1.9 0 1 0 -3.8 0M585 185.7a1.9 1.9 0 1 0 3.8 0a1.9 1.9 0 1 0 -3.8 0"/>
<path fill="#ff0000" d="M586.8 179.2a1.9 1.9 0 1 0 3.8 0a1.9 1.9 0 1 0 -3.8 0M596.9 175.4a1.9 1.9 0 1 0 3.8 0a1.9 1.9 0 1 0 -3.8 0M628.2 170.9a1.9 1.9 0 1 0 3.8 0a1.9 1.9 0 1 0 -3.8 0M587.4 177.5a1.9 1.9 0 1 0 3.8 0a1.9 1.9 0 1 0 -3.8 0M634.3 167.4a1.9 1.9 0 1 0 3.8 0a1.9 1.9 0 1 0 -3.8 0M625.9 170.7a1.9 1.9 0 1 0 3.8 0a1.9 1.9 0 1 0 -3.8 0M582.8 179.4a1.9 1.9 0 1 0 3.8 0a1.9 1.9 0 1 0 -3.8 0M634.6 168.5a1.9 1.9 0 1 0 3.8 0a1.9 1.9 0 1 0 -3.8 0M579.7 178.9a1.9 1.9 0 1 0 3.8 0a1.9 1.9 0 1 0 -3.8 0M630 170.5a1.9 1.9 0 1 0 3.8 0a1.9 1.9 0 1 0 -3.8 0M613.2 172a1.9 1.9 0 1 0 3.8 0a1.9 1.9 0 1 0 -3.8 0M602.5 174.4a1.9 1.9 0 1 0 3.8 0a1.9 1.9 0 1 0 -3.8 0M625.3 169.9a1.9 1.9 0 1 0 3.8 0a1.9 1.9 0 1 0 -3.8 0M597.5 176.7a1.9 1.9 0 1 0 3.8 0a1.9 1.9 0 1 0 -3.8 0M609 174.9a1.9 1.9 0 1 0 3.8 0a1.9 1.9 0 1 0 -3.8 0M639 168a1.9 1.9 0 1 0 3.8 0a1.9 1.9 0 1 0 -3.8 0M633.5 168.1a1.9 1.9 0 1 0 3.8 0a1.9 1.9 0 1 0 -3.8 0M584.8 179.4a1.9 1.9 0 1 0 3.8 0a1.9 1.9 0 1 0 -3.8 0M588.1 179.3a1.9 1.9 0 1 0 3.8 0a1.9 1.9 0 1 0 -3.8 0M609 174.7a1.9 1.9 0 1 0 3.8 0a1.9 1.9 0 1 0 -3.8 0M635.7 167.3a1.9 1.9 0 1 0 3.8 0a1.9 1.9 0 1 0 -3.8 0M620.1 172.9a1.9 1.9 0 1 0 3.8 0a1.9 1.9 0 1 0 -3.8 0M620.5 171.5a1.9 1.9 0 1 0 3.8 0a1.9 1.9 0 1 0 -3.8 0M596.7 176.2a1.9 1.9 0 1 0 3.8 0a1.9 1.9 0 1 0 -3.8 0M638.5 169.3a1.9 1.9 0 1 0 3.8 0a1.9 1.9 0 1 0 -3.8 0M610.5 172.8a1.9 1.9 0 1 0 3.8 0a1.9 1.9 0 1 0 -3.8 0M638.4 169.1a1.9 1.9 0 1 0 3.8 0a1.9 1.9 0 1 0 -3.8 0M606.3 173.3a1.9 1.9 0 1 0 3.8 0a1.9 1.9 0 1 0 -3.8 0M634.1 168.6a1.9 1.9 0 1 0 3.8 0a1.9 1.9 0 1 0 -3.8 0M631.2 169.9a1.9 1.9 0 1 0 3.8 0a1.9 1.9 0 1 0 -3.8 0"/>
<path fill="#ff0000" d="M627 176.1a1.9 1.9 0 1 0 3.8 0a1.9 1.9 0 1 0 -3.8 0M648.2 171.4a1.9 1.9 0 1 0 3.8 0a1.9 1.9 0 1 0 -3.8 0M658.2 169.5a1.9 1.9 0 1 0 3.8 0a1.9 1.9 0 1 0 -3.8 0M624 178.2a1.9 1.9 0 1 0 3.8 0a1.9 1.9 0 1 0 -3.8 0M657 170a1.9 1.9 0 1 0 3.8 0a1.9 1.9 0 1 0 -3.8 0M603.9 181.6a1.9 1.9 0 1 0 3.8 0a1.9 1.9 0 1 0 -3.8 0M634.2 176.1a1.9 1.9 0 1 0 3.8 0a1.9 1.9 0 1 0 -3.8 0M623.4 177.3a1.9 1.9 0 1 0 3.8 0a1.9 1.9 0 1 0 -3.8 0M609.6 180.9a1.9 1.9 0 1 0 3.8 0a1.9 1.9 0 1 0 -3.8 0M631.6 175.2a1.9 1.9 0 1 0 3.8 0a1.9 1.9 0 1 0 -3.8 0M617.6 178.6a1.9 1.9 0 1 0 3.8 0a1.9 1.9 0 1 0 -3.8 0M658.9 169.2a1.9 1.9 0 1 0 3.8 0a1.9 1.9 0 1 0 -3.8 0M600.7 182a1.9 1.9 0 1 0 3.8 0a1.9 1.9 0 1 0 -3.8 0M647.4 171.9a1.9 1.9 0 1 0 3.8 0a1.9 1.9 0 1 0 -3.8 0M646.4 172.5a1.9 1.9 0 1 0 3.8 0a1.9 1.9 0 1 0 -3.8 0M630.2 174.9a1.9 1.9 0 1 0 3.8 0a1.9 1.9 0 1 0 -3.8 0M639.9 173.7a1.9 1.9 0 1 0 3.8 0a1.9 1.9 0 1 0 -3.8 0M655.7 170.2a1.9 1.9 0 1 0 3.8 0a1.9 1.9 0 1 0 -3.8 0M602.4 182.4a1.9 1.9 0 1 0 3.8 0a1.9 1.9 0 1 0 -3.8 0M611.1 179.9a1.9 1.9 0 1 0 3.8 0a1.9 1.9 0 1 0 -3.8 0M600.7 182.8a1.9 1.9 0 1 0 3.8 0a1.9 1.9 0 1 0 -3.8 0M615.3 178.7a1.9 1.9 0 1 0 3.8 0a1.9 1.9 0 1 0 -3.8 0M609 181.1a1.9 1.9 0 1 0 3.8 0a1.9 1.9 0 1 0 -3.8 0M626.6 176.6a1.9 1.9 0 1 0 3.8 0a1.9 1.9 0 1 0 -3.8 0M648.3 172.4a1.9 1.9 0 1 0 3.8 0a1.9 1.9 0 1 0 -3.8 0M622.6 177.1a1.9 1.9 0 1 0 3.8 0a1.9 1.9 0 1 0 -3.8 0"/>
<path fill="#ff0000" d="M643 166.5a2 2 0 1 0 4 0a2 2 0 1 0 -4 0M639 167.5a2 2 0 1 0 4 0a2 2 0 1 0 -4 0M633 168.5a2 2 0 1 0 4 0a2 2 0 1 0 -4 0"/>
<path fill="#000000" d="M185.9 221.5a2.1 2.1 0 1 0 4.2 0a2.1 2.1 0 1 0 -4.2 0M144.9 233.4a2.1 2.1 0 1 0 4.2 0a2.1 2.1 0 1 0 -4.2 0M129.9 236a2.1 2.1 0 1 0 4.2 0a2.1 2.1 0 1 0 -4.2 0M167.9 236.7a2.1 2.1 0 1 0 4.2 0a2.1 2.1 0 1 0 -4.2 0M221.6 230.2a2.1 2.1 0 1 0 4.2 0a2.1 2.1 0 1 0 -4.2 0M213.9 234.5a2.1 2.1 0 1 0 4.2 0a2.1 2.1 0 1 0 -4.2 0M242.7 217.2a2.1 2.1 0 1 0 4.2 0a2.1 2.1 0 1 0 -4.2 0M221.1 230.2a2.1 2.1 0 1 0 4.2 0a2.1 2.1 0 1 0 -4.2 0M336.2 210.3a2.1 2.1 0 1 0 4.2 0a2.1 2.1 0 1 0 -4.2 0M552.9 198.4a2.1 2.1 0 1 0 4.2 0a2.1 2.1 0 1 0 -4.2 0"/>
<path fill="#ff0000" d="M97.5 235a2 2 0 1 0 4 0a2 2 0 1 0 -4 0M160 233.4a2 2 0 1 0 4 0a2 2 0 1 0 -4 0M182.8 232.3a2 2 0 1 0 4 0a2 2 0 1 0 -4 0M204.4 230.2a2 2 0 1 0 4 0a2 2 0 1 0 -4 0M221.7 215.7a2 2 0 1 0 4 0a2 2 0 1 0 -4 0M250 223a2 2 0 1 0 4 0a2 2 0 1 0 -4 0M254.7 230.2a2 2 0 1 0 4 0a2 2 0 1 0 -4 0M532.3 202.8a2 2 0 1 0 4 0a2 2 0 1 0 -4 0M672.7 179.4a2 2 0 1 0 4 0a2 2 0 1 0 -4 0M100 241a2 2 0 1 0 4 0a2 2 0 1 0 -4 0"/>
<polygon fill="#000000" points="239.8,406.2 248.6,421 253.3,417 253.5,416.9 253.7,416.7 254,416.6 261,413.6 261.2,413.5 261.5,413.5 273.5,411 273.6,410.9 305.6,405.9 305.6,405.9 325.6,402.9 354.6,397.9 354.7,397.9 374.7,395.4 396.5,392.4 419.3,386.5 419.4,386.5 436.3,382.5 453.3,377.5 453.6,377.4 474.6,373.9 494.6,370.4 494.7,370.4 514.7,368.4 514.8,368.4 536.6,366.4 549.2,363.5 561,358.6 561.3,358.5 561.6,358.4 584.4,354.5 598.9,350.6 601.9,348.6 599.1,345.8 585.5,348.5 585.3,348.6 562.4,351.6 537.4,355.6 537.2,355.6 495.3,358.6 454.3,363.6 420.4,368.6 330.5,386.5 330.4,386.6 290.4,392.6 260.7,397.5"/>
<path fill="#000000" d="M239 409a2 2 0 1 0 4 0a2 2 0 1 0 -4 0M239.4 412a2 2 0 1 0 4 0a2 2 0 1 0 -4 0M240.9 414a2 2 0 1 0 4 0a2 2 0 1 0 -4 0M244 419.4a2 2 0 1 0 4 0a2 2 0 1 0 -4 0M245.9 420.7a2 2 0 1 0 4 0a2 2 0 1 0 -4 0M249 421.4a2 2 0 1 0 4 0a2 2 0 1 0 -4 0M250.9 418.4a2 2 0 1 0 4 0a2 2 0 1 0 -4 0M253.9 416.6a2 2 0 1 0 4 0a2 2 0 1 0 -4 0M257.4 415.5a2 2 0 1 0 4 0a2 2 0 1 0 -4 0M260.3 414.3a2 2 0 1 0 4 0a2 2 0 1 0 -4 0M262.5 413.4a2 2 0 1 0 4 0a2 2 0 1 0 -4 0M263.4 413a2 2 0 1 0 4 0a2 2 0 1 0 -4 0M270.6 412.4a2 2 0 1 0 4 0a2 2 0 1 0 -4 0M275.1 411.5a2 2 0 1 0 4 0a2 2 0 1 0 -4 0M279.1 410.4a2 2 0 1 0 4 0a2 2 0 1 0 -4 0M281.4 410.6a2 2 0 1 0 4 0a2 2 0 1 0 -4 0M283.3 410.3a2 2 0 1 0 4 0a2 2 0 1 0 -4 0M286.4 409a2 2 0 1 0 4 0a2 2 0 1 0 -4 0M287.7 409.3a2 2 0 1 0 4 0a2 2 0 1 0 -4 0M290.9 409.6a2 2 0 1 0 4 0a2 2 0 1 0 -4 0M292.9 408.9a2 2 0 1 0 4 0a2 2 0 1 0 -4 0M294.3 409a2 2 0 1 0 4 0a2 2 0 1 0 -4 0M298.8 407.3a2 2 0 1 0 4 0a2 2 0 1 0 -4 0M301.1 407.9a2 2 0 1 0 4 0a2 2 0 1 0 -4 0M303.9 406.6a2 2 0 1 0 4 0a2 2 0 1 0 -4 0M306.2 406.2a2 2 0 1 0 4 0a2 2 0 1 0 -4 0M307.2 406a2 2 0 1 0 4 0a2 2 0 1 0 -4 0M309.4 405.5a2 2 0 1 0 4 0a2 2 0 1 0 -4 0M312 405.2a2 2 0 1 0 4 0a2 2 0 1 0 -4 0M314.7 405.6a2 2 0 1 0 4 0a2 2 0 1 0 -4 0M317.2 405.4a2 2 0 1 0 4 0a2 2 0 1 0 -4 0M318.6 404.3a2 2 0 1 0 4 0a2 2 0 1 0 -4 0M321.5 404.4a2 2 0 1 0 4 0a2 2 0 1 0 -4 0M323.7 404.5a2 2 0 1 0 4 0a2 2 0 1 0 -4 0M325.5 403.1a2 2 0 1 0 4 0a2 2 0 1 0 -4 0M327.9 403a2 2 0 1 0 4 0a2 2 0 1 0 -4 0M329.8 402.3a2 2 0 1 0 4 0a2 2 0 1 0 -4 0M331.6 403.2a2 2 0 1 0 4 0a2 2 0 1 0 -4 0M334.2 401.3a2 2 0 1 0 4 0a2 2 0 1 0 -4 0M335.5 401.1a2 2 0 1 0 4 0a2 2 0 1 0 -4 0M337.7 401.8a2 2 0 1 0 4 0a2 2 0 1 0 -4 0M340.6 401.5a2 2 0 1 0 4 0a2 2 0 1 0 -4 0M342.1 401a2 2 0 1 0 4 0a2 2 0 1 0 -4 0M345.5 399.9a2 2 0 1 0 4 0a2 2 0 1 0 -4 0M347.7 399.6a2 2 0 1 0 4 0a2 2 0 1 0 -4 0M353.5 399.4a2 2 0 1 0 4 0a2 2 0 1 0 -4 0M356.2 398.9a2 2 0 1 0 4 0a2 2 0 1 0 -4 0M359.4 398.6a2 2 0 1 0 4 0a2 2 0 1 0 -4 0M362.7 398a2 2 0 1 0 4 0a2 2 0 1 0 -4 0M364.7 397.2a2 2 0 1 0 4 0a2 2 0 1 0 -4 0M369.5 396.6a2 2 0 1 0 4 0a2 2 0 1 0 -4 0M373.7 395.9a2 2 0 1 0 4 0a2 2 0 1 0 -4 0M374.6 395.9a2 2 0 1 0 4 0a2 2 0 1 0 -4 0M378.1 395.9a2 2 0 1 0 4 0a2 2 0 1 0 -4 0M380.5 396.1a2 2 0 1 0 4 0a2 2 0 1 0 -4 0M384.4 395.1a2 2 0 1 0 4 0a2 2 0 1 0 -4 0M385.5 395.2a2 2 0 1 0 4 0a2 2 0 1 0 -4 0M388.6 394.7a2 2 0 1 0 4 0a2 2 0 1 0 -4 0M389.9 394.6a2 2 0 1 0 4 0a2 2 0 1 0 -4 0M392.1 393a2 2 0 1 0 4 0a2 2 0 1 0 -4 0M398.7 392.8a2 2 0 1 0 4 0a2 2 0 1 0 -4 0M403 390.9a2 2 0 1 0 4 0a2 2 0 1 0 -4 0M407.7 389.2a2 2 0 1 0 4 0a2 2 0 1 0 -4 0M412.8 389.3a2 2 0 1 0 4 0a2 2 0 1 0 -4 0M416.7 387.7a2 2 0 1 0 4 0a2 2 0 1 0 -4 0M417.9 387.2a2 2 0 1 0 4 0a2 2 0 1 0 -4 0M423.4 386a2 2 0 1 0 4 0a2 2 0 1 0 -4 0M424.5 385.6a2 2 0 1 0 4 0a2 2 0 1 0 -4 0M427.2 385.7a2 2 0 1 0 4 0a2 2 0 1 0 -4 0M429.3 385.4a2 2 0 1 0 4 0a2 2 0 1 0 -4 0M430.6 383.8a2 2 0 1 0 4 0a2 2 0 1 0 -4 0M432.9 383.5a2 2 0 1 0 4 0a2 2 0 1 0 -4 0M436.3 383a2 2 0 1 0 4 0a2 2 0 1 0 -4 0M446.6 379.4a2 2 0 1 0 4 0a2 2 0 1 0 -4 0M448.5 379.7a2 2 0 1 0 4 0a2 2 0 1 0 -4 0M450.2 379.2a2 2 0 1 0 4 0a2 2 0 1 0 -4 0M456.5 376.8a2 2 0 1 0 4 0a2 2 0 1 0 -4 0M464 376.4a2 2 0 1 0 4 0a2 2 0 1 0 -4 0M466.4 376.2a2 2 0 1 0 4 0a2 2 0 1 0 -4 0M470 375.7a2 2 0 1 0 4 0a2 2 0 1 0 -4 0M471.6 374.8a2 2 0 1 0 4 0a2 2 0 1 0 -4 0M474.3 374.6a2 2 0 1 0 4 0a2 2 0 1 0 -4 0M476.4 374a2 2 0 1 0 4 0a2 2 0 1 0 -4 0M479.5 373.1a2 2 0 1 0 4 0a2 2 0 1 0 -4 0M481.3 373.2a2 2 0 1 0 4 0a2 2 0 1 0 -4 0M483.2 372.8a2 2 0 1 0 4 0a2 2 0 1 0 -4 0M484.5 373.2a2 2 0 1 0 4 0a2 2 0 1 0 -4 0M489.5 371.6a2 2 0 1 0 4 0a2 2 0 1 0 -4 0M492.4 372a2 2 0 1 0 4 0a2 2 0 1 0 -4 0M493.6 371.5a2 2 0 1 0 4 0a2 2 0 1 0 -4 0M498.2 370.3a2 2 0 1 0 4 0a2 2 0 1 0 -4 0M507.3 370.7a2 2 0 1 0 4 0a2 2 0 1 0 -4 0M510.9 368.7a2 2 0 1 0 4 0a2 2 0 1 0 -4 0M516.4 369.3a2 2 0 1 0 4 0a2 2 0 1 0 -4 0M518.7 369.5a2 2 0 1 0 4 0a2 2 0 1 0 -4 0M519.7 368.8a2 2 0 1 0 4 0a2 2 0 1 0 -4 0M522.1 369.1a2 2 0 1 0 4 0a2 2 0 1 0 -4 0M526.5 367.8a2 2 0 1 0 4 0a2 2 0 1 0 -4 0M528.8 367.7a2 2 0 1 0 4 0a2 2 0 1 0 -4 0M533.8 367.2a2 2 0 1 0 4 0a2 2 0 1 0 -4 0M540.1 365.5a2 2 0 1 0 4 0a2 2 0 1 0 -4 0M542.3 365.8a2 2 0 1 0 4 0a2 2 0 1 0 -4 0M543.5 364.5a2 2 0 1 0 4 0a2 2 0 1 0 -4 0M545.9 364.3a2 2 0 1 0 4 0a2 2 0 1 0 -4 0M549.1 364a2 2 0 1 0 4 0a2 2 0 1 0 -4 0M550.7 362.7a2 2 0 1 0 4 0a2 2 0 1 0 -4 0M554.2 361.3a2 2 0 1 0 4 0a2 2 0 1 0 -4 0M558.2 359.1a2 2 0 1 0 4 0a2 2 0 1 0 -4 0M560.5 359a2 2 0 1 0 4 0a2 2 0 1 0 -4 0M565.1 358.2a2 2 0 1 0 4 0a2 2 0 1 0 -4 0M572.3 356.8a2 2 0 1 0 4 0a2 2 0 1 0 -4 0M576.3 356.3a2 2 0 1 0 4 0a2 2 0 1 0 -4 0M577.6 356.7a2 2 0 1 0 4 0a2 2 0 1 0 -4 0M580.7 355.7a2 2 0 1 0 4 0a2 2 0 1 0 -4 0M582.1 354.8a2 2 0 1 0 4 0a2 2 0 1 0 -4 0M585 354.9a2 2 0 1 0 4 0a2 2 0 1 0 -4 0M587.1 354.1a2 2 0 1 0 4 0a2 2 0 1 0 -4 0M588.5 353.2a2 2 0 1 0 4 0a2 2 0 1 0 -4 0M592.9 352.1a2 2 0 1 0 4 0a2 2 0 1 0 -4 0M595 351.7a2 2 0 1 0 4 0a2 2 0 1 0 -4 0M595.9 344.5a2 2 0 1 0 4 0a2 2 0 1 0 -4 0M594.5 346a2 2 0 1 0 4 0a2 2 0 1 0 -4 0M592.2 345.5a2 2 0 1 0 4 0a2 2 0 1 0 -4 0M585.1 347.9a2 2 0 1 0 4 0a2 2 0 1 0 -4 0M584.2 347a2 2 0 1 0 4 0a2 2 0 1 0 -4 0M579.9 347.9a2 2 0 1 0 4 0a2 2 0 1 0 -4 0M576.6 349a2 2 0 1 0 4 0a2 2 0 1 0 -4 0M573 348.7a2 2 0 1 0 4 0a2 2 0 1 0 -4 0M569.9 350.1a2 2 0 1 0 4 0a2 2 0 1 0 -4 0M568.5 349.4a2 2 0 1 0 4 0a2 2 0 1 0 -4 0M566 350.6a2 2 0 1 0 4 0a2 2 0 1 0 -4 0M563.4 350.4a2 2 0 1 0 4 0a2 2 0 1 0 -4 0M559.1 351.4a2 2 0 1 0 4 0a2 2 0 1 0 -4 0M556.9 350.7a2 2 0 1 0 4 0a2 2 0 1 0 -4 0M555.2 351.6a2 2 0 1 0 4 0a2 2 0 1 0 -4 0M548 353.1a2 2 0 1 0 4 0a2 2 0 1 0 -4 0M546.2 352.3a2 2 0 1 0 4 0a2 2 0 1 0 -4 0M544.8 352.6a2 2 0 1 0 4 0a2 2 0 1 0 -4 0M542.7 353.9a2 2 0 1 0 4 0a2 2 0 1 0 -4 0M540.3 354.4a2 2 0 1 0 4 0a2 2 0 1 0 -4 0M537.3 354.5a2 2 0 1 0 4 0a2 2 0 1 0 -4 0M535 354.1a2 2 0 1 0 4 0a2 2 0 1 0 -4 0M532.8 354.6a2 2 0 1 0 4 0a2 2 0 1 0 -4 0M531.3 354.8a2 2 0 1 0 4 0a2 2 0 1 0 -4 0M526.6 356a2 2 0 1 0 4 0a2 2 0 1 0 -4 0M518.5 356a2 2 0 1 0 4 0a2 2 0 1 0 -4 0M515.4 355.4a2 2 0 1 0 4 0a2 2 0 1 0 -4 0M511.3 356.4a2 2 0 1 0 4 0a2 2 0 1 0 -4 0M509.6 357a2 2 0 1 0 4 0a2 2 0 1 0 -4 0M502.1 357.4a2 2 0 1 0 4 0a2 2 0 1 0 -4 0M498 356.8a2 2 0 1 0 4 0a2 2 0 1 0 -4 0M494.3 357.4a2 2 0 1 0 4 0a2 2 0 1 0 -4 0M491.7 358.3a2 2 0 1 0 4 0a2 2 0 1 0 -4 0M487.6 358.3a2 2 0 1 0 4 0a2 2 0 1 0 -4 0M480.5 358.9a2 2 0 1 0 4 0a2 2 0 1 0 -4 0M473.5 359.5a2 2 0 1 0 4 0a2 2 0 1 0 -4 0M470.2 360.6a2 2 0 1 0 4 0a2 2 0 1 0 -4 0M467.6 360.7a2 2 0 1 0 4 0a2 2 0 1 0 -4 0M464.7 361.8a2 2 0 1 0 4 0a2 2 0 1 0 -4 0M462.6 361.6a2 2 0 1 0 4 0a2 2 0 1 0 -4 0M461.5 361.9a2 2 0 1 0 4 0a2 2 0 1 0 -4 0M455.8 361.7a2 2 0 1 0 4 0a2 2 0 1 0 -4 0M452.3 363.1a2 2 0 1 0 4 0a2 2 0 1 0 -4 0M450.1 363.6a2 2 0 1 0 4 0a2 2 0 1 0 -4 0M445.6 363.3a2 2 0 1 0 4 0a2 2 0 1 0 -4 0M437.3 364.9a2 2 0 1 0 4 0a2 2 0 1 0 -4 0M433.2 365.9a2 2 0 1 0 4 0a2 2 0 1 0 -4 0M430.5 366.4a2 2 0 1 0 4 0a2 2 0 1 0 -4 0M429 365.4a2 2 0 1 0 4 0a2 2 0 1 0 -4 0M422.2 366.6a2 2 0 1 0 4 0a2 2 0 1 0 -4 0M419.8 368a2 2 0 1 0 4 0a2 2 0 1 0 -4 0M418.1 368.1a2 2 0 1 0 4 0a2 2 0 1 0 -4 0M414.5 367.6a2 2 0 1 0 4 0a2 2 0 1 0 -4 0M412.7 368.4a2 2 0 1 0 4 0a2 2 0 1 0 -4 0M410.1 369.8a2 2 0 1 0 4 0a2 2 0 1 0 -4 0M406.4 369.7a2 2 0 1 0 4 0a2 2 0 1 0 -4 0M404.1 371.2a2 2 0 1 0 4 0a2 2 0 1 0 -4 0M395.1 372a2 2 0 1 0 4 0a2 2 0 1 0 -4 0M393.4 373.4a2 2 0 1 0 4 0a2 2 0 1 0 -4 0M386.6 373.2a2 2 0 1 0 4 0a2 2 0 1 0 -4 0M384.2 374.4a2 2 0 1 0 4 0a2 2 0 1 0 -4 0M383 374.9a2 2 0 1 0 4 0a2 2 0 1 0 -4 0M380.2 375.6a2 2 0 1 0 4 0a2 2 0 1 0 -4 0M374 376.2a2 2 0 1 0 4 0a2 2 0 1 0 -4 0M371.8 377.1a2 2 0 1 0 4 0a2 2 0 1 0 -4 0M370.3 378a2 2 0 1 0 4 0a2 2 0 1 0 -4 0M362.7 378.3a2 2 0 1 0 4 0a2 2 0 1 0 -4 0M356 379.7a2 2 0 1 0 4 0a2 2 0 1 0 -4 0M354.7 379.8a2 2 0 1 0 4 0a2 2 0 1 0 -4 0M350.9 381a2 2 0 1 0 4 0a2 2 0 1 0 -4 0M347.6 382.5a2 2 0 1 0 4 0a2 2 0 1 0 -4 0M346.5 381.4a2 2 0 1 0 4 0a2 2 0 1 0 -4 0M344.1 383.4a2 2 0 1 0 4 0a2 2 0 1 0 -4 0M339.2 384.2a2 2 0 1 0 4 0a2 2 0 1 0 -4 0M338 383.5a2 2 0 1 0 4 0a2 2 0 1 0 -4 0M335.8 383.9a2 2 0 1 0 4 0a2 2 0 1 0 -4 0M332.7 384.9a2 2 0 1 0 4 0a2 2 0 1 0 -4 0M324.8 385.5a2 2 0 1 0 4 0a2 2 0 1 0 -4 0M322.8 386.2a2 2 0 1 0 4 0a2 2 0 1 0 -4 0M320 386.5a2 2 0 1 0 4 0a2 2 0 1 0 -4 0M314 387.2a2 2 0 1 0 4 0a2 2 0 1 0 -4 0M308.4 387.9a2 2 0 1 0 4 0a2 2 0 1 0 -4 0M302.9 390.3a2 2 0 1 0 4 0a2 2 0 1 0 -4 0M297.7 390.2a2 2 0 1 0 4 0a2 2 0 1 0 -4 0M287.3 392.4a2 2 0 1 0 4 0a2 2 0 1 0 -4 0M285.6 391.5a2 2 0 1 0 4 0a2 2 0 1 0 -4 0M283 392a2 2 0 1 0 4 0a2 2 0 1 0 -4 0M278 393.2a2 2 0 1 0 4 0a2 2 0 1 0 -4 0M276.2 392.9a2 2 0 1 0 4 0a2 2 0 1 0 -4 0M274.5 393.4a2 2 0 1 0 4 0a2 2 0 1 0 -4 0M272.4 395a2 2 0 1 0 4 0a2 2 0 1 0 -4 0M266.8 395.5a2 2 0 1 0 4 0a2 2 0 1 0 -4 0M265.2 394.7a2 2 0 1 0 4 0a2 2 0 1 0 -4 0M262.8 396a2 2 0 1 0 4 0a2 2 0 1 0 -4 0M258.2 396.9a2 2 0 1 0 4 0a2 2 0 1 0 -4 0M256.4 397.2a2 2 0 1 0 4 0a2 2 0 1 0 -4 0M252.5 399a2 2 0 1 0 4 0a2 2 0 1 0 -4 0M250.6 400.2a2 2 0 1 0 4 0a2 2 0 1 0 -4 0M249.2 400.2a2 2 0 1 0 4 0a2 2 0 1 0 -4 0M246.9 401.5a2 2 0 1 0 4 0a2 2 0 1 0 -4 0M243 403.5a2 2 0 1 0 4 0a2 2 0 1 0 -4 0M239.9 404.3a2 2 0 1 0 4 0a2 2 0 1 0 -4 0"/>
<polygon fill="#ff0000" points="73.1,407.2 73.1,437.9 241.7,437.9 242.9,429.6 243,429.3 243.1,429.1 246.6,420.1 246.7,419.8 246.8,419.6 246.9,419.4 247.1,419.2 254.1,411.7 254.3,411.5 254.5,411.4 254.7,411.3 266.7,404.3 266.9,404.2 267.1,404.1 284.1,397.6 284.3,397.5 284.5,397.4 305.4,393.5 327.3,387.5 327.5,387.4 327.7,387.4 349.7,385 374.6,381.4 399.5,377.4 419.4,373.5 439.1,367.5 451.1,362.8 448.6,359.1 430.1,359.1 412.2,360.6 412.1,360.6 392.2,361.6 375.3,363.6 375.3,363.6 360.3,365.1 360.2,365.1 339.2,367.1 339.2,367.1 317.2,368.6 296.2,370.6 296.1,370.6 278.4,371.1 263.7,375.1 263.4,375.2 242.4,378.3 242.1,378.3 241.8,378.3 241.5,378.3 225.1,375.2 217.1,377.1 206.5,384.3 206.2,384.5 206,384.6 205.7,384.7 205.5,384.8 195.5,386.6 195.4,386.6 184.7,388 173.9,392.2 173.7,392.3 173.5,392.3 162.5,394.5 162.4,394.6 141.4,397.8 141.1,397.8 119.4,398.9 108.7,402 108.4,402.1 87.4,405.3 87.3,405.3"/>
<path fill="#ff0000" d="M70.2 406.7a2 2 0 1 0 4 0a2 2 0 1 0 -4 0M70.1 408.1a2 2 0 1 0 4 0a2 2 0 1 0 -4 0M70.3 411.4a2 2 0 1 0 4 0a2 2 0 1 0 -4 0M69.9 414.7a2 2 0 1 0 4 0a2 2 0 1 0 -4 0M70.6 417a2 2 0 1 0 4 0a2 2 0 1 0 -4 0M71 419.4a2 2 0 1 0 4 0a2 2 0 1 0 -4 0M70.4 424.6a2 2 0 1 0 4 0a2 2 0 1 0 -4 0M70 427a2 2 0 1 0 4 0a2 2 0 1 0 -4 0M69.9 428.4a2 2 0 1 0 4 0a2 2 0 1 0 -4 0M70.9 433.1a2 2 0 1 0 4 0a2 2 0 1 0 -4 0M69.5 434.3a2 2 0 1 0 4 0a2 2 0 1 0 -4 0M69.4 437.2a2 2 0 1 0 4 0a2 2 0 1 0 -4 0M70.3 439.4a2 2 0 1 0 4 0a2 2 0 1 0 -4 0M73.7 438.6a2 2 0 1 0 4 0a2 2 0 1 0 -4 0M75.3 438.4a2 2 0 1 0 4 0a2 2 0 1 0 -4 0M79.2 438.5a2 2 0 1 0 4 0a2 2 0 1 0 -4 0M83.3 438.5a2 2 0 1 0 4 0a2 2 0 1 0 -4 0M86.7 438.2a2 2 0 1 0 4 0a2 2 0 1 0 -4 0M90.6 438.7a2 2 0 1 0 4 0a2 2 0 1 0 -4 0M93.6 439.5a2 2 0 1 0 4 0a2 2 0 1 0 -4 0M100.9 439.3a2 2 0 1 0 4 0a2 2 0 1 0 -4 0M104 438.5a2 2 0 1 0 4 0a2 2 0 1 0 -4 0M106.7 438.9a2 2 0 1 0 4 0a2 2 0 1 0 -4 0M107.9 438.6a2 2 0 1 0 4 0a2 2 0 1 0 -4 0M111.2 439.4a2 2 0 1 0 4 0a2 2 0 1 0 -4 0M114.7 438.2a2 2 0 1 0 4 0a2 2 0 1 0 -4 0M125 438.1a2 2 0 1 0 4 0a2 2 0 1 0 -4 0M132 439.4a2 2 0 1 0 4 0a2 2 0 1 0 -4 0M134.3 438a2 2 0 1 0 4 0a2 2 0 1 0 -4 0M139.4 439.3a2 2 0 1 0 4 0a2 2 0 1 0 -4 0M142 439.2a2 2 0 1 0 4 0a2 2 0 1 0 -4 0M148.2 438.4a2 2 0 1 0 4 0a2 2 0 1 0 -4 0M149.8 439.6a2 2 0 1 0 4 0a2 2 0 1 0 -4 0M152.1 438.2a2 2 0 1 0 4 0a2 2 0 1 0 -4 0M156.9 438.8a2 2 0 1 0 4 0a2 2 0 1 0 -4 0M160.9 439.2a2 2 0 1 0 4 0a2 2 0 1 0 -4 0M168.2 439.2a2 2 0 1 0 4 0a2 2 0 1 0 -4 0M169.7 438.9a2 2 0 1 0 4 0a2 2 0 1 0 -4 0M171.4 438.5a2 2 0 1 0 4 0a2 2 0 1 0 -4 0M173.5 439.1a2 2 0 1 0 4 0a2 2 0 1 0 -4 0M178.1 439.2a2 2 0 1 0 4 0a2 2 0 1 0 -4 0M182.6 438.9a2 2 0 1 0 4 0a2 2 0 1 0 -4 0M184.8 438.2a2 2 0 1 0 4 0a2 2 0 1 0 -4 0M190.3 438.3a2 2 0 1 0 4 0a2 2 0 1 0 -4 0M191.8 438.1a2 2 0 1 0 4 0a2 2 0 1 0 -4 0M194.1 438.8a2 2 0 1 0 4 0a2 2 0 1 0 -4 0M198.6 438.9a2 2 0 1 0 4 0a2 2 0 1 0 -4 0M202 439.6a2 2 0 1 0 4 0a2 2 0 1 0 -4 0M206.6 438.4a2 2 0 1 0 4 0a2 2 0 1 0 -4 0M208.8 438a2 2 0 1 0 4 0a2 2 0 1 0 -4 0M210.8 438.4a2 2 0 1 0 4 0a2 2 0 1 0 -4 0M213.3 438a2 2 0 1 0 4 0a2 2 0 1 0 -4 0M215.6 438.5a2 2 0 1 0 4 0a2 2 0 1 0 -4 0M218 438.5a2 2 0 1 0 4 0a2 2 0 1 0 -4 0M221 439.2a2 2 0 1 0 4 0a2 2 0 1 0 -4 0M221.8 438.4a2 2 0 1 0 4 0a2 2 0 1 0 -4 0M226.5 439.3a2 2 0 1 0 4 0a2 2 0 1 0 -4 0M231.4 438.9a2 2 0 1 0 4 0a2 2 0 1 0 -4 0M233.3 439a2 2 0 1 0 4 0a2 2 0 1 0 -4 0M236 439a2 2 0 1 0 4 0a2 2 0 1 0 -4 0M237.3 438a2 2 0 1 0 4 0a2 2 0 1 0 -4 0M241.8 432a2 2 0 1 0 4 0a2 2 0 1 0 -4 0M241.2 431a2 2 0 1 0 4 0a2 2 0 1 0 -4 0M244.6 423.8a2 2 0 1 0 4 0a2 2 0 1 0 -4 0M245 421.7a2 2 0 1 0 4 0a2 2 0 1 0 -4 0M244.9 420.6a2 2 0 1 0 4 0a2 2 0 1 0 -4 0M246.5 418.1a2 2 0 1 0 4 0a2 2 0 1 0 -4 0M248.8 416.9a2 2 0 1 0 4 0a2 2 0 1 0 -4 0M253.1 411.5a2 2 0 1 0 4 0a2 2 0 1 0 -4 0M254.4 410.3a2 2 0 1 0 4 0a2 2 0 1 0 -4 0M257.5 410.1a2 2 0 1 0 4 0a2 2 0 1 0 -4 0M258.3 408.9a2 2 0 1 0 4 0a2 2 0 1 0 -4 0M259.9 407a2 2 0 1 0 4 0a2 2 0 1 0 -4 0M262.7 405.9a2 2 0 1 0 4 0a2 2 0 1 0 -4 0M266.6 404.5a2 2 0 1 0 4 0a2 2 0 1 0 -4 0M269.2 403.5a2 2 0 1 0 4 0a2 2 0 1 0 -4 0M270.6 403.5a2 2 0 1 0 4 0a2 2 0 1 0 -4 0M277.1 400.8a2 2 0 1 0 4 0a2 2 0 1 0 -4 0M285.2 397.8a2 2 0 1 0 4 0a2 2 0 1 0 -4 0M287.7 397a2 2 0 1 0 4 0a2 2 0 1 0 -4 0M291.5 397a2 2 0 1 0 4 0a2 2 0 1 0 -4 0M302.7 394.6a2 2 0 1 0 4 0a2 2 0 1 0 -4 0M306.4 392.8a2 2 0 1 0 4 0a2 2 0 1 0 -4 0M308.8 392.6a2 2 0 1 0 4 0a2 2 0 1 0 -4 0M310.9 391.7a2 2 0 1 0 4 0a2 2 0 1 0 -4 0M312.9 391.5a2 2 0 1 0 4 0a2 2 0 1 0 -4 0M315.2 391a2 2 0 1 0 4 0a2 2 0 1 0 -4 0M316.5 390.7a2 2 0 1 0 4 0a2 2 0 1 0 -4 0M321.3 389.2a2 2 0 1 0 4 0a2 2 0 1 0 -4 0M326.2 387.5a2 2 0 1 0 4 0a2 2 0 1 0 -4 0M327.5 387.9a2 2 0 1 0 4 0a2 2 0 1 0 -4 0M330 388.6a2 2 0 1 0 4 0a2 2 0 1 0 -4 0M332.4 388.3a2 2 0 1 0 4 0a2 2 0 1 0 -4 0M334.7 387.9a2 2 0 1 0 4 0a2 2 0 1 0 -4 0M336 387.9a2 2 0 1 0 4 0a2 2 0 1 0 -4 0M339 386.2a2 2 0 1 0 4 0a2 2 0 1 0 -4 0M343.5 386.1a2 2 0 1 0 4 0a2 2 0 1 0 -4 0M347.3 386.6a2 2 0 1 0 4 0a2 2 0 1 0 -4 0M349.4 385.6a2 2 0 1 0 4 0a2 2 0 1 0 -4 0M353.7 385.5a2 2 0 1 0 4 0a2 2 0 1 0 -4 0M356.2 385.1a2 2 0 1 0 4 0a2 2 0 1 0 -4 0M363.5 383.5a2 2 0 1 0 4 0a2 2 0 1 0 -4 0M367.9 383.1a2 2 0 1 0 4 0a2 2 0 1 0 -4 0M368.9 382.8a2 2 0 1 0 4 0a2 2 0 1 0 -4 0M371.1 383.1a2 2 0 1 0 4 0a2 2 0 1 0 -4 0M374.4 381.6a2 2 0 1 0 4 0a2 2 0 1 0 -4 0M375.9 381.2a2 2 0 1 0 4 0a2 2 0 1 0 -4 0M378.8 381.8a2 2 0 1 0 4 0a2 2 0 1 0 -4 0M380.5 381.7a2 2 0 1 0 4 0a2 2 0 1 0 -4 0M383.9 381a2 2 0 1 0 4 0a2 2 0 1 0 -4 0M386.4 379.5a2 2 0 1 0 4 0a2 2 0 1 0 -4 0M389.1 379.7a2 2 0 1 0 4 0a2 2 0 1 0 -4 0M390.6 379.7a2 2 0 1 0 4 0a2 2 0 1 0 -4 0M393 379.6a2 2 0 1 0 4 0a2 2 0 1 0 -4 0M401.8 377.4a2 2 0 1 0 4 0a2 2 0 1 0 -4 0M404.5 377.7a2 2 0 1 0 4 0a2 2 0 1 0 -4 0M406.3 377.4a2 2 0 1 0 4 0a2 2 0 1 0 -4 0M410 375.7a2 2 0 1 0 4 0a2 2 0 1 0 -4 0M413.2 374.8a2 2 0 1 0 4 0a2 2 0 1 0 -4 0M415.7 374.1a2 2 0 1 0 4 0a2 2 0 1 0 -4 0M416.4 374.8a2 2 0 1 0 4 0a2 2 0 1 0 -4 0M419.9 373.4a2 2 0 1 0 4 0a2 2 0 1 0 -4 0M422.7 371.9a2 2 0 1 0 4 0a2 2 0 1 0 -4 0M425.4 372.7a2 2 0 1 0 4 0a2 2 0 1 0 -4 0M428 370.6a2 2 0 1 0 4 0a2 2 0 1 0 -4 0M429.8 370.1a2 2 0 1 0 4 0a2 2 0 1 0 -4 0M431.8 369.8a2 2 0 1 0 4 0a2 2 0 1 0 -4 0M435.5 368.2a2 2 0 1 0 4 0a2 2 0 1 0 -4 0M437.8 368.3a2 2 0 1 0 4 0a2 2 0 1 0 -4 0M446.8 365.3a2 2 0 1 0 4 0a2 2 0 1 0 -4 0M449.2 364.2a2 2 0 1 0 4 0a2 2 0 1 0 -4 0M450 362.6a2 2 0 1 0 4 0a2 2 0 1 0 -4 0M449.4 362a2 2 0 1 0 4 0a2 2 0 1 0 -4 0M447.2 360.3a2 2 0 1 0 4 0a2 2 0 1 0 -4 0M446.1 358.8a2 2 0 1 0 4 0a2 2 0 1 0 -4 0M444.8 358.8a2 2 0 1 0 4 0a2 2 0 1 0 -4 0M442.3 357.4a2 2 0 1 0 4 0a2 2 0 1 0 -4 0M440.1 358.6a2 2 0 1 0 4 0a2 2 0 1 0 -4 0M437.1 357.8a2 2 0 1 0 4 0a2 2 0 1 0 -4 0M434.8 357.6a2 2 0 1 0 4 0a2 2 0 1 0 -4 0M433.8 358.3a2 2 0 1 0 4 0a2 2 0 1 0 -4 0M431.9 358.3a2 2 0 1 0 4 0a2 2 0 1 0 -4 0M429 358.8a2 2 0 1 0 4 0a2 2 0 1 0 -4 0M426.6 358.4a2 2 0 1 0 4 0a2 2 0 1 0 -4 0M421.8 358.8a2 2 0 1 0 4 0a2 2 0 1 0 -4 0M420.1 359.2a2 2 0 1 0 4 0a2 2 0 1 0 -4 0M418 358.7a2 2 0 1 0 4 0a2 2 0 1 0 -4 0M416.3 359.2a2 2 0 1 0 4 0a2 2 0 1 0 -4 0M413.2 359a2 2 0 1 0 4 0a2 2 0 1 0 -4 0M411.4 359.1a2 2 0 1 0 4 0a2 2 0 1 0 -4 0M406.7 359.5a2 2 0 1 0 4 0a2 2 0 1 0 -4 0M397.5 360.5a2 2 0 1 0 4 0a2 2 0 1 0 -4 0M396.6 360.7a2 2 0 1 0 4 0a2 2 0 1 0 -4 0M393.7 360.8a2 2 0 1 0 4 0a2 2 0 1 0 -4 0M391.4 361.1a2 2 0 1 0 4 0a2 2 0 1 0 -4 0M389.5 360.1a2 2 0 1 0 4 0a2 2 0 1 0 -4 0M386.8 360.3a2 2 0 1 0 4 0a2 2 0 1 0 -4 0M385.1 362a2 2 0 1 0 4 0a2 2 0 1 0 -4 0M383.5 361.5a2 2 0 1 0 4 0a2 2 0 1 0 -4 0M380.3 361.8a2 2 0 1 0 4 0a2 2 0 1 0 -4 0M375.5 362.1a2 2 0 1 0 4 0a2 2 0 1 0 -4 0M374.3 362.6a2 2 0 1 0 4 0a2 2 0 1 0 -4 0M372.6 363.2a2 2 0 1 0 4 0a2 2 0 1 0 -4 0M369 363.4a2 2 0 1 0 4 0a2 2 0 1 0 -4 0M367.8 363.3a2 2 0 1 0 4 0a2 2 0 1 0 -4 0M365.3 364a2 2 0 1 0 4 0a2 2 0 1 0 -4 0M362.4 363.1a2 2 0 1 0 4 0a2 2 0 1 0 -4 0M358.2 364.5a2 2 0 1 0 4 0a2 2 0 1 0 -4 0M352.7 364.1a2 2 0 1 0 4 0a2 2 0 1 0 -4 0M350.5 364.7a2 2 0 1 0 4 0a2 2 0 1 0 -4 0M348.4 365.5a2 2 0 1 0 4 0a2 2 0 1 0 -4 0M344.9 365.5a2 2 0 1 0 4 0a2 2 0 1 0 -4 0M341.9 365.2a2 2 0 1 0 4 0a2 2 0 1 0 -4 0M338.6 365.7a2 2 0 1 0 4 0a2 2 0 1 0 -4 0M336.8 365.5a2 2 0 1 0 4 0a2 2 0 1 0 -4 0M334.9 367a2 2 0 1 0 4 0a2 2 0 1 0 -4 0M330.9 366.7a2 2 0 1 0 4 0a2 2 0 1 0 -4 0M325.2 367.3a2 2 0 1 0 4 0a2 2 0 1 0 -4 0M324.5 367.2a2 2 0 1 0 4 0a2 2 0 1 0 -4 0M319 367.7a2 2 0 1 0 4 0a2 2 0 1 0 -4 0M314.6 367.6a2 2 0 1 0 4 0a2 2 0 1 0 -4 0M310 368.1a2 2 0 1 0 4 0a2 2 0 1 0 -4 0M307.7 368a2 2 0 1 0 4 0a2 2 0 1 0 -4 0M304.4 368.4a2 2 0 1 0 4 0a2 2 0 1 0 -4 0M301.8 369.6a2 2 0 1 0 4 0a2 2 0 1 0 -4 0M297.7 369.6a2 2 0 1 0 4 0a2 2 0 1 0 -4 0M295.5 369.6a2 2 0 1 0 4 0a2 2 0 1 0 -4 0M293.3 369.1a2 2 0 1 0 4 0a2 2 0 1 0 -4 0M291.4 369.9a2 2 0 1 0 4 0a2 2 0 1 0 -4 0M288.9 369.8a2 2 0 1 0 4 0a2 2 0 1 0 -4 0M286.5 369.1a2 2 0 1 0 4 0a2 2 0 1 0 -4 0M283.5 370.8a2 2 0 1 0 4 0a2 2 0 1 0 -4 0M279.3 370.7a2 2 0 1 0 4 0a2 2 0 1 0 -4 0M278.1 370.4a2 2 0 1 0 4 0a2 2 0 1 0 -4 0M275.8 370a2 2 0 1 0 4 0a2 2 0 1 0 -4 0M271.6 372.1a2 2 0 1 0 4 0a2 2 0 1 0 -4 0M268.9 371.9a2 2 0 1 0 4 0a2 2 0 1 0 -4 0M267.6 373a2 2 0 1 0 4 0a2 2 0 1 0 -4 0M264.9 373.9a2 2 0 1 0 4 0a2 2 0 1 0 -4 0M262.5 374.2a2 2 0 1 0 4 0a2 2 0 1 0 -4 0M260.6 374a2 2 0 1 0 4 0a2 2 0 1 0 -4 0M258.7 374.4a2 2 0 1 0 4 0a2 2 0 1 0 -4 0M249.7 375.4a2 2 0 1 0 4 0a2 2 0 1 0 -4 0M246.8 376.3a2 2 0 1 0 4 0a2 2 0 1 0 -4 0M240.6 378a2 2 0 1 0 4 0a2 2 0 1 0 -4 0M239.4 377.8a2 2 0 1 0 4 0a2 2 0 1 0 -4 0M237.4 377a2 2 0 1 0 4 0a2 2 0 1 0 -4 0M234.4 376.6a2 2 0 1 0 4 0a2 2 0 1 0 -4 0M232.9 376.6a2 2 0 1 0 4 0a2 2 0 1 0 -4 0M229.4 376a2 2 0 1 0 4 0a2 2 0 1 0 -4 0M228.2 374.5a2 2 0 1 0 4 0a2 2 0 1 0 -4 0M226.5 374.5a2 2 0 1 0 4 0a2 2 0 1 0 -4 0M224.4 373.9a2 2 0 1 0 4 0a2 2 0 1 0 -4 0M220.8 374.7a2 2 0 1 0 4 0a2 2 0 1 0 -4 0M217.7 376.4a2 2 0 1 0 4 0a2 2 0 1 0 -4 0M208.3 381.5a2 2 0 1 0 4 0a2 2 0 1 0 -4 0M206.2 381.7a2 2 0 1 0 4 0a2 2 0 1 0 -4 0M203.9 384.1a2 2 0 1 0 4 0a2 2 0 1 0 -4 0M200.7 383.8a2 2 0 1 0 4 0a2 2 0 1 0 -4 0M197.4 384.2a2 2 0 1 0 4 0a2 2 0 1 0 -4 0M193.2 386.2a2 2 0 1 0 4 0a2 2 0 1 0 -4 0M191.4 385.9a2 2 0 1 0 4 0a2 2 0 1 0 -4 0M189.8 385.9a2 2 0 1 0 4 0a2 2 0 1 0 -4 0M186.8 386a2 2 0 1 0 4 0a2 2 0 1 0 -4 0M184.7 387.3a2 2 0 1 0 4 0a2 2 0 1 0 -4 0M181.8 387.8a2 2 0 1 0 4 0a2 2 0 1 0 -4 0M181.1 387.2a2 2 0 1 0 4 0a2 2 0 1 0 -4 0M177.8 388.4a2 2 0 1 0 4 0a2 2 0 1 0 -4 0M176.7 389.4a2 2 0 1 0 4 0a2 2 0 1 0 -4 0M174.1 390.4a2 2 0 1 0 4 0a2 2 0 1 0 -4 0M173 390.6a2 2 0 1 0 4 0a2 2 0 1 0 -4 0M170.2 391.5a2 2 0 1 0 4 0a2 2 0 1 0 -4 0M166.1 392.4a2 2 0 1 0 4 0a2 2 0 1 0 -4 0M161.4 393.1a2 2 0 1 0 4 0a2 2 0 1 0 -4 0M159 394.1a2 2 0 1 0 4 0a2 2 0 1 0 -4 0M157.5 393.8a2 2 0 1 0 4 0a2 2 0 1 0 -4 0M155.1 394.8a2 2 0 1 0 4 0a2 2 0 1 0 -4 0M152.7 394.2a2 2 0 1 0 4 0a2 2 0 1 0 -4 0M150.1 394.6a2 2 0 1 0 4 0a2 2 0 1 0 -4 0M148.7 395.2a2 2 0 1 0 4 0a2 2 0 1 0 -4 0M143.7 395.6a2 2 0 1 0 4 0a2 2 0 1 0 -4 0M142.2 396.6a2 2 0 1 0 4 0a2 2 0 1 0 -4 0M140.2 397.1a2 2 0 1 0 4 0a2 2 0 1 0 -4 0M137.7 397.2a2 2 0 1 0 4 0a2 2 0 1 0 -4 0M134.7 396.9a2 2 0 1 0 4 0a2 2 0 1 0 -4 0M131.2 396.6a2 2 0 1 0 4 0a2 2 0 1 0 -4 0M124.2 397.7a2 2 0 1 0 4 0a2 2 0 1 0 -4 0M121.7 397.1a2 2 0 1 0 4 0a2 2 0 1 0 -4 0M120 398.6a2 2 0 1 0 4 0a2 2 0 1 0 -4 0M108.7 401.1a2 2 0 1 0 4 0a2 2 0 1 0 -4 0M105.2 401.3a2 2 0 1 0 4 0a2 2 0 1 0 -4 0M102.3 401.8a2 2 0 1 0 4 0a2 2 0 1 0 -4 0M100.1 402.6a2 2 0 1 0 4 0a2 2 0 1 0 -4 0M99.1 402a2 2 0 1 0 4 0a2 2 0 1 0 -4 0M96 403.2a2 2 0 1 0 4 0a2 2 0 1 0 -4 0M94.4 403.1a2 2 0 1 0 4 0a2 2 0 1 0 -4 0M91.3 403.3a2 2 0 1 0 4 0a2 2 0 1 0 -4 0M90.3 403.2a2 2 0 1 0 4 0a2 2 0 1 0 -4 0M87.3 404.5a2 2 0 1 0 4 0a2 2 0 1 0 -4 0M85.7 403.6a2 2 0 1 0 4 0a2 2 0 1 0 -4 0M83.6 404.6a2 2 0 1 0 4 0a2 2 0 1 0 -4 0M81.1 405.6a2 2 0 1 0 4 0a2 2 0 1 0 -4 0M79 405.1a2 2 0 1 0 4 0a2 2 0 1 0 -4 0M76 406.1a2 2 0 1 0 4 0a2 2 0 1 0 -4 0M74.3 405.5a2 2 0 1 0 4 0a2 2 0 1 0 -4 0M73.1 406.6a2 2 0 1 0 4 0a2 2 0 1 0 -4 0"/>
<path fill="#ff0000" d="M498.5 356.9a2 2 0 1 0 4 0a2 2 0 1 0 -4 0M443.3 360.6a2 2 0 1 0 4 0a2 2 0 1 0 -4 0M464 355.8a2 2 0 1 0 4 0a2 2 0 1 0 -4 0M464.3 358.3a2 2 0 1 0 4 0a2 2 0 1 0 -4 0M543.6 354.6a2 2 0 1 0 4 0a2 2 0 1 0 -4 0M440.1 366.8a2 2 0 1 0 4 0a2 2 0 1 0 -4 0M444.7 363.4a2 2 0 1 0 4 0a2 2 0 1 0 -4 0M485.3 359.1a2 2 0 1 0 4 0a2 2 0 1 0 -4 0M510.7 351.1a2 2 0 1 0 4 0a2 2 0 1 0 -4 0M579.1 346.3a2 2 0 1 0 4 0a2 2 0 1 0 -4 0M459.4 361.1a2 2 0 1 0 4 0a2 2 0 1 0 -4 0M546.4 351.5a2 2 0 1 0 4 0a2 2 0 1 0 -4 0M533.4 355.5a2 2 0 1 0 4 0a2 2 0 1 0 -4 0M524.3 352.9a2 2 0 1 0 4 0a2 2 0 1 0 -4 0M503.9 359.3a2 2 0 1 0 4 0a2 2 0 1 0 -4 0M455.8 359.4a2 2 0 1 0 4 0a2 2 0 1 0 -4 0M524.9 349.9a2 2 0 1 0 4 0a2 2 0 1 0 -4 0M576.6 345.1a2 2 0 1 0 4 0a2 2 0 1 0 -4 0M495.9 358.5a2 2 0 1 0 4 0a2 2 0 1 0 -4 0M521.2 358.1a2 2 0 1 0 4 0a2 2 0 1 0 -4 0M452.2 355.4a2 2 0 1 0 4 0a2 2 0 1 0 -4 0M487.5 360.9a2 2 0 1 0 4 0a2 2 0 1 0 -4 0M467.7 359.7a2 2 0 1 0 4 0a2 2 0 1 0 -4 0M560.4 347.8a2 2 0 1 0 4 0a2 2 0 1 0 -4 0M537 350.5a2 2 0 1 0 4 0a2 2 0 1 0 -4 0M513.9 354.9a2 2 0 1 0 4 0a2 2 0 1 0 -4 0M572.1 344.5a2 2 0 1 0 4 0a2 2 0 1 0 -4 0M590.3 341a2 2 0 1 0 4 0a2 2 0 1 0 -4 0M590.8 345.6a2 2 0 1 0 4 0a2 2 0 1 0 -4 0M443.6 361.3a2 2 0 1 0 4 0a2 2 0 1 0 -4 0M463.8 361.1a2 2 0 1 0 4 0a2 2 0 1 0 -4 0M469.4 357.2a2 2 0 1 0 4 0a2 2 0 1 0 -4 0M489.9 361.5a2 2 0 1 0 4 0a2 2 0 1 0 -4 0M452 363.7a2 2 0 1 0 4 0a2 2 0 1 0 -4 0M519.2 357.7a2 2 0 1 0 4 0a2 2 0 1 0 -4 0M476.1 359.5a2 2 0 1 0 4 0a2 2 0 1 0 -4 0M503 360.2a2 2 0 1 0 4 0a2 2 0 1 0 -4 0M486.1 361.1a2 2 0 1 0 4 0a2 2 0 1 0 -4 0M440.6 357.7a2 2 0 1 0 4 0a2 2 0 1 0 -4 0M490.6 353.4a2 2 0 1 0 4 0a2 2 0 1 0 -4 0M479.5 356.5a2 2 0 1 0 4 0a2 2 0 1 0 -4 0M555.7 347.5a2 2 0 1 0 4 0a2 2 0 1 0 -4 0M517.2 358.8a2 2 0 1 0 4 0a2 2 0 1 0 -4 0M486.7 359.9a2 2 0 1 0 4 0a2 2 0 1 0 -4 0M449.3 363.4a2 2 0 1 0 4 0a2 2 0 1 0 -4 0M477.7 362.5a2 2 0 1 0 4 0a2 2 0 1 0 -4 0M547.9 353a2 2 0 1 0 4 0a2 2 0 1 0 -4 0M545.3 351.2a2 2 0 1 0 4 0a2 2 0 1 0 -4 0M517.8 354.2a2 2 0 1 0 4 0a2 2 0 1 0 -4 0M519.6 356a2 2 0 1 0 4 0a2 2 0 1 0 -4 0M576.9 347.2a2 2 0 1 0 4 0a2 2 0 1 0 -4 0M569.8 347a2 2 0 1 0 4 0a2 2 0 1 0 -4 0M468.7 359.9a2 2 0 1 0 4 0a2 2 0 1 0 -4 0M488.9 354.8a2 2 0 1 0 4 0a2 2 0 1 0 -4 0M450.1 363.3a2 2 0 1 0 4 0a2 2 0 1 0 -4 0M548.5 349.5a2 2 0 1 0 4 0a2 2 0 1 0 -4 0M459.4 364.9a2 2 0 1 0 4 0a2 2 0 1 0 -4 0M458.6 361a2 2 0 1 0 4 0a2 2 0 1 0 -4 0M565.1 348.8a2 2 0 1 0 4 0a2 2 0 1 0 -4 0M536.7 350.8a2 2 0 1 0 4 0a2 2 0 1 0 -4 0M455.2 356.7a2 2 0 1 0 4 0a2 2 0 1 0 -4 0M535.3 351.1a2 2 0 1 0 4 0a2 2 0 1 0 -4 0M510.9 355.1a2 2 0 1 0 4 0a2 2 0 1 0 -4 0M477.9 354.1a2 2 0 1 0 4 0a2 2 0 1 0 -4 0M513.7 359.1a2 2 0 1 0 4 0a2 2 0 1 0 -4 0M444.8 362.5a2 2 0 1 0 4 0a2 2 0 1 0 -4 0M590.7 346.2a2 2 0 1 0 4 0a2 2 0 1 0 -4 0M475 353.3a2 2 0 1 0 4 0a2 2 0 1 0 -4 0M520.4 356.5a2 2 0 1 0 4 0a2 2 0 1 0 -4 0M471.5 354.2a2 2 0 1 0 4 0a2 2 0 1 0 -4 0M531.3 356.2a2 2 0 1 0 4 0a2 2 0 1 0 -4 0M511.6 354.3a2 2 0 1 0 4 0a2 2 0 1 0 -4 0M494.7 353.8a2 2 0 1 0 4 0a2 2 0 1 0 -4 0M555.5 350.4a2 2 0 1 0 4 0a2 2 0 1 0 -4 0M463.5 357.6a2 2 0 1 0 4 0a2 2 0 1 0 -4 0M494 353a2 2 0 1 0 4 0a2 2 0 1 0 -4 0M542.5 351.5a2 2 0 1 0 4 0a2 2 0 1 0 -4 0M477.5 359.2a2 2 0 1 0 4 0a2 2 0 1 0 -4 0M578.5 348.2a2 2 0 1 0 4 0a2 2 0 1 0 -4 0M480.2 359.5a2 2 0 1 0 4 0a2 2 0 1 0 -4 0M542.5 355.4a2 2 0 1 0 4 0a2 2 0 1 0 -4 0M461.2 356.6a2 2 0 1 0 4 0a2 2 0 1 0 -4 0M453.8 362.1a2 2 0 1 0 4 0a2 2 0 1 0 -4 0M453.8 360.2a2 2 0 1 0 4 0a2 2 0 1 0 -4 0M471.8 363.8a2 2 0 1 0 4 0a2 2 0 1 0 -4 0M444.9 357.9a2 2 0 1 0 4 0a2 2 0 1 0 -4 0M495.8 354.5a2 2 0 1 0 4 0a2 2 0 1 0 -4 0M541.9 354.4a2 2 0 1 0 4 0a2 2 0 1 0 -4 0M487.9 360.9a2 2 0 1 0 4 0a2 2 0 1 0 -4 0M573.3 343.5a2 2 0 1 0 4 0a2 2 0 1 0 -4 0M563 350.8a2 2 0 1 0 4 0a2 2 0 1 0 -4 0M529.3 351.3a2 2 0 1 0 4 0a2 2 0 1 0 -4 0M452.6 359.7a2 2 0 1 0 4 0a2 2 0 1 0 -4 0M478.8 353.6a2 2 0 1 0 4 0a2 2 0 1 0 -4 0M583.5 342.5a2 2 0 1 0 4 0a2 2 0 1 0 -4 0M538 355a2 2 0 1 0 4 0a2 2 0 1 0 -4 0M505 359.8a2 2 0 1 0 4 0a2 2 0 1 0 -4 0M459.1 362.6a2 2 0 1 0 4 0a2 2 0 1 0 -4 0M522.2 354.7a2 2 0 1 0 4 0a2 2 0 1 0 -4 0M546.3 351.3a2 2 0 1 0 4 0a2 2 0 1 0 -4 0M450 355.4a2 2 0 1 0 4 0a2 2 0 1 0 -4 0M455.9 355.1a2 2 0 1 0 4 0a2 2 0 1 0 -4 0M522.3 350.6a2 2 0 1 0 4 0a2 2 0 1 0 -4 0M501.9 354.2a2 2 0 1 0 4 0a2 2 0 1 0 -4 0M555.8 350.7a2 2 0 1 0 4 0a2 2 0 1 0 -4 0M494.3 360.7a2 2 0 1 0 4 0a2 2 0 1 0 -4 0M441.3 364.5a2 2 0 1 0 4 0a2 2 0 1 0 -4 0M443.6 361.9a2 2 0 1 0 4 0a2 2 0 1 0 -4 0M521.7 357a2 2 0 1 0 4 0a2 2 0 1 0 -4 0M478.5 363a2 2 0 1 0 4 0a2 2 0 1 0 -4 0M508.4 351.7a2 2 0 1 0 4 0a2 2 0 1 0 -4 0M539.9 349.5a2 2 0 1 0 4 0a2 2 0 1 0 -4 0M505.2 355.2a2 2 0 1 0 4 0a2 2 0 1 0 -4 0M472.8 357.8a2 2 0 1 0 4 0a2 2 0 1 0 -4 0M515.9 351.8a2 2 0 1 0 4 0a2 2 0 1 0 -4 0M464.8 364.6a2 2 0 1 0 4 0a2 2 0 1 0 -4 0M564.6 349.4a2 2 0 1 0 4 0a2 2 0 1 0 -4 0M476.9 360.6a2 2 0 1 0 4 0a2 2 0 1 0 -4 0M594.5 345.8a2 2 0 1 0 4 0a2 2 0 1 0 -4 0M460.3 360.9a2 2 0 1 0 4 0a2 2 0 1 0 -4 0"/>
<path fill="#ff0000" d="M546.2 355.9a2 2 0 1 0 4 0a2 2 0 1 0 -4 0M419.8 376.3a2 2 0 1 0 4 0a2 2 0 1 0 -4 0M475.7 367a2 2 0 1 0 4 0a2 2 0 1 0 -4 0M514.7 360.5a2 2 0 1 0 4 0a2 2 0 1 0 -4 0M409.2 374.6a2 2 0 1 0 4 0a2 2 0 1 0 -4 0M524.4 363.9a2 2 0 1 0 4 0a2 2 0 1 0 -4 0M534.6 358.2a2 2 0 1 0 4 0a2 2 0 1 0 -4 0M512.3 365.9a2 2 0 1 0 4 0a2 2 0 1 0 -4 0M442.1 369.8a2 2 0 1 0 4 0a2 2 0 1 0 -4 0M418.4 373.7a2 2 0 1 0 4 0a2 2 0 1 0 -4 0M545.3 357.5a2 2 0 1 0 4 0a2 2 0 1 0 -4 0M531.3 363.6a2 2 0 1 0 4 0a2 2 0 1 0 -4 0M466.6 369.7a2 2 0 1 0 4 0a2 2 0 1 0 -4 0M515.7 364.3a2 2 0 1 0 4 0a2 2 0 1 0 -4 0M486.9 368.5a2 2 0 1 0 4 0a2 2 0 1 0 -4 0M533.8 362.1a2 2 0 1 0 4 0a2 2 0 1 0 -4 0M442.5 373.5a2 2 0 1 0 4 0a2 2 0 1 0 -4 0M408.8 378.7a2 2 0 1 0 4 0a2 2 0 1 0 -4 0M474.9 367.6a2 2 0 1 0 4 0a2 2 0 1 0 -4 0M482.6 365.2a2 2 0 1 0 4 0a2 2 0 1 0 -4 0M442.5 374.8a2 2 0 1 0 4 0a2 2 0 1 0 -4 0M494.7 365.2a2 2 0 1 0 4 0a2 2 0 1 0 -4 0"/>
<path fill="#ff0000" d="M391.5 383.5a2 2 0 1 0 4 0a2 2 0 1 0 -4 0M430.6 371.4a2 2 0 1 0 4 0a2 2 0 1 0 -4 0M401.1 377.3a2 2 0 1 0 4 0a2 2 0 1 0 -4 0M430.5 372.8a2 2 0 1 0 4 0a2 2 0 1 0 -4 0M377.4 382.4a2 2 0 1 0 4 0a2 2 0 1 0 -4 0M374.5 384.7a2 2 0 1 0 4 0a2 2 0 1 0 -4 0M424.7 376.4a2 2 0 1 0 4 0a2 2 0 1 0 -4 0M373.2 384.7a2 2 0 1 0 4 0a2 2 0 1 0 -4 0M399 378.4a2 2 0 1 0 4 0a2 2 0 1 0 -4 0M407.2 377.1a2 2 0 1 0 4 0a2 2 0 1 0 -4 0M373 389.9a2 2 0 1 0 4 0a2 2 0 1 0 -4 0M416.7 379.8a2 2 0 1 0 4 0a2 2 0 1 0 -4 0M378.9 386.6a2 2 0 1 0 4 0a2 2 0 1 0 -4 0M422.5 379.6a2 2 0 1 0 4 0a2 2 0 1 0 -4 0M405.1 379.5a2 2 0 1 0 4 0a2 2 0 1 0 -4 0M420.8 376.7a2 2 0 1 0 4 0a2 2 0 1 0 -4 0M423.5 377.5a2 2 0 1 0 4 0a2 2 0 1 0 -4 0M416.8 377.5a2 2 0 1 0 4 0a2 2 0 1 0 -4 0M423.5 377.6a2 2 0 1 0 4 0a2 2 0 1 0 -4 0M395.8 378.7a2 2 0 1 0 4 0a2 2 0 1 0 -4 0M377.2 387.8a2 2 0 1 0 4 0a2 2 0 1 0 -4 0M421.9 378.4a2 2 0 1 0 4 0a2 2 0 1 0 -4 0M380.7 387.1a2 2 0 1 0 4 0a2 2 0 1 0 -4 0M387.1 380a2 2 0 1 0 4 0a2 2 0 1 0 -4 0M406.4 377.3a2 2 0 1 0 4 0a2 2 0 1 0 -4 0"/>
<path fill="#ff0000" d="M348.5 390.1a2 2 0 1 0 4 0a2 2 0 1 0 -4 0M287.6 403.9a2 2 0 1 0 4 0a2 2 0 1 0 -4 0M327.3 396.3a2 2 0 1 0 4 0a2 2 0 1 0 -4 0M311.6 399.8a2 2 0 1 0 4 0a2 2 0 1 0 -4 0M333.4 395.2a2 2 0 1 0 4 0a2 2 0 1 0 -4 0M349.8 387.5a2 2 0 1 0 4 0a2 2 0 1 0 -4 0M407 378.3a2 2 0 1 0 4 0a2 2 0 1 0 -4 0M289.6 398.4a2 2 0 1 0 4 0a2 2 0 1 0 -4 0M438.4 374a2 2 0 1 0 4 0a2 2 0 1 0 -4 0M398.1 381.6a2 2 0 1 0 4 0a2 2 0 1 0 -4 0M301.9 396.3a2 2 0 1 0 4 0a2 2 0 1 0 -4 0M262.6 411.2a2 2 0 1 0 4 0a2 2 0 1 0 -4 0M315.7 393.6a2 2 0 1 0 4 0a2 2 0 1 0 -4 0M367.4 389.8a2 2 0 1 0 4 0a2 2 0 1 0 -4 0M412.6 381.1a2 2 0 1 0 4 0a2 2 0 1 0 -4 0M351.4 393.9a2 2 0 1 0 4 0a2 2 0 1 0 -4 0M341.8 390.4a2 2 0 1 0 4 0a2 2 0 1 0 -4 0M441.2 373.7a2 2 0 1 0 4 0a2 2 0 1 0 -4 0M281.7 401.7a2 2 0 1 0 4 0a2 2 0 1 0 -4 0M262.2 409.6a2 2 0 1 0 4 0a2 2 0 1 0 -4 0M378.1 383.5a2 2 0 1 0 4 0a2 2 0 1 0 -4 0M347.8 392.2a2 2 0 1 0 4 0a2 2 0 1 0 -4 0M296 398.6a2 2 0 1 0 4 0a2 2 0 1 0 -4 0M268.4 409.7a2 2 0 1 0 4 0a2 2 0 1 0 -4 0M390.3 386.1a2 2 0 1 0 4 0a2 2 0 1 0 -4 0M353.1 388.9a2 2 0 1 0 4 0a2 2 0 1 0 -4 0M332.3 394.4a2 2 0 1 0 4 0a2 2 0 1 0 -4 0M343 393.3a2 2 0 1 0 4 0a2 2 0 1 0 -4 0M418.7 376a2 2 0 1 0 4 0a2 2 0 1 0 -4 0M369.2 386.6a2 2 0 1 0 4 0a2 2 0 1 0 -4 0M272.3 409.2a2 2 0 1 0 4 0a2 2 0 1 0 -4 0M256.7 411.4a2 2 0 1 0 4 0a2 2 0 1 0 -4 0M321.1 395.1a2 2 0 1 0 4 0a2 2 0 1 0 -4 0M362.1 386a2 2 0 1 0 4 0a2 2 0 1 0 -4 0M265.8 409.9a2 2 0 1 0 4 0a2 2 0 1 0 -4 0M359.3 388a2 2 0 1 0 4 0a2 2 0 1 0 -4 0M431.1 377.1a2 2 0 1 0 4 0a2 2 0 1 0 -4 0M377.7 384.5a2 2 0 1 0 4 0a2 2 0 1 0 -4 0M388.2 383.1a2 2 0 1 0 4 0a2 2 0 1 0 -4 0M348.4 389.5a2 2 0 1 0 4 0a2 2 0 1 0 -4 0M422.9 376.6a2 2 0 1 0 4 0a2 2 0 1 0 -4 0M419.9 381.5a2 2 0 1 0 4 0a2 2 0 1 0 -4 0M360.8 387.2a2 2 0 1 0 4 0a2 2 0 1 0 -4 0M280.3 406.6a2 2 0 1 0 4 0a2 2 0 1 0 -4 0M388.7 386.9a2 2 0 1 0 4 0a2 2 0 1 0 -4 0M369 390.5a2 2 0 1 0 4 0a2 2 0 1 0 -4 0M371.6 385.6a2 2 0 1 0 4 0a2 2 0 1 0 -4 0M344.3 389.4a2 2 0 1 0 4 0a2 2 0 1 0 -4 0M296.3 398.4a2 2 0 1 0 4 0a2 2 0 1 0 -4 0M410.4 382.1a2 2 0 1 0 4 0a2 2 0 1 0 -4 0M349.7 390.7a2 2 0 1 0 4 0a2 2 0 1 0 -4 0M289.5 399.6a2 2 0 1 0 4 0a2 2 0 1 0 -4 0M289 401.7a2 2 0 1 0 4 0a2 2 0 1 0 -4 0M349.1 391.6a2 2 0 1 0 4 0a2 2 0 1 0 -4 0M414.8 380.3a2 2 0 1 0 4 0a2 2 0 1 0 -4 0"/>
<path fill="#000000" d="M127.3 407.5a1.2 1.2 0 1 0 2.4 0a1.2 1.2 0 1 0 -2.4 0M102.7 415.7a1.2 1.2 0 1 0 2.4 0a1.2 1.2 0 1 0 -2.4 0M90 430.6a1.2 1.2 0 1 0 2.4 0a1.2 1.2 0 1 0 -2.4 0M144.2 434.8a1.2 1.2 0 1 0 2.4 0a1.2 1.2 0 1 0 -2.4 0M105.1 427.1a1.2 1.2 0 1 0 2.4 0a1.2 1.2 0 1 0 -2.4 0M113.5 436.3a1.2 1.2 0 1 0 2.4 0a1.2 1.2 0 1 0 -2.4 0M147.8 424.7a1.2 1.2 0 1 0 2.4 0a1.2 1.2 0 1 0 -2.4 0M91.2 412.9a1.2 1.2 0 1 0 2.4 0a1.2 1.2 0 1 0 -2.4 0M75.9 412.5a1.2 1.2 0 1 0 2.4 0a1.2 1.2 0 1 0 -2.4 0M129.4 409.3a1.2 1.2 0 1 0 2.4 0a1.2 1.2 0 1 0 -2.4 0"/>
<path fill="#000000" d="M166.1 411.2a1.5 1.5 0 1 0 3 0a1.5 1.5 0 1 0 -3 0M233.6 417.5a1.5 1.5 0 1 0 3 0a1.5 1.5 0 1 0 -3 0M159 405a1.5 1.5 0 1 0 3 0a1.5 1.5 0 1 0 -3 0M170.3 427.1a1.5 1.5 0 1 0 3 0a1.5 1.5 0 1 0 -3 0M188.2 405.7a1.5 1.5 0 1 0 3 0a1.5 1.5 0 1 0 -3 0M231.9 397.2a1.5 1.5 0 1 0 3 0a1.5 1.5 0 1 0 -3 0M191.1 436.9a1.5 1.5 0 1 0 3 0a1.5 1.5 0 1 0 -3 0M177.6 411.3a1.5 1.5 0 1 0 3 0a1.5 1.5 0 1 0 -3 0M210.1 399.4a1.5 1.5 0 1 0 3 0a1.5 1.5 0 1 0 -3 0M208.3 404.4a1.5 1.5 0 1 0 3 0a1.5 1.5 0 1 0 -3 0M227.5 412.3a1.5 1.5 0 1 0 3 0a1.5 1.5 0 1 0 -3 0M217.5 413.2a1.5 1.5 0 1 0 3 0a1.5 1.5 0 1 0 -3 0"/>
<path fill="#000000" d="M158.1 393a1.9 1.9 0 1 0 3.8 0a1.9 1.9 0 1 0 -3.8 0M160.1 395a1.9 1.9 0 1 0 3.8 0a1.9 1.9 0 1 0 -3.8 0M163.1 404a1.9 1.9 0 1 0 3.8 0a1.9 1.9 0 1 0 -3.8 0M169.1 403a1.9 1.9 0 1 0 3.8 0a1.9 1.9 0 1 0 -3.8 0M174.1 426a1.9 1.9 0 1 0 3.8 0a1.9 1.9 0 1 0 -3.8 0M179.1 425a1.9 1.9 0 1 0 3.8 0a1.9 1.9 0 1 0 -3.8 0M184.1 418a1.9 1.9 0 1 0 3.8 0a1.9 1.9 0 1 0 -3.8 0M194.1 431a1.9 1.9 0 1 0 3.8 0a1.9 1.9 0 1 0 -3.8 0M195.1 436a1.9 1.9 0 1 0 3.8 0a1.9 1.9 0 1 0 -3.8 0M243.1 433a1.9 1.9 0 1 0 3.8 0a1.9 1.9 0 1 0 -3.8 0M247.1 430a1.9 1.9 0 1 0 3.8 0a1.9 1.9 0 1 0 -3.8 0"/>
<circle cx="200" cy="432" r="1.7" fill="#ffffff"/>
<circle cx="205" cy="436" r="1.7" fill="#ffffff"/>
<circle cx="212" cy="430" r="1.7" fill="#ffffff"/>
<circle cx="220" cy="434" r="1.7" fill="#ffffff"/>
<circle cx="226" cy="428" r="1.7" fill="#ffffff"/>
<circle cx="231" cy="435" r="1.7" fill="#ffffff"/>
<circle cx="222" cy="438" r="1.7" fill="#ffffff"/>
<circle cx="208" cy="426" r="1.7" fill="#ffffff"/>
<circle cx="233" cy="425" r="1.7" fill="#ffffff"/>
<circle cx="215" cy="421" r="1.7" fill="#ffffff"/>
<circle cx="238" cy="432" r="1.7" fill="#ffffff"/>
<circle cx="241" cy="437" r="1.7" fill="#ffffff"/>
<circle cx="236" cy="426" r="1.7" fill="#ffffff"/>
<circle cx="198" cy="437.5" r="1.7" fill="#ffffff"/>
<circle cx="217" cy="438" r="1.7" fill="#ffffff"/>
<circle cx="228" cy="437.5" r="1.7" fill="#ffffff"/>
<circle cx="196" cy="427" r="1.7" fill="#ffffff"/>
<circle cx="240" cy="428" r="1.7" fill="#ffffff"/>
<path fill="#000000" d="M562.5 349.2a2 2 0 1 0 4 0a2 2 0 1 0 -4 0M574.4 348.8a2 2 0 1 0 4 0a2 2 0 1 0 -4 0M579.8 346.6a2 2 0 1 0 4 0a2 2 0 1 0 -4 0M583 345.5a2 2 0 1 0 4 0a2 2 0 1 0 -4 0M592.8 350.5a2 2 0 1 0 4 0a2 2 0 1 0 -4 0M597.1 346.6a2 2 0 1 0 4 0a2 2 0 1 0 -4 0M599.3 342.3a2 2 0 1 0 4 0a2 2 0 1 0 -4 0M604.7 341.2a2 2 0 1 0 4 0a2 2 0 1 0 -4 0M618.7 339a2 2 0 1 0 4 0a2 2 0 1 0 -4 0M620.9 336.9a2 2 0 1 0 4 0a2 2 0 1 0 -4 0M631.7 336.9a2 2 0 1 0 4 0a2 2 0 1 0 -4 0M636 330.4a2 2 0 1 0 4 0a2 2 0 1 0 -4 0M638.1 332.6a2 2 0 1 0 4 0a2 2 0 1 0 -4 0M643.5 334.7a2 2 0 1 0 4 0a2 2 0 1 0 -4 0M568 352a2 2 0 1 0 4 0a2 2 0 1 0 -4 0M573 351a2 2 0 1 0 4 0a2 2 0 1 0 -4 0M586 349a2 2 0 1 0 4 0a2 2 0 1 0 -4 0M588 352a2 2 0 1 0 4 0a2 2 0 1 0 -4 0M594 348a2 2 0 1 0 4 0a2 2 0 1 0 -4 0M601 344a2 2 0 1 0 4 0a2 2 0 1 0 -4 0M609 342a2 2 0 1 0 4 0a2 2 0 1 0 -4 0M577 350a2 2 0 1 0 4 0a2 2 0 1 0 -4 0M582 347a2 2 0 1 0 4 0a2 2 0 1 0 -4 0M590 348a2 2 0 1 0 4 0a2 2 0 1 0 -4 0M565 355a2 2 0 1 0 4 0a2 2 0 1 0 -4 0M571 355a2 2 0 1 0 4 0a2 2 0 1 0 -4 0"/>
<path fill="#ff0000" d="M559.7 340.8a2 2 0 1 0 4 0a2 2 0 1 0 -4 0M569 348.3a2 2 0 1 0 4 0a2 2 0 1 0 -4 0M578.7 344.4a2 2 0 1 0 4 0a2 2 0 1 0 -4 0M586.7 341.8a2 2 0 1 0 4 0a2 2 0 1 0 -4 0M587.4 347.7a2 2 0 1 0 4 0a2 2 0 1 0 -4 0M592.1 340.5a2 2 0 1 0 4 0a2 2 0 1 0 -4 0M583.7 357.4a2 2 0 1 0 4 0a2 2 0 1 0 -4 0M603.6 357.4a2 2 0 1 0 4 0a2 2 0 1 0 -4 0M606.8 352.6a2 2 0 1 0 4 0a2 2 0 1 0 -4 0M607.5 340.1a2 2 0 1 0 4 0a2 2 0 1 0 -4 0M612.6 341.6a2 2 0 1 0 4 0a2 2 0 1 0 -4 0M624.1 342.7a2 2 0 1 0 4 0a2 2 0 1 0 -4 0M630.6 334.7a2 2 0 1 0 4 0a2 2 0 1 0 -4 0M630.1 339.5a2 2 0 1 0 4 0a2 2 0 1 0 -4 0M638.6 344a2 2 0 1 0 4 0a2 2 0 1 0 -4 0M652.2 341.8a2 2 0 1 0 4 0a2 2 0 1 0 -4 0M656.5 330.4a2 2 0 1 0 4 0a2 2 0 1 0 -4 0"/>
<path fill="#000000" d="M97 375.1a2.1 2.1 0 1 0 4.2 0a2.1 2.1 0 1 0 -4.2 0M105 375.1a2.1 2.1 0 1 0 4.2 0a2.1 2.1 0 1 0 -4.2 0M101.3 383.3a2.1 2.1 0 1 0 4.2 0a2.1 2.1 0 1 0 -4.2 0M101.3 386.1a2.1 2.1 0 1 0 4.2 0a2.1 2.1 0 1 0 -4.2 0"/>
<path fill="#ff0000" d="M93.2 388.9a2 2 0 1 0 4 0a2 2 0 1 0 -4 0M96.5 392.6a2 2 0 1 0 4 0a2 2 0 1 0 -4 0M117.6 378.6a2 2 0 1 0 4 0a2 2 0 1 0 -4 0M122.4 376.8a2 2 0 1 0 4 0a2 2 0 1 0 -4 0M133.2 376.8a2 2 0 1 0 4 0a2 2 0 1 0 -4 0M73.4 401.7a2 2 0 1 0 4 0a2 2 0 1 0 -4 0M275.2 418.9a2 2 0 1 0 4 0a2 2 0 1 0 -4 0M295.7 420.7a2 2 0 1 0 4 0a2 2 0 1 0 -4 0M319.5 420a2 2 0 1 0 4 0a2 2 0 1 0 -4 0M324.5 421.5a2 2 0 1 0 4 0a2 2 0 1 0 -4 0M340 420a2 2 0 1 0 4 0a2 2 0 1 0 -4 0M359.4 420.7a2 2 0 1 0 4 0a2 2 0 1 0 -4 0M359.4 402.3a2 2 0 1 0 4 0a2 2 0 1 0 -4 0M255.8 424.8a2 2 0 1 0 4 0a2 2 0 1 0 -4 0M395.2 396.3a2 2 0 1 0 4 0a2 2 0 1 0 -4 0M395.2 402.3a2 2 0 1 0 4 0a2 2 0 1 0 -4 0M402.8 418.5a2 2 0 1 0 4 0a2 2 0 1 0 -4 0M289 367a2 2 0 1 0 4 0a2 2 0 1 0 -4 0M248 370a2 2 0 1 0 4 0a2 2 0 1 0 -4 0M318 362a2 2 0 1 0 4 0a2 2 0 1 0 -4 0"/>
<polygon fill="#000000" points="347.9,548.1 344,555.8 349.9,556.4 371.6,553 371.7,553 393.7,550.8 414.7,548.7 436.7,546.5 457.5,543.3 479.4,538 479.7,537.9 501.7,535.7 526.7,532.5 526.7,532.5 548.5,530.3 569.4,525 569.4,525 591.4,519.6 612.2,514.2 628.8,507.9 638.5,501.9 639.2,501.4 637.6,501.2 631.4,505.2 631.2,505.3 630.9,505.4 630.6,505.5 592.6,514.5 592.4,514.6 549.4,521.6 549.2,521.6 502.2,525.6 458.3,529.6 372.6,539.5"/>
<path fill="#000000" d="M343.7 549.1a2 2 0 1 0 4 0a2 2 0 1 0 -4 0M342.5 551.7a2 2 0 1 0 4 0a2 2 0 1 0 -4 0M342.2 553.6a2 2 0 1 0 4 0a2 2 0 1 0 -4 0M340.7 555.6a2 2 0 1 0 4 0a2 2 0 1 0 -4 0M342 556.6a2 2 0 1 0 4 0a2 2 0 1 0 -4 0M347.7 557.2a2 2 0 1 0 4 0a2 2 0 1 0 -4 0M352.6 557.4a2 2 0 1 0 4 0a2 2 0 1 0 -4 0M357 555.9a2 2 0 1 0 4 0a2 2 0 1 0 -4 0M358.7 556.3a2 2 0 1 0 4 0a2 2 0 1 0 -4 0M363.3 554.3a2 2 0 1 0 4 0a2 2 0 1 0 -4 0M366 554.2a2 2 0 1 0 4 0a2 2 0 1 0 -4 0M370 553.6a2 2 0 1 0 4 0a2 2 0 1 0 -4 0M372.3 553a2 2 0 1 0 4 0a2 2 0 1 0 -4 0M375.9 553a2 2 0 1 0 4 0a2 2 0 1 0 -4 0M378.8 552.5a2 2 0 1 0 4 0a2 2 0 1 0 -4 0M380.2 553a2 2 0 1 0 4 0a2 2 0 1 0 -4 0M383.3 553a2 2 0 1 0 4 0a2 2 0 1 0 -4 0M385.2 551.8a2 2 0 1 0 4 0a2 2 0 1 0 -4 0M387.4 551.7a2 2 0 1 0 4 0a2 2 0 1 0 -4 0M392.3 551.8a2 2 0 1 0 4 0a2 2 0 1 0 -4 0M398.5 551.3a2 2 0 1 0 4 0a2 2 0 1 0 -4 0M400.7 551.3a2 2 0 1 0 4 0a2 2 0 1 0 -4 0M405.5 551.1a2 2 0 1 0 4 0a2 2 0 1 0 -4 0M407.6 551a2 2 0 1 0 4 0a2 2 0 1 0 -4 0M408.6 549.6a2 2 0 1 0 4 0a2 2 0 1 0 -4 0M410.7 549.3a2 2 0 1 0 4 0a2 2 0 1 0 -4 0M415.9 549.2a2 2 0 1 0 4 0a2 2 0 1 0 -4 0M420 548.4a2 2 0 1 0 4 0a2 2 0 1 0 -4 0M422.8 548.5a2 2 0 1 0 4 0a2 2 0 1 0 -4 0M425.1 548.2a2 2 0 1 0 4 0a2 2 0 1 0 -4 0M426.1 548.1a2 2 0 1 0 4 0a2 2 0 1 0 -4 0M436.9 546.4a2 2 0 1 0 4 0a2 2 0 1 0 -4 0M441.7 546.7a2 2 0 1 0 4 0a2 2 0 1 0 -4 0M444.3 545.9a2 2 0 1 0 4 0a2 2 0 1 0 -4 0M446.7 545.2a2 2 0 1 0 4 0a2 2 0 1 0 -4 0M452.7 544.2a2 2 0 1 0 4 0a2 2 0 1 0 -4 0M455.3 544.1a2 2 0 1 0 4 0a2 2 0 1 0 -4 0M456.9 543.5a2 2 0 1 0 4 0a2 2 0 1 0 -4 0M459.7 543.2a2 2 0 1 0 4 0a2 2 0 1 0 -4 0M462 542.3a2 2 0 1 0 4 0a2 2 0 1 0 -4 0M463 542.4a2 2 0 1 0 4 0a2 2 0 1 0 -4 0M468.5 541.6a2 2 0 1 0 4 0a2 2 0 1 0 -4 0M472 539.5a2 2 0 1 0 4 0a2 2 0 1 0 -4 0M474.8 539.3a2 2 0 1 0 4 0a2 2 0 1 0 -4 0M482.8 538.8a2 2 0 1 0 4 0a2 2 0 1 0 -4 0M484.7 537.3a2 2 0 1 0 4 0a2 2 0 1 0 -4 0M487.4 537.4a2 2 0 1 0 4 0a2 2 0 1 0 -4 0M489.7 537.1a2 2 0 1 0 4 0a2 2 0 1 0 -4 0M495.5 537.1a2 2 0 1 0 4 0a2 2 0 1 0 -4 0M497.6 537.1a2 2 0 1 0 4 0a2 2 0 1 0 -4 0M500.1 536.1a2 2 0 1 0 4 0a2 2 0 1 0 -4 0M507.1 535.2a2 2 0 1 0 4 0a2 2 0 1 0 -4 0M509.3 535.1a2 2 0 1 0 4 0a2 2 0 1 0 -4 0M511.4 534.4a2 2 0 1 0 4 0a2 2 0 1 0 -4 0M513.4 534.3a2 2 0 1 0 4 0a2 2 0 1 0 -4 0M515.9 534.8a2 2 0 1 0 4 0a2 2 0 1 0 -4 0M520.5 533.4a2 2 0 1 0 4 0a2 2 0 1 0 -4 0M527.2 533.3a2 2 0 1 0 4 0a2 2 0 1 0 -4 0M528.3 533a2 2 0 1 0 4 0a2 2 0 1 0 -4 0M538.3 531.9a2 2 0 1 0 4 0a2 2 0 1 0 -4 0M539.7 532a2 2 0 1 0 4 0a2 2 0 1 0 -4 0M543.4 531.8a2 2 0 1 0 4 0a2 2 0 1 0 -4 0M546.9 531.4a2 2 0 1 0 4 0a2 2 0 1 0 -4 0M548.5 531.2a2 2 0 1 0 4 0a2 2 0 1 0 -4 0M551.3 529.5a2 2 0 1 0 4 0a2 2 0 1 0 -4 0M552.9 529.9a2 2 0 1 0 4 0a2 2 0 1 0 -4 0M555.6 528.6a2 2 0 1 0 4 0a2 2 0 1 0 -4 0M557.1 528.3a2 2 0 1 0 4 0a2 2 0 1 0 -4 0M559 528.6a2 2 0 1 0 4 0a2 2 0 1 0 -4 0M561.6 527.6a2 2 0 1 0 4 0a2 2 0 1 0 -4 0M564.1 526.5a2 2 0 1 0 4 0a2 2 0 1 0 -4 0M565 526.7a2 2 0 1 0 4 0a2 2 0 1 0 -4 0M569.2 525.5a2 2 0 1 0 4 0a2 2 0 1 0 -4 0M572 525a2 2 0 1 0 4 0a2 2 0 1 0 -4 0M573.4 524.8a2 2 0 1 0 4 0a2 2 0 1 0 -4 0M577.9 523.1a2 2 0 1 0 4 0a2 2 0 1 0 -4 0M583.4 521.5a2 2 0 1 0 4 0a2 2 0 1 0 -4 0M587.1 521.9a2 2 0 1 0 4 0a2 2 0 1 0 -4 0M594 520.1a2 2 0 1 0 4 0a2 2 0 1 0 -4 0M595.9 519.6a2 2 0 1 0 4 0a2 2 0 1 0 -4 0M597.4 518.8a2 2 0 1 0 4 0a2 2 0 1 0 -4 0M600.4 517.7a2 2 0 1 0 4 0a2 2 0 1 0 -4 0M601.3 516.9a2 2 0 1 0 4 0a2 2 0 1 0 -4 0M606.7 516.7a2 2 0 1 0 4 0a2 2 0 1 0 -4 0M607.9 514.9a2 2 0 1 0 4 0a2 2 0 1 0 -4 0M610.9 515.8a2 2 0 1 0 4 0a2 2 0 1 0 -4 0M615.2 513.5a2 2 0 1 0 4 0a2 2 0 1 0 -4 0M617.2 513.3a2 2 0 1 0 4 0a2 2 0 1 0 -4 0M620 510.7a2 2 0 1 0 4 0a2 2 0 1 0 -4 0M622.2 510.5a2 2 0 1 0 4 0a2 2 0 1 0 -4 0M624.3 510.2a2 2 0 1 0 4 0a2 2 0 1 0 -4 0M626 508a2 2 0 1 0 4 0a2 2 0 1 0 -4 0M628 507.8a2 2 0 1 0 4 0a2 2 0 1 0 -4 0M630.5 506.8a2 2 0 1 0 4 0a2 2 0 1 0 -4 0M632 506a2 2 0 1 0 4 0a2 2 0 1 0 -4 0M637.1 500.3a2 2 0 1 0 4 0a2 2 0 1 0 -4 0M632.7 501.7a2 2 0 1 0 4 0a2 2 0 1 0 -4 0M632 502.7a2 2 0 1 0 4 0a2 2 0 1 0 -4 0M629.2 504.7a2 2 0 1 0 4 0a2 2 0 1 0 -4 0M627.4 505.1a2 2 0 1 0 4 0a2 2 0 1 0 -4 0M623.3 506.6a2 2 0 1 0 4 0a2 2 0 1 0 -4 0M618.5 507.2a2 2 0 1 0 4 0a2 2 0 1 0 -4 0M610.6 508.7a2 2 0 1 0 4 0a2 2 0 1 0 -4 0M607.5 509.5a2 2 0 1 0 4 0a2 2 0 1 0 -4 0M605.6 509.6a2 2 0 1 0 4 0a2 2 0 1 0 -4 0M603.7 511.2a2 2 0 1 0 4 0a2 2 0 1 0 -4 0M601.7 510.8a2 2 0 1 0 4 0a2 2 0 1 0 -4 0M600 511.5a2 2 0 1 0 4 0a2 2 0 1 0 -4 0M597.1 511.5a2 2 0 1 0 4 0a2 2 0 1 0 -4 0M594.6 512.2a2 2 0 1 0 4 0a2 2 0 1 0 -4 0M593 513.1a2 2 0 1 0 4 0a2 2 0 1 0 -4 0M591.4 513.4a2 2 0 1 0 4 0a2 2 0 1 0 -4 0M588.7 514.4a2 2 0 1 0 4 0a2 2 0 1 0 -4 0M584.5 514.2a2 2 0 1 0 4 0a2 2 0 1 0 -4 0M579.7 514.6a2 2 0 1 0 4 0a2 2 0 1 0 -4 0M575.4 516.7a2 2 0 1 0 4 0a2 2 0 1 0 -4 0M573.4 516.3a2 2 0 1 0 4 0a2 2 0 1 0 -4 0M564.2 517.4a2 2 0 1 0 4 0a2 2 0 1 0 -4 0M562.4 518.4a2 2 0 1 0 4 0a2 2 0 1 0 -4 0M558 519.5a2 2 0 1 0 4 0a2 2 0 1 0 -4 0M556 518.5a2 2 0 1 0 4 0a2 2 0 1 0 -4 0M553.6 519.8a2 2 0 1 0 4 0a2 2 0 1 0 -4 0M551.9 520.4a2 2 0 1 0 4 0a2 2 0 1 0 -4 0M549.4 520.1a2 2 0 1 0 4 0a2 2 0 1 0 -4 0M547.9 520.9a2 2 0 1 0 4 0a2 2 0 1 0 -4 0M545.1 521.1a2 2 0 1 0 4 0a2 2 0 1 0 -4 0M543.8 521.1a2 2 0 1 0 4 0a2 2 0 1 0 -4 0M541.2 521.2a2 2 0 1 0 4 0a2 2 0 1 0 -4 0M539 521.6a2 2 0 1 0 4 0a2 2 0 1 0 -4 0M534.4 522.5a2 2 0 1 0 4 0a2 2 0 1 0 -4 0M529.7 521.6a2 2 0 1 0 4 0a2 2 0 1 0 -4 0M527.7 522.2a2 2 0 1 0 4 0a2 2 0 1 0 -4 0M525.6 522.6a2 2 0 1 0 4 0a2 2 0 1 0 -4 0M523.6 523.1a2 2 0 1 0 4 0a2 2 0 1 0 -4 0M520.8 522.2a2 2 0 1 0 4 0a2 2 0 1 0 -4 0M519.3 522.9a2 2 0 1 0 4 0a2 2 0 1 0 -4 0M517 522.5a2 2 0 1 0 4 0a2 2 0 1 0 -4 0M514.6 524.1a2 2 0 1 0 4 0a2 2 0 1 0 -4 0M509.9 523.2a2 2 0 1 0 4 0a2 2 0 1 0 -4 0M508.5 523.9a2 2 0 1 0 4 0a2 2 0 1 0 -4 0M505.5 524.5a2 2 0 1 0 4 0a2 2 0 1 0 -4 0M502.1 524.4a2 2 0 1 0 4 0a2 2 0 1 0 -4 0M498.8 525.4a2 2 0 1 0 4 0a2 2 0 1 0 -4 0M494.5 525a2 2 0 1 0 4 0a2 2 0 1 0 -4 0M491.9 526a2 2 0 1 0 4 0a2 2 0 1 0 -4 0M490.1 524.8a2 2 0 1 0 4 0a2 2 0 1 0 -4 0M489 526.1a2 2 0 1 0 4 0a2 2 0 1 0 -4 0M479.2 526.7a2 2 0 1 0 4 0a2 2 0 1 0 -4 0M476.9 526.1a2 2 0 1 0 4 0a2 2 0 1 0 -4 0M470.7 528a2 2 0 1 0 4 0a2 2 0 1 0 -4 0M468.8 527.1a2 2 0 1 0 4 0a2 2 0 1 0 -4 0M459.8 528.1a2 2 0 1 0 4 0a2 2 0 1 0 -4 0M458.3 529.3a2 2 0 1 0 4 0a2 2 0 1 0 -4 0M451.3 529.9a2 2 0 1 0 4 0a2 2 0 1 0 -4 0M449.5 530a2 2 0 1 0 4 0a2 2 0 1 0 -4 0M446.5 530.1a2 2 0 1 0 4 0a2 2 0 1 0 -4 0M444.1 529.6a2 2 0 1 0 4 0a2 2 0 1 0 -4 0M443 531.1a2 2 0 1 0 4 0a2 2 0 1 0 -4 0M438.3 531.1a2 2 0 1 0 4 0a2 2 0 1 0 -4 0M435.8 530.5a2 2 0 1 0 4 0a2 2 0 1 0 -4 0M433.3 531.1a2 2 0 1 0 4 0a2 2 0 1 0 -4 0M428.8 532.4a2 2 0 1 0 4 0a2 2 0 1 0 -4 0M420.4 533.4a2 2 0 1 0 4 0a2 2 0 1 0 -4 0M416 533.5a2 2 0 1 0 4 0a2 2 0 1 0 -4 0M413.5 534a2 2 0 1 0 4 0a2 2 0 1 0 -4 0M409.6 534.2a2 2 0 1 0 4 0a2 2 0 1 0 -4 0M406.7 534.8a2 2 0 1 0 4 0a2 2 0 1 0 -4 0M403.4 535.4a2 2 0 1 0 4 0a2 2 0 1 0 -4 0M394.9 535.8a2 2 0 1 0 4 0a2 2 0 1 0 -4 0M387.8 536a2 2 0 1 0 4 0a2 2 0 1 0 -4 0M383.1 536.8a2 2 0 1 0 4 0a2 2 0 1 0 -4 0M378.6 538.1a2 2 0 1 0 4 0a2 2 0 1 0 -4 0M377.2 538.1a2 2 0 1 0 4 0a2 2 0 1 0 -4 0M373.1 538.8a2 2 0 1 0 4 0a2 2 0 1 0 -4 0M370.3 538.8a2 2 0 1 0 4 0a2 2 0 1 0 -4 0M367.8 539.9a2 2 0 1 0 4 0a2 2 0 1 0 -4 0M359.6 542.7a2 2 0 1 0 4 0a2 2 0 1 0 -4 0M358.4 543.5a2 2 0 1 0 4 0a2 2 0 1 0 -4 0M355.3 543.1a2 2 0 1 0 4 0a2 2 0 1 0 -4 0M351.3 544.5a2 2 0 1 0 4 0a2 2 0 1 0 -4 0M350 545.6a2 2 0 1 0 4 0a2 2 0 1 0 -4 0"/>
<polygon fill="#ff0000" points="70.1,564.5 70.1,570.4 71.8,574.1 80.2,575.4 94.1,575.7 94.1,575.7 110.1,576.2 110.3,576.2 110.6,576.3 110.8,576.3 111,576.4 111.2,576.5 117.2,579.7 117.4,579.8 117.6,580 117.8,580.2 118,580.4 118.2,580.6 121.8,586.1 127.9,589.8 148.2,591.8 170.1,592.9 184.9,592.9 199.4,591.8 207,588.6 207.2,588.5 216.2,585.5 216.4,585.5 224.4,583.5 238,580.1 238.2,580 238.5,580 238.7,580 260,581 279.8,579.4 279.9,579.4 298.4,578.9 304.8,575.7 305.1,575.6 313.1,572.6 322.9,568.6 331.3,564.3 338,556.3 338.2,556.2 343.9,550.5 347.7,542.8 347.8,542.6 348,542.4 348.1,542.2 348.3,542 348.5,541.9 348.8,541.7 349,541.6 349.2,541.5 349.5,541.5 359.5,539.5 359.7,539.4 371.7,537.9 371.8,537.9 382.7,536.9 393.7,535.7 404.7,534.4 404.8,534.4 414.8,533.5 425.7,532.4 425.8,532.4 436.7,531.4 447.6,529.9 457.5,528.1 457.8,528.1 468.8,527.4 468.9,527.4 479.9,527.1 490.7,526.4 501.6,524.9 501.9,524.9 514.9,524.4 526.8,523.8 537.6,522.4 548.6,520.6 548.6,520.6 559.6,518.9 559.6,518.9 569.6,517.4 569.6,517.4 580.6,515.9 591.5,514.1 602.5,512 612.5,509.9 612.7,509.8 623.7,508.4 634.6,506.9 645.5,504.9 645.9,504.9 656.5,504.4 661.1,502.7 656.8,502 646.1,502.4 635.2,503.1 624.3,504.1 613.3,505.3 613.1,505.3 603.1,505.8 592.2,506.4 581.2,507.4 570.3,508.5 560.3,509.6 560.3,509.6 549.3,510.7 536.4,512.6 523.5,515 523.4,515 512.4,516.6 502.4,518.2 502.2,518.2 491.3,519.1 480.3,520.4 480.2,520.4 469.2,521.1 469.1,521.1 458.2,521.5 448.3,522.6 448.2,522.6 437.2,523.6 437,523.6 415.1,523.6 405.3,524.6 394.3,525.8 394.3,525.8 381.3,527.1 381.2,527.1 368.3,527.9 358.4,529.6 358.4,529.6 347.4,531.2 347.1,531.2 346.7,531.2 325.1,529 314.5,531.1 303.5,533.2 303.3,533.3 293.3,534.6 293.2,534.6 282.3,535.5 260.4,538.7 260.2,538.7 250.2,539.6 250,539.6 239,539.8 222.7,544 222.6,544 212.6,546.2 212.3,546.3 202.3,547.6 202.2,547.6 191.3,548.5 181.4,550.1 181.4,550.1 170.4,551.7 170.1,551.7 160.1,552.1 148.1,552.6 140.4,553 138.2,556.4 138,556.6 137.9,556.8 137.7,557 137.5,557.1 137.3,557.3 137,557.4 136.8,557.5 136.6,557.5 136.3,557.6 136.1,557.6 120.1,558.1 120.1,558.1 100.1,558.6 83.1,559.1 71.8,560"/>
<path fill="#ff0000" d="M67.4 566.1a2 2 0 1 0 4 0a2 2 0 1 0 -4 0M67.3 569.5a2 2 0 1 0 4 0a2 2 0 1 0 -4 0M67.1 571.5a2 2 0 1 0 4 0a2 2 0 1 0 -4 0M68 573.1a2 2 0 1 0 4 0a2 2 0 1 0 -4 0M68.6 575.5a2 2 0 1 0 4 0a2 2 0 1 0 -4 0M71.8 574.8a2 2 0 1 0 4 0a2 2 0 1 0 -4 0M73 576.1a2 2 0 1 0 4 0a2 2 0 1 0 -4 0M75.5 575.7a2 2 0 1 0 4 0a2 2 0 1 0 -4 0M77.3 576.6a2 2 0 1 0 4 0a2 2 0 1 0 -4 0M79.4 576.2a2 2 0 1 0 4 0a2 2 0 1 0 -4 0M83 576.2a2 2 0 1 0 4 0a2 2 0 1 0 -4 0M85.2 576.8a2 2 0 1 0 4 0a2 2 0 1 0 -4 0M86.4 576a2 2 0 1 0 4 0a2 2 0 1 0 -4 0M88.8 576.8a2 2 0 1 0 4 0a2 2 0 1 0 -4 0M91 576.1a2 2 0 1 0 4 0a2 2 0 1 0 -4 0M92.9 576.9a2 2 0 1 0 4 0a2 2 0 1 0 -4 0M97.4 576.1a2 2 0 1 0 4 0a2 2 0 1 0 -4 0M100 577.3a2 2 0 1 0 4 0a2 2 0 1 0 -4 0M102.8 577.6a2 2 0 1 0 4 0a2 2 0 1 0 -4 0M104.3 577.3a2 2 0 1 0 4 0a2 2 0 1 0 -4 0M106.2 577.4a2 2 0 1 0 4 0a2 2 0 1 0 -4 0M108.5 577.3a2 2 0 1 0 4 0a2 2 0 1 0 -4 0M110.5 577.9a2 2 0 1 0 4 0a2 2 0 1 0 -4 0M112.5 579.6a2 2 0 1 0 4 0a2 2 0 1 0 -4 0M114.4 580.6a2 2 0 1 0 4 0a2 2 0 1 0 -4 0M116.7 581.4a2 2 0 1 0 4 0a2 2 0 1 0 -4 0M117.3 584a2 2 0 1 0 4 0a2 2 0 1 0 -4 0M118.2 585.2a2 2 0 1 0 4 0a2 2 0 1 0 -4 0M120.3 587.7a2 2 0 1 0 4 0a2 2 0 1 0 -4 0M121.8 588.2a2 2 0 1 0 4 0a2 2 0 1 0 -4 0M123.9 589.5a2 2 0 1 0 4 0a2 2 0 1 0 -4 0M131.3 591.8a2 2 0 1 0 4 0a2 2 0 1 0 -4 0M134.4 591a2 2 0 1 0 4 0a2 2 0 1 0 -4 0M137.9 592.5a2 2 0 1 0 4 0a2 2 0 1 0 -4 0M140.6 592.9a2 2 0 1 0 4 0a2 2 0 1 0 -4 0M145.4 592.4a2 2 0 1 0 4 0a2 2 0 1 0 -4 0M147 592.3a2 2 0 1 0 4 0a2 2 0 1 0 -4 0M149.1 592.4a2 2 0 1 0 4 0a2 2 0 1 0 -4 0M154 593.6a2 2 0 1 0 4 0a2 2 0 1 0 -4 0M155.5 593.9a2 2 0 1 0 4 0a2 2 0 1 0 -4 0M163.2 593.8a2 2 0 1 0 4 0a2 2 0 1 0 -4 0M164.7 594a2 2 0 1 0 4 0a2 2 0 1 0 -4 0M167.8 594.2a2 2 0 1 0 4 0a2 2 0 1 0 -4 0M174.3 593a2 2 0 1 0 4 0a2 2 0 1 0 -4 0M178.1 593.7a2 2 0 1 0 4 0a2 2 0 1 0 -4 0M180.5 594.3a2 2 0 1 0 4 0a2 2 0 1 0 -4 0M182.1 594.2a2 2 0 1 0 4 0a2 2 0 1 0 -4 0M183.9 593.4a2 2 0 1 0 4 0a2 2 0 1 0 -4 0M188.7 593.3a2 2 0 1 0 4 0a2 2 0 1 0 -4 0M195.9 592.1a2 2 0 1 0 4 0a2 2 0 1 0 -4 0M197.6 592.8a2 2 0 1 0 4 0a2 2 0 1 0 -4 0M199.1 592.3a2 2 0 1 0 4 0a2 2 0 1 0 -4 0M201.1 590.3a2 2 0 1 0 4 0a2 2 0 1 0 -4 0M203.5 590.2a2 2 0 1 0 4 0a2 2 0 1 0 -4 0M205.6 589.3a2 2 0 1 0 4 0a2 2 0 1 0 -4 0M208.1 587.9a2 2 0 1 0 4 0a2 2 0 1 0 -4 0M209.3 588.5a2 2 0 1 0 4 0a2 2 0 1 0 -4 0M212.3 586.6a2 2 0 1 0 4 0a2 2 0 1 0 -4 0M213.9 586.7a2 2 0 1 0 4 0a2 2 0 1 0 -4 0M222.9 584.1a2 2 0 1 0 4 0a2 2 0 1 0 -4 0M225 584.5a2 2 0 1 0 4 0a2 2 0 1 0 -4 0M227.5 582.9a2 2 0 1 0 4 0a2 2 0 1 0 -4 0M228.8 583a2 2 0 1 0 4 0a2 2 0 1 0 -4 0M231 582.1a2 2 0 1 0 4 0a2 2 0 1 0 -4 0M232.8 582.3a2 2 0 1 0 4 0a2 2 0 1 0 -4 0M235.4 581.4a2 2 0 1 0 4 0a2 2 0 1 0 -4 0M238.5 580.5a2 2 0 1 0 4 0a2 2 0 1 0 -4 0M242.3 581.3a2 2 0 1 0 4 0a2 2 0 1 0 -4 0M244.4 581.7a2 2 0 1 0 4 0a2 2 0 1 0 -4 0M250.4 581.4a2 2 0 1 0 4 0a2 2 0 1 0 -4 0M252.4 582.1a2 2 0 1 0 4 0a2 2 0 1 0 -4 0M255.5 581.4a2 2 0 1 0 4 0a2 2 0 1 0 -4 0M258.3 582.1a2 2 0 1 0 4 0a2 2 0 1 0 -4 0M262.1 582.2a2 2 0 1 0 4 0a2 2 0 1 0 -4 0M264 581a2 2 0 1 0 4 0a2 2 0 1 0 -4 0M266.2 581.9a2 2 0 1 0 4 0a2 2 0 1 0 -4 0M268.2 581.7a2 2 0 1 0 4 0a2 2 0 1 0 -4 0M272.7 581.1a2 2 0 1 0 4 0a2 2 0 1 0 -4 0M275.5 580.1a2 2 0 1 0 4 0a2 2 0 1 0 -4 0M280.2 580.8a2 2 0 1 0 4 0a2 2 0 1 0 -4 0M281.2 580.9a2 2 0 1 0 4 0a2 2 0 1 0 -4 0M286.6 580.2a2 2 0 1 0 4 0a2 2 0 1 0 -4 0M288.6 579.9a2 2 0 1 0 4 0a2 2 0 1 0 -4 0M291.1 580.3a2 2 0 1 0 4 0a2 2 0 1 0 -4 0M292.6 580.2a2 2 0 1 0 4 0a2 2 0 1 0 -4 0M294.5 579.9a2 2 0 1 0 4 0a2 2 0 1 0 -4 0M298.6 578.6a2 2 0 1 0 4 0a2 2 0 1 0 -4 0M305.2 575.2a2 2 0 1 0 4 0a2 2 0 1 0 -4 0M306.5 575a2 2 0 1 0 4 0a2 2 0 1 0 -4 0M313.9 573a2 2 0 1 0 4 0a2 2 0 1 0 -4 0M315.9 571.5a2 2 0 1 0 4 0a2 2 0 1 0 -4 0M320 570.3a2 2 0 1 0 4 0a2 2 0 1 0 -4 0M320.9 569.4a2 2 0 1 0 4 0a2 2 0 1 0 -4 0M326.1 567.5a2 2 0 1 0 4 0a2 2 0 1 0 -4 0M329.6 565.6a2 2 0 1 0 4 0a2 2 0 1 0 -4 0M332.2 562.8a2 2 0 1 0 4 0a2 2 0 1 0 -4 0M333.4 561.1a2 2 0 1 0 4 0a2 2 0 1 0 -4 0M335 558.1a2 2 0 1 0 4 0a2 2 0 1 0 -4 0M337.6 555.4a2 2 0 1 0 4 0a2 2 0 1 0 -4 0M340.1 554.5a2 2 0 1 0 4 0a2 2 0 1 0 -4 0M342.1 550.8a2 2 0 1 0 4 0a2 2 0 1 0 -4 0M344.3 546.4a2 2 0 1 0 4 0a2 2 0 1 0 -4 0M345.2 545.2a2 2 0 1 0 4 0a2 2 0 1 0 -4 0M347.2 543a2 2 0 1 0 4 0a2 2 0 1 0 -4 0M347.9 542.2a2 2 0 1 0 4 0a2 2 0 1 0 -4 0M350.7 541.1a2 2 0 1 0 4 0a2 2 0 1 0 -4 0M352.8 540.6a2 2 0 1 0 4 0a2 2 0 1 0 -4 0M355.5 541a2 2 0 1 0 4 0a2 2 0 1 0 -4 0M357.3 539.8a2 2 0 1 0 4 0a2 2 0 1 0 -4 0M358.5 540.2a2 2 0 1 0 4 0a2 2 0 1 0 -4 0M361.1 539.2a2 2 0 1 0 4 0a2 2 0 1 0 -4 0M366.1 539.8a2 2 0 1 0 4 0a2 2 0 1 0 -4 0M368.2 538.8a2 2 0 1 0 4 0a2 2 0 1 0 -4 0M371.7 538.9a2 2 0 1 0 4 0a2 2 0 1 0 -4 0M374.6 537.9a2 2 0 1 0 4 0a2 2 0 1 0 -4 0M377.1 538.5a2 2 0 1 0 4 0a2 2 0 1 0 -4 0M378.3 537.9a2 2 0 1 0 4 0a2 2 0 1 0 -4 0M383.6 538a2 2 0 1 0 4 0a2 2 0 1 0 -4 0M386.3 538a2 2 0 1 0 4 0a2 2 0 1 0 -4 0M391.7 536.9a2 2 0 1 0 4 0a2 2 0 1 0 -4 0M394.9 536.8a2 2 0 1 0 4 0a2 2 0 1 0 -4 0M396 536.3a2 2 0 1 0 4 0a2 2 0 1 0 -4 0M398.7 535.4a2 2 0 1 0 4 0a2 2 0 1 0 -4 0M401.1 535.8a2 2 0 1 0 4 0a2 2 0 1 0 -4 0M402.3 535.9a2 2 0 1 0 4 0a2 2 0 1 0 -4 0M409.9 535.3a2 2 0 1 0 4 0a2 2 0 1 0 -4 0M413.3 533.5a2 2 0 1 0 4 0a2 2 0 1 0 -4 0M420.1 533.5a2 2 0 1 0 4 0a2 2 0 1 0 -4 0M426.7 532.5a2 2 0 1 0 4 0a2 2 0 1 0 -4 0M432.1 532.5a2 2 0 1 0 4 0a2 2 0 1 0 -4 0M433.6 531.8a2 2 0 1 0 4 0a2 2 0 1 0 -4 0M437.9 531.7a2 2 0 1 0 4 0a2 2 0 1 0 -4 0M439.8 532.3a2 2 0 1 0 4 0a2 2 0 1 0 -4 0M445.2 531.6a2 2 0 1 0 4 0a2 2 0 1 0 -4 0M451.1 530.2a2 2 0 1 0 4 0a2 2 0 1 0 -4 0M454 528.9a2 2 0 1 0 4 0a2 2 0 1 0 -4 0M460.4 528.4a2 2 0 1 0 4 0a2 2 0 1 0 -4 0M462.2 529.4a2 2 0 1 0 4 0a2 2 0 1 0 -4 0M464.8 528.7a2 2 0 1 0 4 0a2 2 0 1 0 -4 0M468.9 528.9a2 2 0 1 0 4 0a2 2 0 1 0 -4 0M473.6 528.3a2 2 0 1 0 4 0a2 2 0 1 0 -4 0M474.7 528.1a2 2 0 1 0 4 0a2 2 0 1 0 -4 0M481.5 527.3a2 2 0 1 0 4 0a2 2 0 1 0 -4 0M486.6 527a2 2 0 1 0 4 0a2 2 0 1 0 -4 0M489.2 526.7a2 2 0 1 0 4 0a2 2 0 1 0 -4 0M490.2 527.5a2 2 0 1 0 4 0a2 2 0 1 0 -4 0M493 526.4a2 2 0 1 0 4 0a2 2 0 1 0 -4 0M497.4 525.4a2 2 0 1 0 4 0a2 2 0 1 0 -4 0M502.2 526.1a2 2 0 1 0 4 0a2 2 0 1 0 -4 0M504.1 525.5a2 2 0 1 0 4 0a2 2 0 1 0 -4 0M506.5 525.8a2 2 0 1 0 4 0a2 2 0 1 0 -4 0M507.4 525.7a2 2 0 1 0 4 0a2 2 0 1 0 -4 0M509.9 524.7a2 2 0 1 0 4 0a2 2 0 1 0 -4 0M512.9 524.9a2 2 0 1 0 4 0a2 2 0 1 0 -4 0M517.4 525.5a2 2 0 1 0 4 0a2 2 0 1 0 -4 0M519.3 524.4a2 2 0 1 0 4 0a2 2 0 1 0 -4 0M525.2 523.9a2 2 0 1 0 4 0a2 2 0 1 0 -4 0M528.6 524a2 2 0 1 0 4 0a2 2 0 1 0 -4 0M530.1 523.3a2 2 0 1 0 4 0a2 2 0 1 0 -4 0M535.8 523.8a2 2 0 1 0 4 0a2 2 0 1 0 -4 0M543.8 522.3a2 2 0 1 0 4 0a2 2 0 1 0 -4 0M546 522.1a2 2 0 1 0 4 0a2 2 0 1 0 -4 0M548.1 521.6a2 2 0 1 0 4 0a2 2 0 1 0 -4 0M548.9 520.6a2 2 0 1 0 4 0a2 2 0 1 0 -4 0M553.5 519.7a2 2 0 1 0 4 0a2 2 0 1 0 -4 0M555.6 520.5a2 2 0 1 0 4 0a2 2 0 1 0 -4 0M558.8 520.4a2 2 0 1 0 4 0a2 2 0 1 0 -4 0M562.4 519.6a2 2 0 1 0 4 0a2 2 0 1 0 -4 0M565.5 518.5a2 2 0 1 0 4 0a2 2 0 1 0 -4 0M566.6 518.8a2 2 0 1 0 4 0a2 2 0 1 0 -4 0M569.1 518.5a2 2 0 1 0 4 0a2 2 0 1 0 -4 0M573 517.1a2 2 0 1 0 4 0a2 2 0 1 0 -4 0M578.3 517.4a2 2 0 1 0 4 0a2 2 0 1 0 -4 0M580.1 515.8a2 2 0 1 0 4 0a2 2 0 1 0 -4 0M582.4 515.9a2 2 0 1 0 4 0a2 2 0 1 0 -4 0M586.5 515.8a2 2 0 1 0 4 0a2 2 0 1 0 -4 0M589 515a2 2 0 1 0 4 0a2 2 0 1 0 -4 0M590.3 515a2 2 0 1 0 4 0a2 2 0 1 0 -4 0M595.8 514.2a2 2 0 1 0 4 0a2 2 0 1 0 -4 0M601.8 512.1a2 2 0 1 0 4 0a2 2 0 1 0 -4 0M603.2 511.5a2 2 0 1 0 4 0a2 2 0 1 0 -4 0M605.7 511.8a2 2 0 1 0 4 0a2 2 0 1 0 -4 0M611 511.3a2 2 0 1 0 4 0a2 2 0 1 0 -4 0M612.7 510a2 2 0 1 0 4 0a2 2 0 1 0 -4 0M614.2 509.7a2 2 0 1 0 4 0a2 2 0 1 0 -4 0M616.1 510.4a2 2 0 1 0 4 0a2 2 0 1 0 -4 0M622.7 509.7a2 2 0 1 0 4 0a2 2 0 1 0 -4 0M625.4 509.1a2 2 0 1 0 4 0a2 2 0 1 0 -4 0M627.5 507.9a2 2 0 1 0 4 0a2 2 0 1 0 -4 0M630.3 508.8a2 2 0 1 0 4 0a2 2 0 1 0 -4 0M631.7 507.9a2 2 0 1 0 4 0a2 2 0 1 0 -4 0M634.3 507.5a2 2 0 1 0 4 0a2 2 0 1 0 -4 0M635.9 507a2 2 0 1 0 4 0a2 2 0 1 0 -4 0M640.9 506.9a2 2 0 1 0 4 0a2 2 0 1 0 -4 0M642.7 506.6a2 2 0 1 0 4 0a2 2 0 1 0 -4 0M649.5 505.5a2 2 0 1 0 4 0a2 2 0 1 0 -4 0M654 505.4a2 2 0 1 0 4 0a2 2 0 1 0 -4 0M657.5 503.5a2 2 0 1 0 4 0a2 2 0 1 0 -4 0M659.5 504a2 2 0 1 0 4 0a2 2 0 1 0 -4 0M660.7 501.9a2 2 0 1 0 4 0a2 2 0 1 0 -4 0M657.7 502.2a2 2 0 1 0 4 0a2 2 0 1 0 -4 0M655.8 501.7a2 2 0 1 0 4 0a2 2 0 1 0 -4 0M649.2 501.8a2 2 0 1 0 4 0a2 2 0 1 0 -4 0M646.7 501.4a2 2 0 1 0 4 0a2 2 0 1 0 -4 0M644.6 501.9a2 2 0 1 0 4 0a2 2 0 1 0 -4 0M642.9 501.3a2 2 0 1 0 4 0a2 2 0 1 0 -4 0M641 502.2a2 2 0 1 0 4 0a2 2 0 1 0 -4 0M635.6 502a2 2 0 1 0 4 0a2 2 0 1 0 -4 0M629.8 502a2 2 0 1 0 4 0a2 2 0 1 0 -4 0M627.9 501.9a2 2 0 1 0 4 0a2 2 0 1 0 -4 0M625 503.2a2 2 0 1 0 4 0a2 2 0 1 0 -4 0M623.6 503.8a2 2 0 1 0 4 0a2 2 0 1 0 -4 0M620.4 502.7a2 2 0 1 0 4 0a2 2 0 1 0 -4 0M618 504.3a2 2 0 1 0 4 0a2 2 0 1 0 -4 0M616.4 503.1a2 2 0 1 0 4 0a2 2 0 1 0 -4 0M612.5 503.8a2 2 0 1 0 4 0a2 2 0 1 0 -4 0M609.3 504.5a2 2 0 1 0 4 0a2 2 0 1 0 -4 0M607.8 504.9a2 2 0 1 0 4 0a2 2 0 1 0 -4 0M604.9 504.7a2 2 0 1 0 4 0a2 2 0 1 0 -4 0M603.2 504.6a2 2 0 1 0 4 0a2 2 0 1 0 -4 0M600.5 505.3a2 2 0 1 0 4 0a2 2 0 1 0 -4 0M599.2 505.2a2 2 0 1 0 4 0a2 2 0 1 0 -4 0M596.2 505.8a2 2 0 1 0 4 0a2 2 0 1 0 -4 0M594.4 504.9a2 2 0 1 0 4 0a2 2 0 1 0 -4 0M593.1 505.2a2 2 0 1 0 4 0a2 2 0 1 0 -4 0M588.1 505.3a2 2 0 1 0 4 0a2 2 0 1 0 -4 0M585.4 505.7a2 2 0 1 0 4 0a2 2 0 1 0 -4 0M583.4 506.7a2 2 0 1 0 4 0a2 2 0 1 0 -4 0M581.9 506.2a2 2 0 1 0 4 0a2 2 0 1 0 -4 0M576.6 507.3a2 2 0 1 0 4 0a2 2 0 1 0 -4 0M575.1 507a2 2 0 1 0 4 0a2 2 0 1 0 -4 0M563.5 508.7a2 2 0 1 0 4 0a2 2 0 1 0 -4 0M557.1 509.5a2 2 0 1 0 4 0a2 2 0 1 0 -4 0M554.5 508.5a2 2 0 1 0 4 0a2 2 0 1 0 -4 0M552.8 509a2 2 0 1 0 4 0a2 2 0 1 0 -4 0M550 509.2a2 2 0 1 0 4 0a2 2 0 1 0 -4 0M547.8 509.6a2 2 0 1 0 4 0a2 2 0 1 0 -4 0M544.9 510.8a2 2 0 1 0 4 0a2 2 0 1 0 -4 0M541.2 509.8a2 2 0 1 0 4 0a2 2 0 1 0 -4 0M540.3 510.6a2 2 0 1 0 4 0a2 2 0 1 0 -4 0M538 511.3a2 2 0 1 0 4 0a2 2 0 1 0 -4 0M534.8 511.6a2 2 0 1 0 4 0a2 2 0 1 0 -4 0M533.6 512.5a2 2 0 1 0 4 0a2 2 0 1 0 -4 0M531.6 512a2 2 0 1 0 4 0a2 2 0 1 0 -4 0M528.7 513.2a2 2 0 1 0 4 0a2 2 0 1 0 -4 0M526.1 513a2 2 0 1 0 4 0a2 2 0 1 0 -4 0M523.8 512.7a2 2 0 1 0 4 0a2 2 0 1 0 -4 0M522.4 513.1a2 2 0 1 0 4 0a2 2 0 1 0 -4 0M520.9 514.3a2 2 0 1 0 4 0a2 2 0 1 0 -4 0M516.6 515.2a2 2 0 1 0 4 0a2 2 0 1 0 -4 0M513 514.6a2 2 0 1 0 4 0a2 2 0 1 0 -4 0M509.1 515.3a2 2 0 1 0 4 0a2 2 0 1 0 -4 0M507.9 515.8a2 2 0 1 0 4 0a2 2 0 1 0 -4 0M502.4 516.4a2 2 0 1 0 4 0a2 2 0 1 0 -4 0M495.9 517a2 2 0 1 0 4 0a2 2 0 1 0 -4 0M493.7 517.7a2 2 0 1 0 4 0a2 2 0 1 0 -4 0M492.2 517.5a2 2 0 1 0 4 0a2 2 0 1 0 -4 0M489.6 517.6a2 2 0 1 0 4 0a2 2 0 1 0 -4 0M486.9 517.6a2 2 0 1 0 4 0a2 2 0 1 0 -4 0M484.6 518.6a2 2 0 1 0 4 0a2 2 0 1 0 -4 0M480.7 519a2 2 0 1 0 4 0a2 2 0 1 0 -4 0M478.5 518.7a2 2 0 1 0 4 0a2 2 0 1 0 -4 0M476.1 519.1a2 2 0 1 0 4 0a2 2 0 1 0 -4 0M473.8 519.9a2 2 0 1 0 4 0a2 2 0 1 0 -4 0M472.2 520.2a2 2 0 1 0 4 0a2 2 0 1 0 -4 0M470.4 520.5a2 2 0 1 0 4 0a2 2 0 1 0 -4 0M467.4 519.4a2 2 0 1 0 4 0a2 2 0 1 0 -4 0M465.4 519.9a2 2 0 1 0 4 0a2 2 0 1 0 -4 0M462.9 521a2 2 0 1 0 4 0a2 2 0 1 0 -4 0M461.8 521a2 2 0 1 0 4 0a2 2 0 1 0 -4 0M458.6 521.1a2 2 0 1 0 4 0a2 2 0 1 0 -4 0M457 521.3a2 2 0 1 0 4 0a2 2 0 1 0 -4 0M454.5 521.5a2 2 0 1 0 4 0a2 2 0 1 0 -4 0M445.2 520.9a2 2 0 1 0 4 0a2 2 0 1 0 -4 0M442.1 522.8a2 2 0 1 0 4 0a2 2 0 1 0 -4 0M440.1 522a2 2 0 1 0 4 0a2 2 0 1 0 -4 0M436.8 523.3a2 2 0 1 0 4 0a2 2 0 1 0 -4 0M432.7 523.2a2 2 0 1 0 4 0a2 2 0 1 0 -4 0M425.7 522.7a2 2 0 1 0 4 0a2 2 0 1 0 -4 0M422.3 522.2a2 2 0 1 0 4 0a2 2 0 1 0 -4 0M420.2 522.8a2 2 0 1 0 4 0a2 2 0 1 0 -4 0M413.3 523a2 2 0 1 0 4 0a2 2 0 1 0 -4 0M410.8 523.4a2 2 0 1 0 4 0a2 2 0 1 0 -4 0M404.5 523.7a2 2 0 1 0 4 0a2 2 0 1 0 -4 0M399.8 523.7a2 2 0 1 0 4 0a2 2 0 1 0 -4 0M392.6 524.2a2 2 0 1 0 4 0a2 2 0 1 0 -4 0M391.5 524.8a2 2 0 1 0 4 0a2 2 0 1 0 -4 0M389 525.4a2 2 0 1 0 4 0a2 2 0 1 0 -4 0M386.3 525.2a2 2 0 1 0 4 0a2 2 0 1 0 -4 0M385 525.5a2 2 0 1 0 4 0a2 2 0 1 0 -4 0M379.7 525.7a2 2 0 1 0 4 0a2 2 0 1 0 -4 0M378.5 526.9a2 2 0 1 0 4 0a2 2 0 1 0 -4 0M375.3 525.8a2 2 0 1 0 4 0a2 2 0 1 0 -4 0M373.4 526.9a2 2 0 1 0 4 0a2 2 0 1 0 -4 0M368.6 526.6a2 2 0 1 0 4 0a2 2 0 1 0 -4 0M366.6 527.1a2 2 0 1 0 4 0a2 2 0 1 0 -4 0M364.2 526.9a2 2 0 1 0 4 0a2 2 0 1 0 -4 0M360.6 527.7a2 2 0 1 0 4 0a2 2 0 1 0 -4 0M358.7 527.6a2 2 0 1 0 4 0a2 2 0 1 0 -4 0M356.8 528.9a2 2 0 1 0 4 0a2 2 0 1 0 -4 0M353.2 529.5a2 2 0 1 0 4 0a2 2 0 1 0 -4 0M351.6 529.6a2 2 0 1 0 4 0a2 2 0 1 0 -4 0M349.2 529.9a2 2 0 1 0 4 0a2 2 0 1 0 -4 0M345 530.6a2 2 0 1 0 4 0a2 2 0 1 0 -4 0M341.5 530.3a2 2 0 1 0 4 0a2 2 0 1 0 -4 0M336.7 529a2 2 0 1 0 4 0a2 2 0 1 0 -4 0M334 529.9a2 2 0 1 0 4 0a2 2 0 1 0 -4 0M331.8 529.7a2 2 0 1 0 4 0a2 2 0 1 0 -4 0M326 527.7a2 2 0 1 0 4 0a2 2 0 1 0 -4 0M322.6 527.9a2 2 0 1 0 4 0a2 2 0 1 0 -4 0M321.7 528.4a2 2 0 1 0 4 0a2 2 0 1 0 -4 0M316.6 529.1a2 2 0 1 0 4 0a2 2 0 1 0 -4 0M314.6 530.4a2 2 0 1 0 4 0a2 2 0 1 0 -4 0M308.1 531.5a2 2 0 1 0 4 0a2 2 0 1 0 -4 0M305.3 531a2 2 0 1 0 4 0a2 2 0 1 0 -4 0M304.3 532.2a2 2 0 1 0 4 0a2 2 0 1 0 -4 0M299.9 533.1a2 2 0 1 0 4 0a2 2 0 1 0 -4 0M296.7 533.7a2 2 0 1 0 4 0a2 2 0 1 0 -4 0M292.5 533.7a2 2 0 1 0 4 0a2 2 0 1 0 -4 0M290.7 533.2a2 2 0 1 0 4 0a2 2 0 1 0 -4 0M288.6 534a2 2 0 1 0 4 0a2 2 0 1 0 -4 0M284 533.6a2 2 0 1 0 4 0a2 2 0 1 0 -4 0M281.5 534.2a2 2 0 1 0 4 0a2 2 0 1 0 -4 0M277.9 535.1a2 2 0 1 0 4 0a2 2 0 1 0 -4 0M275.8 536a2 2 0 1 0 4 0a2 2 0 1 0 -4 0M273.9 535.3a2 2 0 1 0 4 0a2 2 0 1 0 -4 0M271.4 536.5a2 2 0 1 0 4 0a2 2 0 1 0 -4 0M268.5 536.2a2 2 0 1 0 4 0a2 2 0 1 0 -4 0M266.8 537.3a2 2 0 1 0 4 0a2 2 0 1 0 -4 0M264.5 536.4a2 2 0 1 0 4 0a2 2 0 1 0 -4 0M262.6 537.9a2 2 0 1 0 4 0a2 2 0 1 0 -4 0M260.3 537.8a2 2 0 1 0 4 0a2 2 0 1 0 -4 0M253.2 538.9a2 2 0 1 0 4 0a2 2 0 1 0 -4 0M252.1 537.8a2 2 0 1 0 4 0a2 2 0 1 0 -4 0M246.5 538.1a2 2 0 1 0 4 0a2 2 0 1 0 -4 0M244.8 539a2 2 0 1 0 4 0a2 2 0 1 0 -4 0M240.6 538.7a2 2 0 1 0 4 0a2 2 0 1 0 -4 0M237.9 538.1a2 2 0 1 0 4 0a2 2 0 1 0 -4 0M236.5 539.6a2 2 0 1 0 4 0a2 2 0 1 0 -4 0M233.9 539.5a2 2 0 1 0 4 0a2 2 0 1 0 -4 0M231.5 541a2 2 0 1 0 4 0a2 2 0 1 0 -4 0M229.6 540.8a2 2 0 1 0 4 0a2 2 0 1 0 -4 0M227.3 541.2a2 2 0 1 0 4 0a2 2 0 1 0 -4 0M226.1 542.5a2 2 0 1 0 4 0a2 2 0 1 0 -4 0M223.3 541.9a2 2 0 1 0 4 0a2 2 0 1 0 -4 0M219.1 542.7a2 2 0 1 0 4 0a2 2 0 1 0 -4 0M216.9 543.1a2 2 0 1 0 4 0a2 2 0 1 0 -4 0M214.8 544.3a2 2 0 1 0 4 0a2 2 0 1 0 -4 0M211.9 544.6a2 2 0 1 0 4 0a2 2 0 1 0 -4 0M209.9 545.5a2 2 0 1 0 4 0a2 2 0 1 0 -4 0M208.4 546a2 2 0 1 0 4 0a2 2 0 1 0 -4 0M206.1 546.1a2 2 0 1 0 4 0a2 2 0 1 0 -4 0M202.3 546.7a2 2 0 1 0 4 0a2 2 0 1 0 -4 0M200.1 547.1a2 2 0 1 0 4 0a2 2 0 1 0 -4 0M198.1 546.2a2 2 0 1 0 4 0a2 2 0 1 0 -4 0M193.1 547.8a2 2 0 1 0 4 0a2 2 0 1 0 -4 0M190.8 546.7a2 2 0 1 0 4 0a2 2 0 1 0 -4 0M189.4 547.2a2 2 0 1 0 4 0a2 2 0 1 0 -4 0M185.8 548.7a2 2 0 1 0 4 0a2 2 0 1 0 -4 0M184.9 548a2 2 0 1 0 4 0a2 2 0 1 0 -4 0M181.7 548.9a2 2 0 1 0 4 0a2 2 0 1 0 -4 0M177.9 549.1a2 2 0 1 0 4 0a2 2 0 1 0 -4 0M172.9 550.3a2 2 0 1 0 4 0a2 2 0 1 0 -4 0M167.6 550.8a2 2 0 1 0 4 0a2 2 0 1 0 -4 0M164.9 551.1a2 2 0 1 0 4 0a2 2 0 1 0 -4 0M158.7 550.9a2 2 0 1 0 4 0a2 2 0 1 0 -4 0M155.3 551.5a2 2 0 1 0 4 0a2 2 0 1 0 -4 0M154.5 551.6a2 2 0 1 0 4 0a2 2 0 1 0 -4 0M152.2 550.9a2 2 0 1 0 4 0a2 2 0 1 0 -4 0M146.3 551.6a2 2 0 1 0 4 0a2 2 0 1 0 -4 0M145.7 551.1a2 2 0 1 0 4 0a2 2 0 1 0 -4 0M142.8 551.3a2 2 0 1 0 4 0a2 2 0 1 0 -4 0M138.5 551.8a2 2 0 1 0 4 0a2 2 0 1 0 -4 0M136.6 552.9a2 2 0 1 0 4 0a2 2 0 1 0 -4 0M135.7 555.3a2 2 0 1 0 4 0a2 2 0 1 0 -4 0M131.3 556.8a2 2 0 1 0 4 0a2 2 0 1 0 -4 0M129.3 556.4a2 2 0 1 0 4 0a2 2 0 1 0 -4 0M127.2 556.7a2 2 0 1 0 4 0a2 2 0 1 0 -4 0M122.7 557.4a2 2 0 1 0 4 0a2 2 0 1 0 -4 0M120 557.9a2 2 0 1 0 4 0a2 2 0 1 0 -4 0M116 557.2a2 2 0 1 0 4 0a2 2 0 1 0 -4 0M114.6 557.9a2 2 0 1 0 4 0a2 2 0 1 0 -4 0M110.3 558.1a2 2 0 1 0 4 0a2 2 0 1 0 -4 0M107.9 556.9a2 2 0 1 0 4 0a2 2 0 1 0 -4 0M101.4 557.3a2 2 0 1 0 4 0a2 2 0 1 0 -4 0M98.8 557a2 2 0 1 0 4 0a2 2 0 1 0 -4 0M97.2 557.9a2 2 0 1 0 4 0a2 2 0 1 0 -4 0M93.9 557.9a2 2 0 1 0 4 0a2 2 0 1 0 -4 0M92.8 557.3a2 2 0 1 0 4 0a2 2 0 1 0 -4 0M89.9 557.7a2 2 0 1 0 4 0a2 2 0 1 0 -4 0M87.6 558.1a2 2 0 1 0 4 0a2 2 0 1 0 -4 0M85.3 558.1a2 2 0 1 0 4 0a2 2 0 1 0 -4 0M80.9 557.5a2 2 0 1 0 4 0a2 2 0 1 0 -4 0M78.7 557.7a2 2 0 1 0 4 0a2 2 0 1 0 -4 0M77 558.3a2 2 0 1 0 4 0a2 2 0 1 0 -4 0M71.7 558.1a2 2 0 1 0 4 0a2 2 0 1 0 -4 0M70.4 559.1a2 2 0 1 0 4 0a2 2 0 1 0 -4 0M68.5 560.6a2 2 0 1 0 4 0a2 2 0 1 0 -4 0M68 561.8a2 2 0 1 0 4 0a2 2 0 1 0 -4 0"/>
<path fill="#ff0000" d="M599.8 518a2 2 0 1 0 4 0a2 2 0 1 0 -4 0M609.5 516.5a2 2 0 1 0 4 0a2 2 0 1 0 -4 0M534.8 528.2a2 2 0 1 0 4 0a2 2 0 1 0 -4 0M617.6 514.6a2 2 0 1 0 4 0a2 2 0 1 0 -4 0M605.5 517.1a2 2 0 1 0 4 0a2 2 0 1 0 -4 0M551.6 526.7a2 2 0 1 0 4 0a2 2 0 1 0 -4 0M521.7 529.8a2 2 0 1 0 4 0a2 2 0 1 0 -4 0M646.7 508.3a2 2 0 1 0 4 0a2 2 0 1 0 -4 0M557.3 522.7a2 2 0 1 0 4 0a2 2 0 1 0 -4 0M535.4 528.1a2 2 0 1 0 4 0a2 2 0 1 0 -4 0M554.7 523a2 2 0 1 0 4 0a2 2 0 1 0 -4 0M620.6 514.2a2 2 0 1 0 4 0a2 2 0 1 0 -4 0M527.8 529a2 2 0 1 0 4 0a2 2 0 1 0 -4 0M601 517.5a2 2 0 1 0 4 0a2 2 0 1 0 -4 0M545.3 527.2a2 2 0 1 0 4 0a2 2 0 1 0 -4 0M551.6 524.2a2 2 0 1 0 4 0a2 2 0 1 0 -4 0M579 520.6a2 2 0 1 0 4 0a2 2 0 1 0 -4 0M637 508.9a2 2 0 1 0 4 0a2 2 0 1 0 -4 0M594.4 518.2a2 2 0 1 0 4 0a2 2 0 1 0 -4 0M598.2 519a2 2 0 1 0 4 0a2 2 0 1 0 -4 0M609.9 515.3a2 2 0 1 0 4 0a2 2 0 1 0 -4 0M594.1 521.1a2 2 0 1 0 4 0a2 2 0 1 0 -4 0M603.2 517.1a2 2 0 1 0 4 0a2 2 0 1 0 -4 0M555.8 521.6a2 2 0 1 0 4 0a2 2 0 1 0 -4 0M632.1 510.9a2 2 0 1 0 4 0a2 2 0 1 0 -4 0M602.5 519.3a2 2 0 1 0 4 0a2 2 0 1 0 -4 0M534.8 528.1a2 2 0 1 0 4 0a2 2 0 1 0 -4 0M647.4 509a2 2 0 1 0 4 0a2 2 0 1 0 -4 0M613.5 515a2 2 0 1 0 4 0a2 2 0 1 0 -4 0M632.5 511.6a2 2 0 1 0 4 0a2 2 0 1 0 -4 0M583.3 518.7a2 2 0 1 0 4 0a2 2 0 1 0 -4 0M545 524.6a2 2 0 1 0 4 0a2 2 0 1 0 -4 0M540 528a2 2 0 1 0 4 0a2 2 0 1 0 -4 0M569.8 523.8a2 2 0 1 0 4 0a2 2 0 1 0 -4 0M550.5 525.8a2 2 0 1 0 4 0a2 2 0 1 0 -4 0M544.4 527.1a2 2 0 1 0 4 0a2 2 0 1 0 -4 0M624.2 511a2 2 0 1 0 4 0a2 2 0 1 0 -4 0M530.4 527a2 2 0 1 0 4 0a2 2 0 1 0 -4 0M627.7 513.2a2 2 0 1 0 4 0a2 2 0 1 0 -4 0M584.5 522.2a2 2 0 1 0 4 0a2 2 0 1 0 -4 0M629.6 513.6a2 2 0 1 0 4 0a2 2 0 1 0 -4 0M619.3 513.5a2 2 0 1 0 4 0a2 2 0 1 0 -4 0M537.3 525.2a2 2 0 1 0 4 0a2 2 0 1 0 -4 0M631 510.4a2 2 0 1 0 4 0a2 2 0 1 0 -4 0M573.5 520.5a2 2 0 1 0 4 0a2 2 0 1 0 -4 0M647.1 507.6a2 2 0 1 0 4 0a2 2 0 1 0 -4 0M519.9 527.8a2 2 0 1 0 4 0a2 2 0 1 0 -4 0M526.4 526.9a2 2 0 1 0 4 0a2 2 0 1 0 -4 0M631.7 509.8a2 2 0 1 0 4 0a2 2 0 1 0 -4 0M611 516.8a2 2 0 1 0 4 0a2 2 0 1 0 -4 0M539.8 527.3a2 2 0 1 0 4 0a2 2 0 1 0 -4 0M587.4 520.9a2 2 0 1 0 4 0a2 2 0 1 0 -4 0M638.3 511.7a2 2 0 1 0 4 0a2 2 0 1 0 -4 0M623.2 512.3a2 2 0 1 0 4 0a2 2 0 1 0 -4 0M539.8 526.8a2 2 0 1 0 4 0a2 2 0 1 0 -4 0M546.5 525.1a2 2 0 1 0 4 0a2 2 0 1 0 -4 0M614.7 514.1a2 2 0 1 0 4 0a2 2 0 1 0 -4 0M589.4 519.3a2 2 0 1 0 4 0a2 2 0 1 0 -4 0M537.8 527.1a2 2 0 1 0 4 0a2 2 0 1 0 -4 0M560 523.8a2 2 0 1 0 4 0a2 2 0 1 0 -4 0"/>
<path fill="#ff0000" d="M109.4 589.9a2 2 0 1 0 4 0a2 2 0 1 0 -4 0M98.8 587.3a2 2 0 1 0 4 0a2 2 0 1 0 -4 0M108.4 582.6a2 2 0 1 0 4 0a2 2 0 1 0 -4 0M97.6 587a2 2 0 1 0 4 0a2 2 0 1 0 -4 0M109 581a2 2 0 1 0 4 0a2 2 0 1 0 -4 0M111.3 579.1a2 2 0 1 0 4 0a2 2 0 1 0 -4 0M117.9 591.3a2 2 0 1 0 4 0a2 2 0 1 0 -4 0M107.1 585.4a2 2 0 1 0 4 0a2 2 0 1 0 -4 0M96 585.5a2 2 0 1 0 4 0a2 2 0 1 0 -4 0M117.7 586.7a2 2 0 1 0 4 0a2 2 0 1 0 -4 0M114.6 587.4a2 2 0 1 0 4 0a2 2 0 1 0 -4 0M104 580.2a2 2 0 1 0 4 0a2 2 0 1 0 -4 0M117.9 590.2a2 2 0 1 0 4 0a2 2 0 1 0 -4 0M104.7 578.7a2 2 0 1 0 4 0a2 2 0 1 0 -4 0"/>
<path fill="#ff0000" d="M343.9 573.5a2 2 0 1 0 4 0a2 2 0 1 0 -4 0M338.3 571.7a2 2 0 1 0 4 0a2 2 0 1 0 -4 0M343.8 573.4a2 2 0 1 0 4 0a2 2 0 1 0 -4 0M345.5 573.2a2 2 0 1 0 4 0a2 2 0 1 0 -4 0M337 572.5a2 2 0 1 0 4 0a2 2 0 1 0 -4 0M344 573.2a2 2 0 1 0 4 0a2 2 0 1 0 -4 0M346 573.5a2 2 0 1 0 4 0a2 2 0 1 0 -4 0M334.6 572.3a2 2 0 1 0 4 0a2 2 0 1 0 -4 0M349.9 575.6a2 2 0 1 0 4 0a2 2 0 1 0 -4 0M342 572.9a2 2 0 1 0 4 0a2 2 0 1 0 -4 0"/>
<path fill="#000000" d="M138.8 575.1a1.6 1.6 0 1 0 3.2 0a1.6 1.6 0 1 0 -3.2 0M117.7 574.7a1.6 1.6 0 1 0 3.2 0a1.6 1.6 0 1 0 -3.2 0M96.2 576.4a1.6 1.6 0 1 0 3.2 0a1.6 1.6 0 1 0 -3.2 0M87.5 576.9a1.6 1.6 0 1 0 3.2 0a1.6 1.6 0 1 0 -3.2 0M93.9 576a1.6 1.6 0 1 0 3.2 0a1.6 1.6 0 1 0 -3.2 0M140.4 574.3a1.6 1.6 0 1 0 3.2 0a1.6 1.6 0 1 0 -3.2 0M133.6 574.3a1.6 1.6 0 1 0 3.2 0a1.6 1.6 0 1 0 -3.2 0M144.2 575a1.6 1.6 0 1 0 3.2 0a1.6 1.6 0 1 0 -3.2 0M117.1 575.6a1.6 1.6 0 1 0 3.2 0a1.6 1.6 0 1 0 -3.2 0M87.4 576a1.6 1.6 0 1 0 3.2 0a1.6 1.6 0 1 0 -3.2 0M88.9 575.3a1.6 1.6 0 1 0 3.2 0a1.6 1.6 0 1 0 -3.2 0M111.3 576.1a1.6 1.6 0 1 0 3.2 0a1.6 1.6 0 1 0 -3.2 0M92.6 576.8a1.6 1.6 0 1 0 3.2 0a1.6 1.6 0 1 0 -3.2 0M123.2 575.6a1.6 1.6 0 1 0 3.2 0a1.6 1.6 0 1 0 -3.2 0M97.9 576.1a1.6 1.6 0 1 0 3.2 0a1.6 1.6 0 1 0 -3.2 0M89.1 576.2a1.6 1.6 0 1 0 3.2 0a1.6 1.6 0 1 0 -3.2 0"/>
<path fill="#000000" d="M123.3 573a1.7 1.7 0 1 0 3.4 0a1.7 1.7 0 1 0 -3.4 0M128.3 574a1.7 1.7 0 1 0 3.4 0a1.7 1.7 0 1 0 -3.4 0M134.3 572a1.7 1.7 0 1 0 3.4 0a1.7 1.7 0 1 0 -3.4 0M138.3 574a1.7 1.7 0 1 0 3.4 0a1.7 1.7 0 1 0 -3.4 0M143.3 571a1.7 1.7 0 1 0 3.4 0a1.7 1.7 0 1 0 -3.4 0M150.3 572a1.7 1.7 0 1 0 3.4 0a1.7 1.7 0 1 0 -3.4 0M158.3 569a1.7 1.7 0 1 0 3.4 0a1.7 1.7 0 1 0 -3.4 0M162.3 571a1.7 1.7 0 1 0 3.4 0a1.7 1.7 0 1 0 -3.4 0M141.3 566a1.7 1.7 0 1 0 3.4 0a1.7 1.7 0 1 0 -3.4 0M170.3 565a1.7 1.7 0 1 0 3.4 0a1.7 1.7 0 1 0 -3.4 0M226.3 565a1.7 1.7 0 1 0 3.4 0a1.7 1.7 0 1 0 -3.4 0"/>
<path fill="#ff0000" d="M72.5 538.3a2 2 0 1 0 4 0a2 2 0 1 0 -4 0M96.3 542.6a2 2 0 1 0 4 0a2 2 0 1 0 -4 0M97 544a2 2 0 1 0 4 0a2 2 0 1 0 -4 0M109.2 544.3a2 2 0 1 0 4 0a2 2 0 1 0 -4 0M111 544.6a2 2 0 1 0 4 0a2 2 0 1 0 -4 0M124.1 542.6a2 2 0 1 0 4 0a2 2 0 1 0 -4 0M136.7 533.6a2 2 0 1 0 4 0a2 2 0 1 0 -4 0M138.6 533.8a2 2 0 1 0 4 0a2 2 0 1 0 -4 0M155 538.7a2 2 0 1 0 4 0a2 2 0 1 0 -4 0M163.2 540.5a2 2 0 1 0 4 0a2 2 0 1 0 -4 0M171.2 532.9a2 2 0 1 0 4 0a2 2 0 1 0 -4 0M77.3 585.8a2 2 0 1 0 4 0a2 2 0 1 0 -4 0M91.3 590.1a2 2 0 1 0 4 0a2 2 0 1 0 -4 0M75 551a2 2 0 1 0 4 0a2 2 0 1 0 -4 0M88 553a2 2 0 1 0 4 0a2 2 0 1 0 -4 0"/>
<polygon fill="#000000" points="432.8,688.3 434.4,712.5 449.2,707.5 449.5,707.5 469.5,703.5 469.5,703.4 495,698.5 514.5,694.5 536.4,689.5 536.6,689.4 559.5,685.4 579.2,681.5 599.1,673 599.5,672.2 597.5,671.1 579.5,672.6 560.4,675.6 560.3,675.6 537.7,678.1 537.6,678.1 495.7,681.6 475.3,683.6"/>
<path fill="#000000" d="M430.3 689.1a2 2 0 1 0 4 0a2 2 0 1 0 -4 0M429.3 691.1a2 2 0 1 0 4 0a2 2 0 1 0 -4 0M430 697.8a2 2 0 1 0 4 0a2 2 0 1 0 -4 0M430.4 700.2a2 2 0 1 0 4 0a2 2 0 1 0 -4 0M431.2 704.5a2 2 0 1 0 4 0a2 2 0 1 0 -4 0M430.8 710.3a2 2 0 1 0 4 0a2 2 0 1 0 -4 0M431.3 711.9a2 2 0 1 0 4 0a2 2 0 1 0 -4 0M433.2 713.2a2 2 0 1 0 4 0a2 2 0 1 0 -4 0M437.8 712.1a2 2 0 1 0 4 0a2 2 0 1 0 -4 0M440.2 710.9a2 2 0 1 0 4 0a2 2 0 1 0 -4 0M446.2 708.9a2 2 0 1 0 4 0a2 2 0 1 0 -4 0M447.8 709a2 2 0 1 0 4 0a2 2 0 1 0 -4 0M450.1 707.2a2 2 0 1 0 4 0a2 2 0 1 0 -4 0M453.5 706.7a2 2 0 1 0 4 0a2 2 0 1 0 -4 0M455.7 707.3a2 2 0 1 0 4 0a2 2 0 1 0 -4 0M456.8 706.7a2 2 0 1 0 4 0a2 2 0 1 0 -4 0M461 705.4a2 2 0 1 0 4 0a2 2 0 1 0 -4 0M464.2 705.3a2 2 0 1 0 4 0a2 2 0 1 0 -4 0M466.1 704.2a2 2 0 1 0 4 0a2 2 0 1 0 -4 0M467.1 704.4a2 2 0 1 0 4 0a2 2 0 1 0 -4 0M470 703.9a2 2 0 1 0 4 0a2 2 0 1 0 -4 0M471.8 703.6a2 2 0 1 0 4 0a2 2 0 1 0 -4 0M474.4 703.7a2 2 0 1 0 4 0a2 2 0 1 0 -4 0M477 701.9a2 2 0 1 0 4 0a2 2 0 1 0 -4 0M478 701.7a2 2 0 1 0 4 0a2 2 0 1 0 -4 0M480.7 701.2a2 2 0 1 0 4 0a2 2 0 1 0 -4 0M484.9 700.2a2 2 0 1 0 4 0a2 2 0 1 0 -4 0M487.8 700.5a2 2 0 1 0 4 0a2 2 0 1 0 -4 0M491.9 699.5a2 2 0 1 0 4 0a2 2 0 1 0 -4 0M495.4 698.3a2 2 0 1 0 4 0a2 2 0 1 0 -4 0M499.8 698.1a2 2 0 1 0 4 0a2 2 0 1 0 -4 0M504.9 696.9a2 2 0 1 0 4 0a2 2 0 1 0 -4 0M506.1 696.4a2 2 0 1 0 4 0a2 2 0 1 0 -4 0M510.9 695.8a2 2 0 1 0 4 0a2 2 0 1 0 -4 0M515.3 695.2a2 2 0 1 0 4 0a2 2 0 1 0 -4 0M520 693.4a2 2 0 1 0 4 0a2 2 0 1 0 -4 0M522.3 693a2 2 0 1 0 4 0a2 2 0 1 0 -4 0M526.7 691.7a2 2 0 1 0 4 0a2 2 0 1 0 -4 0M527.6 692.4a2 2 0 1 0 4 0a2 2 0 1 0 -4 0M532.5 691.6a2 2 0 1 0 4 0a2 2 0 1 0 -4 0M534.4 689.7a2 2 0 1 0 4 0a2 2 0 1 0 -4 0M541.6 689.7a2 2 0 1 0 4 0a2 2 0 1 0 -4 0M545.8 689a2 2 0 1 0 4 0a2 2 0 1 0 -4 0M547.7 688.3a2 2 0 1 0 4 0a2 2 0 1 0 -4 0M549.5 688a2 2 0 1 0 4 0a2 2 0 1 0 -4 0M554.5 686.9a2 2 0 1 0 4 0a2 2 0 1 0 -4 0M555.9 686.2a2 2 0 1 0 4 0a2 2 0 1 0 -4 0M560.6 685.9a2 2 0 1 0 4 0a2 2 0 1 0 -4 0M569.5 684.2a2 2 0 1 0 4 0a2 2 0 1 0 -4 0M571.7 683.4a2 2 0 1 0 4 0a2 2 0 1 0 -4 0M574 683.7a2 2 0 1 0 4 0a2 2 0 1 0 -4 0M582.2 680.9a2 2 0 1 0 4 0a2 2 0 1 0 -4 0M586.1 679.2a2 2 0 1 0 4 0a2 2 0 1 0 -4 0M588 678.6a2 2 0 1 0 4 0a2 2 0 1 0 -4 0M590.2 677.1a2 2 0 1 0 4 0a2 2 0 1 0 -4 0M594.9 675.5a2 2 0 1 0 4 0a2 2 0 1 0 -4 0M596.4 674a2 2 0 1 0 4 0a2 2 0 1 0 -4 0M598 672.5a2 2 0 1 0 4 0a2 2 0 1 0 -4 0M598.7 672.2a2 2 0 1 0 4 0a2 2 0 1 0 -4 0M595.7 670.3a2 2 0 1 0 4 0a2 2 0 1 0 -4 0M593.5 670.9a2 2 0 1 0 4 0a2 2 0 1 0 -4 0M591.9 670.2a2 2 0 1 0 4 0a2 2 0 1 0 -4 0M589.1 670.7a2 2 0 1 0 4 0a2 2 0 1 0 -4 0M584.8 670.4a2 2 0 1 0 4 0a2 2 0 1 0 -4 0M579.3 671.1a2 2 0 1 0 4 0a2 2 0 1 0 -4 0M576.9 672a2 2 0 1 0 4 0a2 2 0 1 0 -4 0M573.6 671.7a2 2 0 1 0 4 0a2 2 0 1 0 -4 0M567.1 673.4a2 2 0 1 0 4 0a2 2 0 1 0 -4 0M566.3 674.2a2 2 0 1 0 4 0a2 2 0 1 0 -4 0M555.1 674.3a2 2 0 1 0 4 0a2 2 0 1 0 -4 0M551.1 676a2 2 0 1 0 4 0a2 2 0 1 0 -4 0M548.5 675.9a2 2 0 1 0 4 0a2 2 0 1 0 -4 0M545.2 675.6a2 2 0 1 0 4 0a2 2 0 1 0 -4 0M544.1 676.9a2 2 0 1 0 4 0a2 2 0 1 0 -4 0M542 676.7a2 2 0 1 0 4 0a2 2 0 1 0 -4 0M539 676.9a2 2 0 1 0 4 0a2 2 0 1 0 -4 0M535.3 677a2 2 0 1 0 4 0a2 2 0 1 0 -4 0M532.3 677.3a2 2 0 1 0 4 0a2 2 0 1 0 -4 0M530 678.3a2 2 0 1 0 4 0a2 2 0 1 0 -4 0M528.8 677.5a2 2 0 1 0 4 0a2 2 0 1 0 -4 0M523.3 678.5a2 2 0 1 0 4 0a2 2 0 1 0 -4 0M522.4 678.6a2 2 0 1 0 4 0a2 2 0 1 0 -4 0M519.9 678.8a2 2 0 1 0 4 0a2 2 0 1 0 -4 0M517 678.9a2 2 0 1 0 4 0a2 2 0 1 0 -4 0M514.5 678.3a2 2 0 1 0 4 0a2 2 0 1 0 -4 0M512.4 679.1a2 2 0 1 0 4 0a2 2 0 1 0 -4 0M510.6 679.7a2 2 0 1 0 4 0a2 2 0 1 0 -4 0M506.6 680.4a2 2 0 1 0 4 0a2 2 0 1 0 -4 0M505.1 679.4a2 2 0 1 0 4 0a2 2 0 1 0 -4 0M501.8 679.6a2 2 0 1 0 4 0a2 2 0 1 0 -4 0M499.5 680.2a2 2 0 1 0 4 0a2 2 0 1 0 -4 0M493.7 680.9a2 2 0 1 0 4 0a2 2 0 1 0 -4 0M490.3 681.5a2 2 0 1 0 4 0a2 2 0 1 0 -4 0M488.5 680.8a2 2 0 1 0 4 0a2 2 0 1 0 -4 0M475.1 682a2 2 0 1 0 4 0a2 2 0 1 0 -4 0M473 682.1a2 2 0 1 0 4 0a2 2 0 1 0 -4 0M470.7 682.6a2 2 0 1 0 4 0a2 2 0 1 0 -4 0M467 683.9a2 2 0 1 0 4 0a2 2 0 1 0 -4 0M465.2 683.7a2 2 0 1 0 4 0a2 2 0 1 0 -4 0M463.3 684.3a2 2 0 1 0 4 0a2 2 0 1 0 -4 0M461.2 684.2a2 2 0 1 0 4 0a2 2 0 1 0 -4 0M457.8 683.6a2 2 0 1 0 4 0a2 2 0 1 0 -4 0M451 685.2a2 2 0 1 0 4 0a2 2 0 1 0 -4 0M449.3 685.9a2 2 0 1 0 4 0a2 2 0 1 0 -4 0M446.7 685.9a2 2 0 1 0 4 0a2 2 0 1 0 -4 0M443.7 686a2 2 0 1 0 4 0a2 2 0 1 0 -4 0M440 686a2 2 0 1 0 4 0a2 2 0 1 0 -4 0M438.4 686.6a2 2 0 1 0 4 0a2 2 0 1 0 -4 0M436.7 686.1a2 2 0 1 0 4 0a2 2 0 1 0 -4 0M434.3 686.3a2 2 0 1 0 4 0a2 2 0 1 0 -4 0M432.5 687.6a2 2 0 1 0 4 0a2 2 0 1 0 -4 0"/>
<polygon fill="#ff0000" points="82,755.2 304.3,755.2 312.7,750.3 312.9,750.2 313.1,750.1 331.1,743.1 331.2,743 352.1,736.5 369.1,730.1 369.2,730 389.2,723.5 389.3,723.5 411,717.5 431.7,709.6 452.6,699.7 452.8,699.6 468.6,693.8 473.9,688.5 469.3,685.6 453.9,686.6 432.4,689.1 412.3,692.6 390.5,696.5 370.2,701 370.1,701.1 353.4,704 332.6,709 332.6,709 311.6,714 311.4,714.1 290.4,717.6 269.6,721.1 269.6,721.1 250.4,724.1 250.3,724.1 227.7,726.6 227.5,726.6 213.1,727.1 191.8,728.1 170.4,730.1 160.5,732 160.3,732.1 160,732.1 146.8,732.1 145.6,740.4 145.5,740.6 145.4,740.9 145.3,741.1 145.2,741.4 145,741.6 144.9,741.8 144.7,742 141.7,744.5 141.5,744.7 141.2,744.8 141,744.9 140.8,745 140.5,745 125.5,748 125.3,748.1 95.5,752.1"/>
<path fill="#ff0000" d="M76.7 756.5a2 2 0 1 0 4 0a2 2 0 1 0 -4 0M81.5 756.2a2 2 0 1 0 4 0a2 2 0 1 0 -4 0M83.4 756.6a2 2 0 1 0 4 0a2 2 0 1 0 -4 0M86.5 756.8a2 2 0 1 0 4 0a2 2 0 1 0 -4 0M88.5 755.8a2 2 0 1 0 4 0a2 2 0 1 0 -4 0M90.3 756.6a2 2 0 1 0 4 0a2 2 0 1 0 -4 0M92.3 756.7a2 2 0 1 0 4 0a2 2 0 1 0 -4 0M95.6 756.3a2 2 0 1 0 4 0a2 2 0 1 0 -4 0M100.1 756.1a2 2 0 1 0 4 0a2 2 0 1 0 -4 0M101.3 756.1a2 2 0 1 0 4 0a2 2 0 1 0 -4 0M103.5 756a2 2 0 1 0 4 0a2 2 0 1 0 -4 0M107.6 756.3a2 2 0 1 0 4 0a2 2 0 1 0 -4 0M110.9 755.3a2 2 0 1 0 4 0a2 2 0 1 0 -4 0M113 756.5a2 2 0 1 0 4 0a2 2 0 1 0 -4 0M114.7 755.9a2 2 0 1 0 4 0a2 2 0 1 0 -4 0M116.2 755.7a2 2 0 1 0 4 0a2 2 0 1 0 -4 0M121 756.2a2 2 0 1 0 4 0a2 2 0 1 0 -4 0M123.8 755.8a2 2 0 1 0 4 0a2 2 0 1 0 -4 0M125 756.6a2 2 0 1 0 4 0a2 2 0 1 0 -4 0M127.6 755.6a2 2 0 1 0 4 0a2 2 0 1 0 -4 0M129.6 755.8a2 2 0 1 0 4 0a2 2 0 1 0 -4 0M131.8 756.1a2 2 0 1 0 4 0a2 2 0 1 0 -4 0M133.9 756.7a2 2 0 1 0 4 0a2 2 0 1 0 -4 0M136.6 755.8a2 2 0 1 0 4 0a2 2 0 1 0 -4 0M138.6 756a2 2 0 1 0 4 0a2 2 0 1 0 -4 0M140.8 755.9a2 2 0 1 0 4 0a2 2 0 1 0 -4 0M145.5 755.6a2 2 0 1 0 4 0a2 2 0 1 0 -4 0M152.7 755.9a2 2 0 1 0 4 0a2 2 0 1 0 -4 0M153.6 755.7a2 2 0 1 0 4 0a2 2 0 1 0 -4 0M156.1 756.6a2 2 0 1 0 4 0a2 2 0 1 0 -4 0M161.5 755.8a2 2 0 1 0 4 0a2 2 0 1 0 -4 0M162.7 756.8a2 2 0 1 0 4 0a2 2 0 1 0 -4 0M165.6 756.6a2 2 0 1 0 4 0a2 2 0 1 0 -4 0M167.6 756.4a2 2 0 1 0 4 0a2 2 0 1 0 -4 0M169.9 755.8a2 2 0 1 0 4 0a2 2 0 1 0 -4 0M171.6 756.9a2 2 0 1 0 4 0a2 2 0 1 0 -4 0M173.5 755.6a2 2 0 1 0 4 0a2 2 0 1 0 -4 0M176.5 756.9a2 2 0 1 0 4 0a2 2 0 1 0 -4 0M181.3 756.9a2 2 0 1 0 4 0a2 2 0 1 0 -4 0M187.7 756.4a2 2 0 1 0 4 0a2 2 0 1 0 -4 0M196.8 756.3a2 2 0 1 0 4 0a2 2 0 1 0 -4 0M200.9 756.7a2 2 0 1 0 4 0a2 2 0 1 0 -4 0M204.5 755.5a2 2 0 1 0 4 0a2 2 0 1 0 -4 0M207.5 755.4a2 2 0 1 0 4 0a2 2 0 1 0 -4 0M208.9 755.6a2 2 0 1 0 4 0a2 2 0 1 0 -4 0M211.8 756.4a2 2 0 1 0 4 0a2 2 0 1 0 -4 0M215.5 756.7a2 2 0 1 0 4 0a2 2 0 1 0 -4 0M219 756.4a2 2 0 1 0 4 0a2 2 0 1 0 -4 0M220.3 755.7a2 2 0 1 0 4 0a2 2 0 1 0 -4 0M222.4 756.7a2 2 0 1 0 4 0a2 2 0 1 0 -4 0M227.9 756.8a2 2 0 1 0 4 0a2 2 0 1 0 -4 0M230 756.8a2 2 0 1 0 4 0a2 2 0 1 0 -4 0M234 756.5a2 2 0 1 0 4 0a2 2 0 1 0 -4 0M235.9 755.4a2 2 0 1 0 4 0a2 2 0 1 0 -4 0M238.6 755.8a2 2 0 1 0 4 0a2 2 0 1 0 -4 0M242.9 755.8a2 2 0 1 0 4 0a2 2 0 1 0 -4 0M245.1 755.7a2 2 0 1 0 4 0a2 2 0 1 0 -4 0M246.9 756.1a2 2 0 1 0 4 0a2 2 0 1 0 -4 0M251.3 756a2 2 0 1 0 4 0a2 2 0 1 0 -4 0M253 755.8a2 2 0 1 0 4 0a2 2 0 1 0 -4 0M256.5 756.3a2 2 0 1 0 4 0a2 2 0 1 0 -4 0M258.8 756.6a2 2 0 1 0 4 0a2 2 0 1 0 -4 0M260 755.4a2 2 0 1 0 4 0a2 2 0 1 0 -4 0M265.2 756.4a2 2 0 1 0 4 0a2 2 0 1 0 -4 0M268.6 755.4a2 2 0 1 0 4 0a2 2 0 1 0 -4 0M270.5 756.1a2 2 0 1 0 4 0a2 2 0 1 0 -4 0M275.6 756.2a2 2 0 1 0 4 0a2 2 0 1 0 -4 0M277.4 756.3a2 2 0 1 0 4 0a2 2 0 1 0 -4 0M279.5 755.7a2 2 0 1 0 4 0a2 2 0 1 0 -4 0M286.8 756a2 2 0 1 0 4 0a2 2 0 1 0 -4 0M288.5 756.3a2 2 0 1 0 4 0a2 2 0 1 0 -4 0M291.8 755.8a2 2 0 1 0 4 0a2 2 0 1 0 -4 0M294 755.5a2 2 0 1 0 4 0a2 2 0 1 0 -4 0M295.5 755.8a2 2 0 1 0 4 0a2 2 0 1 0 -4 0M297.8 756.8a2 2 0 1 0 4 0a2 2 0 1 0 -4 0M299.2 755.9a2 2 0 1 0 4 0a2 2 0 1 0 -4 0M303.4 754.8a2 2 0 1 0 4 0a2 2 0 1 0 -4 0M305.7 753.8a2 2 0 1 0 4 0a2 2 0 1 0 -4 0M308.2 752.2a2 2 0 1 0 4 0a2 2 0 1 0 -4 0M310.3 752.4a2 2 0 1 0 4 0a2 2 0 1 0 -4 0M314.1 749.3a2 2 0 1 0 4 0a2 2 0 1 0 -4 0M315.4 749.7a2 2 0 1 0 4 0a2 2 0 1 0 -4 0M320.3 748.3a2 2 0 1 0 4 0a2 2 0 1 0 -4 0M324.2 745.8a2 2 0 1 0 4 0a2 2 0 1 0 -4 0M325.5 745.1a2 2 0 1 0 4 0a2 2 0 1 0 -4 0M327.5 744.7a2 2 0 1 0 4 0a2 2 0 1 0 -4 0M329.7 744.4a2 2 0 1 0 4 0a2 2 0 1 0 -4 0M332.4 743a2 2 0 1 0 4 0a2 2 0 1 0 -4 0M335.2 742.8a2 2 0 1 0 4 0a2 2 0 1 0 -4 0M339.3 741.7a2 2 0 1 0 4 0a2 2 0 1 0 -4 0M342.3 739.1a2 2 0 1 0 4 0a2 2 0 1 0 -4 0M345.3 738.4a2 2 0 1 0 4 0a2 2 0 1 0 -4 0M346.8 738.8a2 2 0 1 0 4 0a2 2 0 1 0 -4 0M349.5 738.5a2 2 0 1 0 4 0a2 2 0 1 0 -4 0M351.1 737.4a2 2 0 1 0 4 0a2 2 0 1 0 -4 0M353.9 737.1a2 2 0 1 0 4 0a2 2 0 1 0 -4 0M355.3 734.9a2 2 0 1 0 4 0a2 2 0 1 0 -4 0M357.3 735.5a2 2 0 1 0 4 0a2 2 0 1 0 -4 0M368 730.2a2 2 0 1 0 4 0a2 2 0 1 0 -4 0M370.5 730.9a2 2 0 1 0 4 0a2 2 0 1 0 -4 0M371.9 729.3a2 2 0 1 0 4 0a2 2 0 1 0 -4 0M374.2 728.4a2 2 0 1 0 4 0a2 2 0 1 0 -4 0M378.7 727.7a2 2 0 1 0 4 0a2 2 0 1 0 -4 0M382.6 726.5a2 2 0 1 0 4 0a2 2 0 1 0 -4 0M383.8 725.8a2 2 0 1 0 4 0a2 2 0 1 0 -4 0M387 725.1a2 2 0 1 0 4 0a2 2 0 1 0 -4 0M389.3 724.3a2 2 0 1 0 4 0a2 2 0 1 0 -4 0M393.6 722.2a2 2 0 1 0 4 0a2 2 0 1 0 -4 0M395.2 722.6a2 2 0 1 0 4 0a2 2 0 1 0 -4 0M396.5 722.3a2 2 0 1 0 4 0a2 2 0 1 0 -4 0M400 720.7a2 2 0 1 0 4 0a2 2 0 1 0 -4 0M403.2 719.7a2 2 0 1 0 4 0a2 2 0 1 0 -4 0M405.8 719a2 2 0 1 0 4 0a2 2 0 1 0 -4 0M407.5 718.2a2 2 0 1 0 4 0a2 2 0 1 0 -4 0M409.6 718.8a2 2 0 1 0 4 0a2 2 0 1 0 -4 0M411.6 717.7a2 2 0 1 0 4 0a2 2 0 1 0 -4 0M416.5 715.5a2 2 0 1 0 4 0a2 2 0 1 0 -4 0M419.5 713.4a2 2 0 1 0 4 0a2 2 0 1 0 -4 0M422.5 713a2 2 0 1 0 4 0a2 2 0 1 0 -4 0M424.2 712.4a2 2 0 1 0 4 0a2 2 0 1 0 -4 0M426.5 712.1a2 2 0 1 0 4 0a2 2 0 1 0 -4 0M429.1 710.6a2 2 0 1 0 4 0a2 2 0 1 0 -4 0M430.1 710.5a2 2 0 1 0 4 0a2 2 0 1 0 -4 0M432.7 709.1a2 2 0 1 0 4 0a2 2 0 1 0 -4 0M433.9 709.1a2 2 0 1 0 4 0a2 2 0 1 0 -4 0M436.2 707.9a2 2 0 1 0 4 0a2 2 0 1 0 -4 0M439 706.3a2 2 0 1 0 4 0a2 2 0 1 0 -4 0M440.6 705.1a2 2 0 1 0 4 0a2 2 0 1 0 -4 0M443.3 705.2a2 2 0 1 0 4 0a2 2 0 1 0 -4 0M445 703.8a2 2 0 1 0 4 0a2 2 0 1 0 -4 0M445.9 702.7a2 2 0 1 0 4 0a2 2 0 1 0 -4 0M448.9 701.8a2 2 0 1 0 4 0a2 2 0 1 0 -4 0M450.9 701.5a2 2 0 1 0 4 0a2 2 0 1 0 -4 0M453.2 699.8a2 2 0 1 0 4 0a2 2 0 1 0 -4 0M454.5 698.9a2 2 0 1 0 4 0a2 2 0 1 0 -4 0M459.4 697.1a2 2 0 1 0 4 0a2 2 0 1 0 -4 0M460 696.1a2 2 0 1 0 4 0a2 2 0 1 0 -4 0M464.5 695.2a2 2 0 1 0 4 0a2 2 0 1 0 -4 0M467.8 693.4a2 2 0 1 0 4 0a2 2 0 1 0 -4 0M469.5 692.2a2 2 0 1 0 4 0a2 2 0 1 0 -4 0M469.9 685.4a2 2 0 1 0 4 0a2 2 0 1 0 -4 0M467.5 684.6a2 2 0 1 0 4 0a2 2 0 1 0 -4 0M464.9 685.3a2 2 0 1 0 4 0a2 2 0 1 0 -4 0M461.2 684.4a2 2 0 1 0 4 0a2 2 0 1 0 -4 0M458.5 686a2 2 0 1 0 4 0a2 2 0 1 0 -4 0M456.8 685a2 2 0 1 0 4 0a2 2 0 1 0 -4 0M452.1 685.2a2 2 0 1 0 4 0a2 2 0 1 0 -4 0M448.6 685.9a2 2 0 1 0 4 0a2 2 0 1 0 -4 0M445.7 685.7a2 2 0 1 0 4 0a2 2 0 1 0 -4 0M443.7 686.8a2 2 0 1 0 4 0a2 2 0 1 0 -4 0M440.9 686.9a2 2 0 1 0 4 0a2 2 0 1 0 -4 0M439.2 687.4a2 2 0 1 0 4 0a2 2 0 1 0 -4 0M436.3 686.7a2 2 0 1 0 4 0a2 2 0 1 0 -4 0M430.2 687.8a2 2 0 1 0 4 0a2 2 0 1 0 -4 0M426.5 688.2a2 2 0 1 0 4 0a2 2 0 1 0 -4 0M423.5 689.5a2 2 0 1 0 4 0a2 2 0 1 0 -4 0M422.4 690.2a2 2 0 1 0 4 0a2 2 0 1 0 -4 0M420.4 690.8a2 2 0 1 0 4 0a2 2 0 1 0 -4 0M415.1 690.2a2 2 0 1 0 4 0a2 2 0 1 0 -4 0M413.1 690.5a2 2 0 1 0 4 0a2 2 0 1 0 -4 0M410.9 691.7a2 2 0 1 0 4 0a2 2 0 1 0 -4 0M408.7 692.1a2 2 0 1 0 4 0a2 2 0 1 0 -4 0M406.9 692.2a2 2 0 1 0 4 0a2 2 0 1 0 -4 0M405 692a2 2 0 1 0 4 0a2 2 0 1 0 -4 0M401.8 693.3a2 2 0 1 0 4 0a2 2 0 1 0 -4 0M399.4 693.5a2 2 0 1 0 4 0a2 2 0 1 0 -4 0M398.2 693.2a2 2 0 1 0 4 0a2 2 0 1 0 -4 0M393.4 694.1a2 2 0 1 0 4 0a2 2 0 1 0 -4 0M389.7 695.5a2 2 0 1 0 4 0a2 2 0 1 0 -4 0M386.9 695.3a2 2 0 1 0 4 0a2 2 0 1 0 -4 0M385.4 695.6a2 2 0 1 0 4 0a2 2 0 1 0 -4 0M382 697.3a2 2 0 1 0 4 0a2 2 0 1 0 -4 0M378.2 698.6a2 2 0 1 0 4 0a2 2 0 1 0 -4 0M376 699.1a2 2 0 1 0 4 0a2 2 0 1 0 -4 0M372.3 699.7a2 2 0 1 0 4 0a2 2 0 1 0 -4 0M369.1 699.5a2 2 0 1 0 4 0a2 2 0 1 0 -4 0M368.4 700.1a2 2 0 1 0 4 0a2 2 0 1 0 -4 0M365.3 700.8a2 2 0 1 0 4 0a2 2 0 1 0 -4 0M364 701.7a2 2 0 1 0 4 0a2 2 0 1 0 -4 0M360.4 701.1a2 2 0 1 0 4 0a2 2 0 1 0 -4 0M359.4 702.4a2 2 0 1 0 4 0a2 2 0 1 0 -4 0M357.6 701.7a2 2 0 1 0 4 0a2 2 0 1 0 -4 0M354.5 702.5a2 2 0 1 0 4 0a2 2 0 1 0 -4 0M353.2 703.3a2 2 0 1 0 4 0a2 2 0 1 0 -4 0M349.9 703a2 2 0 1 0 4 0a2 2 0 1 0 -4 0M348.5 704.3a2 2 0 1 0 4 0a2 2 0 1 0 -4 0M343.4 704.7a2 2 0 1 0 4 0a2 2 0 1 0 -4 0M340 706.5a2 2 0 1 0 4 0a2 2 0 1 0 -4 0M337.3 706.9a2 2 0 1 0 4 0a2 2 0 1 0 -4 0M336.1 706.6a2 2 0 1 0 4 0a2 2 0 1 0 -4 0M331.6 708.2a2 2 0 1 0 4 0a2 2 0 1 0 -4 0M329.5 707.8a2 2 0 1 0 4 0a2 2 0 1 0 -4 0M326.7 709.5a2 2 0 1 0 4 0a2 2 0 1 0 -4 0M325.1 708.9a2 2 0 1 0 4 0a2 2 0 1 0 -4 0M322.4 710.4a2 2 0 1 0 4 0a2 2 0 1 0 -4 0M320.9 710.9a2 2 0 1 0 4 0a2 2 0 1 0 -4 0M318.2 710.9a2 2 0 1 0 4 0a2 2 0 1 0 -4 0M313.4 711.7a2 2 0 1 0 4 0a2 2 0 1 0 -4 0M312.2 712.9a2 2 0 1 0 4 0a2 2 0 1 0 -4 0M309.5 713.7a2 2 0 1 0 4 0a2 2 0 1 0 -4 0M306 713.1a2 2 0 1 0 4 0a2 2 0 1 0 -4 0M301.6 713.8a2 2 0 1 0 4 0a2 2 0 1 0 -4 0M299.4 715.4a2 2 0 1 0 4 0a2 2 0 1 0 -4 0M296 714.9a2 2 0 1 0 4 0a2 2 0 1 0 -4 0M289.8 716.6a2 2 0 1 0 4 0a2 2 0 1 0 -4 0M287.4 717.3a2 2 0 1 0 4 0a2 2 0 1 0 -4 0M285.9 717a2 2 0 1 0 4 0a2 2 0 1 0 -4 0M284.1 717.9a2 2 0 1 0 4 0a2 2 0 1 0 -4 0M279.7 718.7a2 2 0 1 0 4 0a2 2 0 1 0 -4 0M276.5 718.9a2 2 0 1 0 4 0a2 2 0 1 0 -4 0M273.3 718.6a2 2 0 1 0 4 0a2 2 0 1 0 -4 0M271 720.1a2 2 0 1 0 4 0a2 2 0 1 0 -4 0M268.4 719.9a2 2 0 1 0 4 0a2 2 0 1 0 -4 0M263.6 721.1a2 2 0 1 0 4 0a2 2 0 1 0 -4 0M261.5 721.4a2 2 0 1 0 4 0a2 2 0 1 0 -4 0M259.6 720.9a2 2 0 1 0 4 0a2 2 0 1 0 -4 0M257.3 721.1a2 2 0 1 0 4 0a2 2 0 1 0 -4 0M255 721.8a2 2 0 1 0 4 0a2 2 0 1 0 -4 0M253.7 723a2 2 0 1 0 4 0a2 2 0 1 0 -4 0M250.3 722.1a2 2 0 1 0 4 0a2 2 0 1 0 -4 0M239.4 723.4a2 2 0 1 0 4 0a2 2 0 1 0 -4 0M238.2 723.7a2 2 0 1 0 4 0a2 2 0 1 0 -4 0M234.9 724.1a2 2 0 1 0 4 0a2 2 0 1 0 -4 0M233.6 725.5a2 2 0 1 0 4 0a2 2 0 1 0 -4 0M230.7 724.4a2 2 0 1 0 4 0a2 2 0 1 0 -4 0M228.2 724.5a2 2 0 1 0 4 0a2 2 0 1 0 -4 0M226.8 725.5a2 2 0 1 0 4 0a2 2 0 1 0 -4 0M221.7 725.2a2 2 0 1 0 4 0a2 2 0 1 0 -4 0M213.3 726a2 2 0 1 0 4 0a2 2 0 1 0 -4 0M211 725.6a2 2 0 1 0 4 0a2 2 0 1 0 -4 0M209.8 727a2 2 0 1 0 4 0a2 2 0 1 0 -4 0M205.1 726a2 2 0 1 0 4 0a2 2 0 1 0 -4 0M201.8 726.3a2 2 0 1 0 4 0a2 2 0 1 0 -4 0M197.7 726.8a2 2 0 1 0 4 0a2 2 0 1 0 -4 0M195.5 726.8a2 2 0 1 0 4 0a2 2 0 1 0 -4 0M192.3 727.5a2 2 0 1 0 4 0a2 2 0 1 0 -4 0M190 727.5a2 2 0 1 0 4 0a2 2 0 1 0 -4 0M186.6 727.7a2 2 0 1 0 4 0a2 2 0 1 0 -4 0M184.9 727.1a2 2 0 1 0 4 0a2 2 0 1 0 -4 0M183.5 728a2 2 0 1 0 4 0a2 2 0 1 0 -4 0M180.7 728.3a2 2 0 1 0 4 0a2 2 0 1 0 -4 0M178 727.8a2 2 0 1 0 4 0a2 2 0 1 0 -4 0M176.9 729a2 2 0 1 0 4 0a2 2 0 1 0 -4 0M173.6 728.8a2 2 0 1 0 4 0a2 2 0 1 0 -4 0M171.8 729.3a2 2 0 1 0 4 0a2 2 0 1 0 -4 0M166.9 729.3a2 2 0 1 0 4 0a2 2 0 1 0 -4 0M166 729.2a2 2 0 1 0 4 0a2 2 0 1 0 -4 0M163 730.7a2 2 0 1 0 4 0a2 2 0 1 0 -4 0M160.7 731a2 2 0 1 0 4 0a2 2 0 1 0 -4 0M158.2 730.4a2 2 0 1 0 4 0a2 2 0 1 0 -4 0M154.4 731.5a2 2 0 1 0 4 0a2 2 0 1 0 -4 0M149.7 731.9a2 2 0 1 0 4 0a2 2 0 1 0 -4 0M148.2 731.1a2 2 0 1 0 4 0a2 2 0 1 0 -4 0M145.1 731.9a2 2 0 1 0 4 0a2 2 0 1 0 -4 0M143.6 731.1a2 2 0 1 0 4 0a2 2 0 1 0 -4 0M142.4 738a2 2 0 1 0 4 0a2 2 0 1 0 -4 0M142.6 741.1a2 2 0 1 0 4 0a2 2 0 1 0 -4 0M140.2 743.2a2 2 0 1 0 4 0a2 2 0 1 0 -4 0M137 744.5a2 2 0 1 0 4 0a2 2 0 1 0 -4 0M134.6 744.8a2 2 0 1 0 4 0a2 2 0 1 0 -4 0M129.3 746.1a2 2 0 1 0 4 0a2 2 0 1 0 -4 0M126.9 746a2 2 0 1 0 4 0a2 2 0 1 0 -4 0M124.4 746.6a2 2 0 1 0 4 0a2 2 0 1 0 -4 0M121.7 747.5a2 2 0 1 0 4 0a2 2 0 1 0 -4 0M120 746.9a2 2 0 1 0 4 0a2 2 0 1 0 -4 0M117.2 748.4a2 2 0 1 0 4 0a2 2 0 1 0 -4 0M116.2 747.9a2 2 0 1 0 4 0a2 2 0 1 0 -4 0M110.8 749a2 2 0 1 0 4 0a2 2 0 1 0 -4 0M109.6 749a2 2 0 1 0 4 0a2 2 0 1 0 -4 0M107.1 748.9a2 2 0 1 0 4 0a2 2 0 1 0 -4 0M104.1 749.2a2 2 0 1 0 4 0a2 2 0 1 0 -4 0M102 749.8a2 2 0 1 0 4 0a2 2 0 1 0 -4 0M100.6 750.3a2 2 0 1 0 4 0a2 2 0 1 0 -4 0M98.4 750.5a2 2 0 1 0 4 0a2 2 0 1 0 -4 0M93.5 750.3a2 2 0 1 0 4 0a2 2 0 1 0 -4 0M87.9 752.7a2 2 0 1 0 4 0a2 2 0 1 0 -4 0M80.6 753.9a2 2 0 1 0 4 0a2 2 0 1 0 -4 0"/>
<path fill="#ff0000" d="M529.3 681.2a2 2 0 1 0 4 0a2 2 0 1 0 -4 0M533.1 679.3a2 2 0 1 0 4 0a2 2 0 1 0 -4 0M527.6 677.9a2 2 0 1 0 4 0a2 2 0 1 0 -4 0M571.9 682.9a2 2 0 1 0 4 0a2 2 0 1 0 -4 0M509.4 688.6a2 2 0 1 0 4 0a2 2 0 1 0 -4 0M561.7 683.3a2 2 0 1 0 4 0a2 2 0 1 0 -4 0M576.7 675.1a2 2 0 1 0 4 0a2 2 0 1 0 -4 0M488 691.6a2 2 0 1 0 4 0a2 2 0 1 0 -4 0M492.3 681.3a2 2 0 1 0 4 0a2 2 0 1 0 -4 0M525.5 689.6a2 2 0 1 0 4 0a2 2 0 1 0 -4 0M549.3 683.2a2 2 0 1 0 4 0a2 2 0 1 0 -4 0M533 680.8a2 2 0 1 0 4 0a2 2 0 1 0 -4 0M575.5 678.7a2 2 0 1 0 4 0a2 2 0 1 0 -4 0M488.9 696.4a2 2 0 1 0 4 0a2 2 0 1 0 -4 0M546.4 678a2 2 0 1 0 4 0a2 2 0 1 0 -4 0M483.9 697.9a2 2 0 1 0 4 0a2 2 0 1 0 -4 0M471.6 696.5a2 2 0 1 0 4 0a2 2 0 1 0 -4 0M507.6 685.5a2 2 0 1 0 4 0a2 2 0 1 0 -4 0M480.6 683.3a2 2 0 1 0 4 0a2 2 0 1 0 -4 0M508.3 686.1a2 2 0 1 0 4 0a2 2 0 1 0 -4 0M537.1 682.6a2 2 0 1 0 4 0a2 2 0 1 0 -4 0M589 670.5a2 2 0 1 0 4 0a2 2 0 1 0 -4 0M534.4 682.5a2 2 0 1 0 4 0a2 2 0 1 0 -4 0M562.2 674.9a2 2 0 1 0 4 0a2 2 0 1 0 -4 0M499.3 693.9a2 2 0 1 0 4 0a2 2 0 1 0 -4 0M502.4 682.5a2 2 0 1 0 4 0a2 2 0 1 0 -4 0M570.1 678a2 2 0 1 0 4 0a2 2 0 1 0 -4 0M489.8 692.6a2 2 0 1 0 4 0a2 2 0 1 0 -4 0M551.6 681.9a2 2 0 1 0 4 0a2 2 0 1 0 -4 0M493.7 696.8a2 2 0 1 0 4 0a2 2 0 1 0 -4 0M580.7 676.6a2 2 0 1 0 4 0a2 2 0 1 0 -4 0M539 683.9a2 2 0 1 0 4 0a2 2 0 1 0 -4 0M482.9 692.3a2 2 0 1 0 4 0a2 2 0 1 0 -4 0M526.1 688.7a2 2 0 1 0 4 0a2 2 0 1 0 -4 0M556.3 674a2 2 0 1 0 4 0a2 2 0 1 0 -4 0M579.1 681.5a2 2 0 1 0 4 0a2 2 0 1 0 -4 0M478.8 683.3a2 2 0 1 0 4 0a2 2 0 1 0 -4 0M549.5 681.2a2 2 0 1 0 4 0a2 2 0 1 0 -4 0M563.4 679.7a2 2 0 1 0 4 0a2 2 0 1 0 -4 0M575 671.9a2 2 0 1 0 4 0a2 2 0 1 0 -4 0M523 686.5a2 2 0 1 0 4 0a2 2 0 1 0 -4 0M489.9 683a2 2 0 1 0 4 0a2 2 0 1 0 -4 0M590.4 671a2 2 0 1 0 4 0a2 2 0 1 0 -4 0M567.1 683.4a2 2 0 1 0 4 0a2 2 0 1 0 -4 0M485.9 696.1a2 2 0 1 0 4 0a2 2 0 1 0 -4 0M518.3 687.3a2 2 0 1 0 4 0a2 2 0 1 0 -4 0M514.4 685.9a2 2 0 1 0 4 0a2 2 0 1 0 -4 0M498.1 680.5a2 2 0 1 0 4 0a2 2 0 1 0 -4 0M504.4 691.4a2 2 0 1 0 4 0a2 2 0 1 0 -4 0M479.2 696.8a2 2 0 1 0 4 0a2 2 0 1 0 -4 0M479.8 684.4a2 2 0 1 0 4 0a2 2 0 1 0 -4 0M473.7 688.3a2 2 0 1 0 4 0a2 2 0 1 0 -4 0M513.1 688.3a2 2 0 1 0 4 0a2 2 0 1 0 -4 0M542.9 679.7a2 2 0 1 0 4 0a2 2 0 1 0 -4 0M495.5 682.7a2 2 0 1 0 4 0a2 2 0 1 0 -4 0M470.1 693.9a2 2 0 1 0 4 0a2 2 0 1 0 -4 0M478.9 690.1a2 2 0 1 0 4 0a2 2 0 1 0 -4 0M483.4 683.2a2 2 0 1 0 4 0a2 2 0 1 0 -4 0M474.9 686.7a2 2 0 1 0 4 0a2 2 0 1 0 -4 0M569.8 679.1a2 2 0 1 0 4 0a2 2 0 1 0 -4 0M589.3 672.7a2 2 0 1 0 4 0a2 2 0 1 0 -4 0M481.7 696.7a2 2 0 1 0 4 0a2 2 0 1 0 -4 0M497.2 693.9a2 2 0 1 0 4 0a2 2 0 1 0 -4 0M484.7 685.5a2 2 0 1 0 4 0a2 2 0 1 0 -4 0M543.3 687.3a2 2 0 1 0 4 0a2 2 0 1 0 -4 0M581 671.1a2 2 0 1 0 4 0a2 2 0 1 0 -4 0M536.3 677.3a2 2 0 1 0 4 0a2 2 0 1 0 -4 0M502.2 694a2 2 0 1 0 4 0a2 2 0 1 0 -4 0M471.1 687.1a2 2 0 1 0 4 0a2 2 0 1 0 -4 0M472.8 689.3a2 2 0 1 0 4 0a2 2 0 1 0 -4 0M485.5 694.1a2 2 0 1 0 4 0a2 2 0 1 0 -4 0M470.6 691.4a2 2 0 1 0 4 0a2 2 0 1 0 -4 0M530.2 686a2 2 0 1 0 4 0a2 2 0 1 0 -4 0M579.3 678.8a2 2 0 1 0 4 0a2 2 0 1 0 -4 0M516.1 688.5a2 2 0 1 0 4 0a2 2 0 1 0 -4 0M476.7 698a2 2 0 1 0 4 0a2 2 0 1 0 -4 0M597.5 671.6a2 2 0 1 0 4 0a2 2 0 1 0 -4 0M491.4 682.8a2 2 0 1 0 4 0a2 2 0 1 0 -4 0M501 688.7a2 2 0 1 0 4 0a2 2 0 1 0 -4 0M565.7 680.6a2 2 0 1 0 4 0a2 2 0 1 0 -4 0M550.3 682.7a2 2 0 1 0 4 0a2 2 0 1 0 -4 0M545.7 674.8a2 2 0 1 0 4 0a2 2 0 1 0 -4 0M496.3 681.2a2 2 0 1 0 4 0a2 2 0 1 0 -4 0M495.8 696.2a2 2 0 1 0 4 0a2 2 0 1 0 -4 0M562.7 684.6a2 2 0 1 0 4 0a2 2 0 1 0 -4 0M507 683.7a2 2 0 1 0 4 0a2 2 0 1 0 -4 0M493.7 691.3a2 2 0 1 0 4 0a2 2 0 1 0 -4 0M509.6 687.8a2 2 0 1 0 4 0a2 2 0 1 0 -4 0M576.1 677.6a2 2 0 1 0 4 0a2 2 0 1 0 -4 0M483.2 697.5a2 2 0 1 0 4 0a2 2 0 1 0 -4 0M574.2 675.9a2 2 0 1 0 4 0a2 2 0 1 0 -4 0M538.8 678.4a2 2 0 1 0 4 0a2 2 0 1 0 -4 0M536.9 685.2a2 2 0 1 0 4 0a2 2 0 1 0 -4 0M550.1 675.5a2 2 0 1 0 4 0a2 2 0 1 0 -4 0M516.5 683.6a2 2 0 1 0 4 0a2 2 0 1 0 -4 0M468.5 699.9a2 2 0 1 0 4 0a2 2 0 1 0 -4 0M517 683.6a2 2 0 1 0 4 0a2 2 0 1 0 -4 0M543 675.8a2 2 0 1 0 4 0a2 2 0 1 0 -4 0M578.4 677.1a2 2 0 1 0 4 0a2 2 0 1 0 -4 0M534.5 687.9a2 2 0 1 0 4 0a2 2 0 1 0 -4 0M473.4 686.9a2 2 0 1 0 4 0a2 2 0 1 0 -4 0M573 677.4a2 2 0 1 0 4 0a2 2 0 1 0 -4 0M541.4 681.1a2 2 0 1 0 4 0a2 2 0 1 0 -4 0M538.1 676.2a2 2 0 1 0 4 0a2 2 0 1 0 -4 0M575.8 672a2 2 0 1 0 4 0a2 2 0 1 0 -4 0M577.2 682.1a2 2 0 1 0 4 0a2 2 0 1 0 -4 0M541.7 680.2a2 2 0 1 0 4 0a2 2 0 1 0 -4 0M493.3 691.4a2 2 0 1 0 4 0a2 2 0 1 0 -4 0M475.8 690.1a2 2 0 1 0 4 0a2 2 0 1 0 -4 0M548.7 682.1a2 2 0 1 0 4 0a2 2 0 1 0 -4 0M571.5 682a2 2 0 1 0 4 0a2 2 0 1 0 -4 0M546.6 677.6a2 2 0 1 0 4 0a2 2 0 1 0 -4 0M510.5 690.4a2 2 0 1 0 4 0a2 2 0 1 0 -4 0M577.4 673.4a2 2 0 1 0 4 0a2 2 0 1 0 -4 0M491.1 684.7a2 2 0 1 0 4 0a2 2 0 1 0 -4 0M473.9 683a2 2 0 1 0 4 0a2 2 0 1 0 -4 0M590.2 671.6a2 2 0 1 0 4 0a2 2 0 1 0 -4 0M487.5 684.9a2 2 0 1 0 4 0a2 2 0 1 0 -4 0M544.8 682.9a2 2 0 1 0 4 0a2 2 0 1 0 -4 0M540.9 685.5a2 2 0 1 0 4 0a2 2 0 1 0 -4 0M542.5 679.9a2 2 0 1 0 4 0a2 2 0 1 0 -4 0M498.9 688.1a2 2 0 1 0 4 0a2 2 0 1 0 -4 0M510.5 686.9a2 2 0 1 0 4 0a2 2 0 1 0 -4 0M558.4 675.7a2 2 0 1 0 4 0a2 2 0 1 0 -4 0M522.9 686.1a2 2 0 1 0 4 0a2 2 0 1 0 -4 0M567.5 675.3a2 2 0 1 0 4 0a2 2 0 1 0 -4 0M492.1 685.1a2 2 0 1 0 4 0a2 2 0 1 0 -4 0M470.1 683.5a2 2 0 1 0 4 0a2 2 0 1 0 -4 0M548.2 678.7a2 2 0 1 0 4 0a2 2 0 1 0 -4 0M551.6 685.8a2 2 0 1 0 4 0a2 2 0 1 0 -4 0M468.3 683.6a2 2 0 1 0 4 0a2 2 0 1 0 -4 0M594.5 670.5a2 2 0 1 0 4 0a2 2 0 1 0 -4 0M535.3 681.8a2 2 0 1 0 4 0a2 2 0 1 0 -4 0M525.2 686.8a2 2 0 1 0 4 0a2 2 0 1 0 -4 0M544.5 686.3a2 2 0 1 0 4 0a2 2 0 1 0 -4 0M481.3 681.7a2 2 0 1 0 4 0a2 2 0 1 0 -4 0M493 693.9a2 2 0 1 0 4 0a2 2 0 1 0 -4 0M555.9 674.2a2 2 0 1 0 4 0a2 2 0 1 0 -4 0M516 686.5a2 2 0 1 0 4 0a2 2 0 1 0 -4 0M599 673.3a2 2 0 1 0 4 0a2 2 0 1 0 -4 0M502.2 688.6a2 2 0 1 0 4 0a2 2 0 1 0 -4 0M479 682.2a2 2 0 1 0 4 0a2 2 0 1 0 -4 0M527.5 682.5a2 2 0 1 0 4 0a2 2 0 1 0 -4 0M486.3 694.7a2 2 0 1 0 4 0a2 2 0 1 0 -4 0M567.3 676.8a2 2 0 1 0 4 0a2 2 0 1 0 -4 0M510.4 691.8a2 2 0 1 0 4 0a2 2 0 1 0 -4 0M492.5 684.9a2 2 0 1 0 4 0a2 2 0 1 0 -4 0M568.9 680.8a2 2 0 1 0 4 0a2 2 0 1 0 -4 0M484.4 691a2 2 0 1 0 4 0a2 2 0 1 0 -4 0M534.8 684a2 2 0 1 0 4 0a2 2 0 1 0 -4 0"/>
<path fill="#000000" d="M467.6 702a1.9 1.9 0 1 0 3.8 0a1.9 1.9 0 1 0 -3.8 0M444.2 712.3a1.9 1.9 0 1 0 3.8 0a1.9 1.9 0 1 0 -3.8 0M434.6 716.4a1.9 1.9 0 1 0 3.8 0a1.9 1.9 0 1 0 -3.8 0M442.4 712.6a1.9 1.9 0 1 0 3.8 0a1.9 1.9 0 1 0 -3.8 0M454.4 704.6a1.9 1.9 0 1 0 3.8 0a1.9 1.9 0 1 0 -3.8 0M468.3 704.7a1.9 1.9 0 1 0 3.8 0a1.9 1.9 0 1 0 -3.8 0M470.2 704.5a1.9 1.9 0 1 0 3.8 0a1.9 1.9 0 1 0 -3.8 0M463.2 707.6a1.9 1.9 0 1 0 3.8 0a1.9 1.9 0 1 0 -3.8 0M473.7 701.4a1.9 1.9 0 1 0 3.8 0a1.9 1.9 0 1 0 -3.8 0M469.9 700.7a1.9 1.9 0 1 0 3.8 0a1.9 1.9 0 1 0 -3.8 0M469.3 705.4a1.9 1.9 0 1 0 3.8 0a1.9 1.9 0 1 0 -3.8 0M438.5 710a1.9 1.9 0 1 0 3.8 0a1.9 1.9 0 1 0 -3.8 0M471.5 702.5a1.9 1.9 0 1 0 3.8 0a1.9 1.9 0 1 0 -3.8 0M455.4 708.7a1.9 1.9 0 1 0 3.8 0a1.9 1.9 0 1 0 -3.8 0M436.6 712.4a1.9 1.9 0 1 0 3.8 0a1.9 1.9 0 1 0 -3.8 0M448.4 710.4a1.9 1.9 0 1 0 3.8 0a1.9 1.9 0 1 0 -3.8 0M434.3 713.2a1.9 1.9 0 1 0 3.8 0a1.9 1.9 0 1 0 -3.8 0M446.2 711.8a1.9 1.9 0 1 0 3.8 0a1.9 1.9 0 1 0 -3.8 0M463.2 705a1.9 1.9 0 1 0 3.8 0a1.9 1.9 0 1 0 -3.8 0M441.6 713.2a1.9 1.9 0 1 0 3.8 0a1.9 1.9 0 1 0 -3.8 0M433.3 714.1a1.9 1.9 0 1 0 3.8 0a1.9 1.9 0 1 0 -3.8 0M474.2 704a1.9 1.9 0 1 0 3.8 0a1.9 1.9 0 1 0 -3.8 0M444.8 709.1a1.9 1.9 0 1 0 3.8 0a1.9 1.9 0 1 0 -3.8 0M433.2 712.2a1.9 1.9 0 1 0 3.8 0a1.9 1.9 0 1 0 -3.8 0M456.6 708.2a1.9 1.9 0 1 0 3.8 0a1.9 1.9 0 1 0 -3.8 0"/>
<path fill="#000000" d="M422.6 719.6a1.8 1.8 0 1 0 3.6 0a1.8 1.8 0 1 0 -3.6 0M416 720.7a1.8 1.8 0 1 0 3.6 0a1.8 1.8 0 1 0 -3.6 0M406.2 722.8a1.8 1.8 0 1 0 3.6 0a1.8 1.8 0 1 0 -3.6 0M412.2 722.1a1.8 1.8 0 1 0 3.6 0a1.8 1.8 0 1 0 -3.6 0M420 720.7a1.8 1.8 0 1 0 3.6 0a1.8 1.8 0 1 0 -3.6 0M427 717.6a1.8 1.8 0 1 0 3.6 0a1.8 1.8 0 1 0 -3.6 0M414.6 721a1.8 1.8 0 1 0 3.6 0a1.8 1.8 0 1 0 -3.6 0M406.2 722.5a1.8 1.8 0 1 0 3.6 0a1.8 1.8 0 1 0 -3.6 0M421.9 718.2a1.8 1.8 0 1 0 3.6 0a1.8 1.8 0 1 0 -3.6 0M408.3 723.1a1.8 1.8 0 1 0 3.6 0a1.8 1.8 0 1 0 -3.6 0"/>
<path fill="#ff0000" d="M505.2 676.5a2 2 0 1 0 4 0a2 2 0 1 0 -4 0M524.4 674.6a2 2 0 1 0 4 0a2 2 0 1 0 -4 0M458.9 679.1a2 2 0 1 0 4 0a2 2 0 1 0 -4 0M522 673.3a2 2 0 1 0 4 0a2 2 0 1 0 -4 0M414.4 687.7a2 2 0 1 0 4 0a2 2 0 1 0 -4 0M478.5 677.9a2 2 0 1 0 4 0a2 2 0 1 0 -4 0M506.7 675.4a2 2 0 1 0 4 0a2 2 0 1 0 -4 0M542.2 673.2a2 2 0 1 0 4 0a2 2 0 1 0 -4 0M404.8 684.7a2 2 0 1 0 4 0a2 2 0 1 0 -4 0M405.6 688.7a2 2 0 1 0 4 0a2 2 0 1 0 -4 0M382.2 690.4a2 2 0 1 0 4 0a2 2 0 1 0 -4 0M525.9 671.8a2 2 0 1 0 4 0a2 2 0 1 0 -4 0M553.6 670.2a2 2 0 1 0 4 0a2 2 0 1 0 -4 0M390.1 688.6a2 2 0 1 0 4 0a2 2 0 1 0 -4 0M545.2 671.5a2 2 0 1 0 4 0a2 2 0 1 0 -4 0M567.2 671a2 2 0 1 0 4 0a2 2 0 1 0 -4 0M471.2 679.1a2 2 0 1 0 4 0a2 2 0 1 0 -4 0M378.4 693.6a2 2 0 1 0 4 0a2 2 0 1 0 -4 0M428.2 680.7a2 2 0 1 0 4 0a2 2 0 1 0 -4 0M430.7 683.2a2 2 0 1 0 4 0a2 2 0 1 0 -4 0M581.5 669.3a2 2 0 1 0 4 0a2 2 0 1 0 -4 0M588.7 668.8a2 2 0 1 0 4 0a2 2 0 1 0 -4 0M444.8 678a2 2 0 1 0 4 0a2 2 0 1 0 -4 0M521.5 672.3a2 2 0 1 0 4 0a2 2 0 1 0 -4 0M437.6 679.1a2 2 0 1 0 4 0a2 2 0 1 0 -4 0M484.1 674.2a2 2 0 1 0 4 0a2 2 0 1 0 -4 0M436.6 680.6a2 2 0 1 0 4 0a2 2 0 1 0 -4 0M487.7 677.8a2 2 0 1 0 4 0a2 2 0 1 0 -4 0M524.5 674a2 2 0 1 0 4 0a2 2 0 1 0 -4 0M498.2 673.6a2 2 0 1 0 4 0a2 2 0 1 0 -4 0M415.4 684.4a2 2 0 1 0 4 0a2 2 0 1 0 -4 0M378.2 693.9a2 2 0 1 0 4 0a2 2 0 1 0 -4 0M541 670.4a2 2 0 1 0 4 0a2 2 0 1 0 -4 0M403.7 688.8a2 2 0 1 0 4 0a2 2 0 1 0 -4 0M540.4 670.9a2 2 0 1 0 4 0a2 2 0 1 0 -4 0M502.9 676.5a2 2 0 1 0 4 0a2 2 0 1 0 -4 0M413.9 682.9a2 2 0 1 0 4 0a2 2 0 1 0 -4 0M558.5 670.9a2 2 0 1 0 4 0a2 2 0 1 0 -4 0M507.5 675.7a2 2 0 1 0 4 0a2 2 0 1 0 -4 0M427.1 684.4a2 2 0 1 0 4 0a2 2 0 1 0 -4 0"/>
<path fill="#ff0000" d="M233.9 718.8a2 2 0 1 0 4 0a2 2 0 1 0 -4 0M337.2 703.4a2 2 0 1 0 4 0a2 2 0 1 0 -4 0M329.3 701.8a2 2 0 1 0 4 0a2 2 0 1 0 -4 0M327.8 706.2a2 2 0 1 0 4 0a2 2 0 1 0 -4 0M250.5 720.1a2 2 0 1 0 4 0a2 2 0 1 0 -4 0M306.7 707.3a2 2 0 1 0 4 0a2 2 0 1 0 -4 0M359.6 695.1a2 2 0 1 0 4 0a2 2 0 1 0 -4 0M368.9 695.6a2 2 0 1 0 4 0a2 2 0 1 0 -4 0M261.5 717a2 2 0 1 0 4 0a2 2 0 1 0 -4 0M362.1 696.6a2 2 0 1 0 4 0a2 2 0 1 0 -4 0M279.5 713.2a2 2 0 1 0 4 0a2 2 0 1 0 -4 0M254 716.8a2 2 0 1 0 4 0a2 2 0 1 0 -4 0M370.9 696.1a2 2 0 1 0 4 0a2 2 0 1 0 -4 0M308.3 707.3a2 2 0 1 0 4 0a2 2 0 1 0 -4 0M234.7 721.5a2 2 0 1 0 4 0a2 2 0 1 0 -4 0M236.8 719.6a2 2 0 1 0 4 0a2 2 0 1 0 -4 0M289.5 711.2a2 2 0 1 0 4 0a2 2 0 1 0 -4 0M280.1 714.7a2 2 0 1 0 4 0a2 2 0 1 0 -4 0M316.4 706.2a2 2 0 1 0 4 0a2 2 0 1 0 -4 0M281.5 713.9a2 2 0 1 0 4 0a2 2 0 1 0 -4 0M331.6 702.7a2 2 0 1 0 4 0a2 2 0 1 0 -4 0M260.3 715a2 2 0 1 0 4 0a2 2 0 1 0 -4 0M376.7 695.1a2 2 0 1 0 4 0a2 2 0 1 0 -4 0M251.3 716.6a2 2 0 1 0 4 0a2 2 0 1 0 -4 0M363.8 695.5a2 2 0 1 0 4 0a2 2 0 1 0 -4 0M371.8 696.9a2 2 0 1 0 4 0a2 2 0 1 0 -4 0M284.8 710.8a2 2 0 1 0 4 0a2 2 0 1 0 -4 0M262.2 715.8a2 2 0 1 0 4 0a2 2 0 1 0 -4 0M354.1 696.9a2 2 0 1 0 4 0a2 2 0 1 0 -4 0M264.8 716.1a2 2 0 1 0 4 0a2 2 0 1 0 -4 0"/>
<path fill="#ff0000" d="M92 744.9a2 2 0 1 0 4 0a2 2 0 1 0 -4 0M86 747.6a2 2 0 1 0 4 0a2 2 0 1 0 -4 0M125 742.3a2 2 0 1 0 4 0a2 2 0 1 0 -4 0M96.4 745.8a2 2 0 1 0 4 0a2 2 0 1 0 -4 0M136.1 738.3a2 2 0 1 0 4 0a2 2 0 1 0 -4 0M119.6 741.1a2 2 0 1 0 4 0a2 2 0 1 0 -4 0M89 749.4a2 2 0 1 0 4 0a2 2 0 1 0 -4 0M91.8 744.8a2 2 0 1 0 4 0a2 2 0 1 0 -4 0M83.6 748.8a2 2 0 1 0 4 0a2 2 0 1 0 -4 0M128 741.5a2 2 0 1 0 4 0a2 2 0 1 0 -4 0M111.1 741.4a2 2 0 1 0 4 0a2 2 0 1 0 -4 0M108.3 740.9a2 2 0 1 0 4 0a2 2 0 1 0 -4 0M132.2 741.3a2 2 0 1 0 4 0a2 2 0 1 0 -4 0M124.3 740.5a2 2 0 1 0 4 0a2 2 0 1 0 -4 0M140.7 738a2 2 0 1 0 4 0a2 2 0 1 0 -4 0M108.7 744a2 2 0 1 0 4 0a2 2 0 1 0 -4 0M109.5 742a2 2 0 1 0 4 0a2 2 0 1 0 -4 0M116.2 741.7a2 2 0 1 0 4 0a2 2 0 1 0 -4 0M100.2 742.1a2 2 0 1 0 4 0a2 2 0 1 0 -4 0M128.3 737.6a2 2 0 1 0 4 0a2 2 0 1 0 -4 0M124.2 739a2 2 0 1 0 4 0a2 2 0 1 0 -4 0M130.1 741.3a2 2 0 1 0 4 0a2 2 0 1 0 -4 0"/>
<path fill="#ff0000" d="M84.2 746.8a2 2 0 1 0 4 0a2 2 0 1 0 -4 0M75.9 751.9a2 2 0 1 0 4 0a2 2 0 1 0 -4 0M87.9 754.2a2 2 0 1 0 4 0a2 2 0 1 0 -4 0M78.8 752.1a2 2 0 1 0 4 0a2 2 0 1 0 -4 0M84.6 754.3a2 2 0 1 0 4 0a2 2 0 1 0 -4 0M75.5 755a2 2 0 1 0 4 0a2 2 0 1 0 -4 0M87 746.1a2 2 0 1 0 4 0a2 2 0 1 0 -4 0M92.2 746.7a2 2 0 1 0 4 0a2 2 0 1 0 -4 0M79 756.4a2 2 0 1 0 4 0a2 2 0 1 0 -4 0M85.8 748.1a2 2 0 1 0 4 0a2 2 0 1 0 -4 0"/>
<path fill="#ff0000" d="M484.7 713.4a2 2 0 1 0 4 0a2 2 0 1 0 -4 0M471.4 702.6a2 2 0 1 0 4 0a2 2 0 1 0 -4 0M477.1 704.1a2 2 0 1 0 4 0a2 2 0 1 0 -4 0M528.6 711.8a2 2 0 1 0 4 0a2 2 0 1 0 -4 0M537.5 715.4a2 2 0 1 0 4 0a2 2 0 1 0 -4 0M572 703.9a2 2 0 1 0 4 0a2 2 0 1 0 -4 0M572.4 701.5a2 2 0 1 0 4 0a2 2 0 1 0 -4 0M480.5 711.9a2 2 0 1 0 4 0a2 2 0 1 0 -4 0M473.2 717.8a2 2 0 1 0 4 0a2 2 0 1 0 -4 0M575.6 715.9a2 2 0 1 0 4 0a2 2 0 1 0 -4 0M496.3 708.8a2 2 0 1 0 4 0a2 2 0 1 0 -4 0M473.9 706.6a2 2 0 1 0 4 0a2 2 0 1 0 -4 0M558.5 700.1a2 2 0 1 0 4 0a2 2 0 1 0 -4 0M485.4 704.2a2 2 0 1 0 4 0a2 2 0 1 0 -4 0M506.7 703.7a2 2 0 1 0 4 0a2 2 0 1 0 -4 0M538.6 707.8a2 2 0 1 0 4 0a2 2 0 1 0 -4 0M535.3 703.5a2 2 0 1 0 4 0a2 2 0 1 0 -4 0M567.4 715.1a2 2 0 1 0 4 0a2 2 0 1 0 -4 0M529.1 705a2 2 0 1 0 4 0a2 2 0 1 0 -4 0M561.8 706.3a2 2 0 1 0 4 0a2 2 0 1 0 -4 0M513.9 709.8a2 2 0 1 0 4 0a2 2 0 1 0 -4 0M474.3 707.9a2 2 0 1 0 4 0a2 2 0 1 0 -4 0M555 698.2a2 2 0 1 0 4 0a2 2 0 1 0 -4 0M491.3 712.3a2 2 0 1 0 4 0a2 2 0 1 0 -4 0M527.8 705.5a2 2 0 1 0 4 0a2 2 0 1 0 -4 0M512.8 700.9a2 2 0 1 0 4 0a2 2 0 1 0 -4 0M513.1 696.3a2 2 0 1 0 4 0a2 2 0 1 0 -4 0M489.9 704.2a2 2 0 1 0 4 0a2 2 0 1 0 -4 0M545.5 716.3a2 2 0 1 0 4 0a2 2 0 1 0 -4 0M529.5 714.8a2 2 0 1 0 4 0a2 2 0 1 0 -4 0M508.3 698.4a2 2 0 1 0 4 0a2 2 0 1 0 -4 0M543.5 704.5a2 2 0 1 0 4 0a2 2 0 1 0 -4 0M515.7 699a2 2 0 1 0 4 0a2 2 0 1 0 -4 0M574.6 702.2a2 2 0 1 0 4 0a2 2 0 1 0 -4 0M483.4 704.7a2 2 0 1 0 4 0a2 2 0 1 0 -4 0M502.9 699.9a2 2 0 1 0 4 0a2 2 0 1 0 -4 0M544.6 706.2a2 2 0 1 0 4 0a2 2 0 1 0 -4 0M481.4 717.6a2 2 0 1 0 4 0a2 2 0 1 0 -4 0M576.6 709.2a2 2 0 1 0 4 0a2 2 0 1 0 -4 0M490.1 715.6a2 2 0 1 0 4 0a2 2 0 1 0 -4 0M544.4 698.1a2 2 0 1 0 4 0a2 2 0 1 0 -4 0M555.1 711.7a2 2 0 1 0 4 0a2 2 0 1 0 -4 0M506.5 709.7a2 2 0 1 0 4 0a2 2 0 1 0 -4 0M523 701.8a2 2 0 1 0 4 0a2 2 0 1 0 -4 0M486.1 706.3a2 2 0 1 0 4 0a2 2 0 1 0 -4 0M533.3 712.8a2 2 0 1 0 4 0a2 2 0 1 0 -4 0M553 703.6a2 2 0 1 0 4 0a2 2 0 1 0 -4 0M550.7 704.3a2 2 0 1 0 4 0a2 2 0 1 0 -4 0M553.7 708.2a2 2 0 1 0 4 0a2 2 0 1 0 -4 0M531.1 718.2a2 2 0 1 0 4 0a2 2 0 1 0 -4 0M487.5 708a2 2 0 1 0 4 0a2 2 0 1 0 -4 0M553.7 700.1a2 2 0 1 0 4 0a2 2 0 1 0 -4 0M553.7 713.3a2 2 0 1 0 4 0a2 2 0 1 0 -4 0M504.1 707.7a2 2 0 1 0 4 0a2 2 0 1 0 -4 0M507.2 707.8a2 2 0 1 0 4 0a2 2 0 1 0 -4 0"/>
<path fill="#ff0000" d="M466.7 709.1a2 2 0 1 0 4 0a2 2 0 1 0 -4 0M459 714.8a2 2 0 1 0 4 0a2 2 0 1 0 -4 0M452 714.8a2 2 0 1 0 4 0a2 2 0 1 0 -4 0M458.9 713.9a2 2 0 1 0 4 0a2 2 0 1 0 -4 0M461.6 708.7a2 2 0 1 0 4 0a2 2 0 1 0 -4 0M444.9 711.7a2 2 0 1 0 4 0a2 2 0 1 0 -4 0M461.6 712.5a2 2 0 1 0 4 0a2 2 0 1 0 -4 0M464.8 706.2a2 2 0 1 0 4 0a2 2 0 1 0 -4 0M455.2 708.4a2 2 0 1 0 4 0a2 2 0 1 0 -4 0M454.3 717.5a2 2 0 1 0 4 0a2 2 0 1 0 -4 0M444.5 712a2 2 0 1 0 4 0a2 2 0 1 0 -4 0M461.6 713.7a2 2 0 1 0 4 0a2 2 0 1 0 -4 0"/>
<path fill="#000000" d="M223.4 744a1.6 1.6 0 1 0 3.2 0a1.6 1.6 0 1 0 -3.2 0M267.7 731.1a1.6 1.6 0 1 0 3.2 0a1.6 1.6 0 1 0 -3.2 0M219 742.9a1.6 1.6 0 1 0 3.2 0a1.6 1.6 0 1 0 -3.2 0M173.7 749.6a1.6 1.6 0 1 0 3.2 0a1.6 1.6 0 1 0 -3.2 0M397.6 718.2a1.6 1.6 0 1 0 3.2 0a1.6 1.6 0 1 0 -3.2 0M145 753a1.6 1.6 0 1 0 3.2 0a1.6 1.6 0 1 0 -3.2 0M310.4 733a1.6 1.6 0 1 0 3.2 0a1.6 1.6 0 1 0 -3.2 0M417.6 709.4a1.6 1.6 0 1 0 3.2 0a1.6 1.6 0 1 0 -3.2 0M404.7 718.3a1.6 1.6 0 1 0 3.2 0a1.6 1.6 0 1 0 -3.2 0M202.9 741.7a1.6 1.6 0 1 0 3.2 0a1.6 1.6 0 1 0 -3.2 0M379.8 722.3a1.6 1.6 0 1 0 3.2 0a1.6 1.6 0 1 0 -3.2 0M385 720.7a1.6 1.6 0 1 0 3.2 0a1.6 1.6 0 1 0 -3.2 0M269.9 739.8a1.6 1.6 0 1 0 3.2 0a1.6 1.6 0 1 0 -3.2 0M359.5 720.8a1.6 1.6 0 1 0 3.2 0a1.6 1.6 0 1 0 -3.2 0M345.5 728.1a1.6 1.6 0 1 0 3.2 0a1.6 1.6 0 1 0 -3.2 0M211 738.6a1.6 1.6 0 1 0 3.2 0a1.6 1.6 0 1 0 -3.2 0M262.3 740.9a1.6 1.6 0 1 0 3.2 0a1.6 1.6 0 1 0 -3.2 0M316.5 730.6a1.6 1.6 0 1 0 3.2 0a1.6 1.6 0 1 0 -3.2 0M211.9 748.4a1.6 1.6 0 1 0 3.2 0a1.6 1.6 0 1 0 -3.2 0M380.6 720.6a1.6 1.6 0 1 0 3.2 0a1.6 1.6 0 1 0 -3.2 0M155.2 749.9a1.6 1.6 0 1 0 3.2 0a1.6 1.6 0 1 0 -3.2 0M221.9 739.8a1.6 1.6 0 1 0 3.2 0a1.6 1.6 0 1 0 -3.2 0"/>
<path fill="#000000" d="M269.9 754.5a1.7 1.7 0 1 0 3.4 0a1.7 1.7 0 1 0 -3.4 0M245.1 754.3a1.7 1.7 0 1 0 3.4 0a1.7 1.7 0 1 0 -3.4 0M227.4 753.4a1.7 1.7 0 1 0 3.4 0a1.7 1.7 0 1 0 -3.4 0M162.5 756.4a1.7 1.7 0 1 0 3.4 0a1.7 1.7 0 1 0 -3.4 0M222.4 753.6a1.7 1.7 0 1 0 3.4 0a1.7 1.7 0 1 0 -3.4 0M178.5 753.7a1.7 1.7 0 1 0 3.4 0a1.7 1.7 0 1 0 -3.4 0M216.4 752.8a1.7 1.7 0 1 0 3.4 0a1.7 1.7 0 1 0 -3.4 0M204.9 753.8a1.7 1.7 0 1 0 3.4 0a1.7 1.7 0 1 0 -3.4 0M194.1 753.8a1.7 1.7 0 1 0 3.4 0a1.7 1.7 0 1 0 -3.4 0M135.9 756.4a1.7 1.7 0 1 0 3.4 0a1.7 1.7 0 1 0 -3.4 0M179.8 755.7a1.7 1.7 0 1 0 3.4 0a1.7 1.7 0 1 0 -3.4 0M289 753.9a1.7 1.7 0 1 0 3.4 0a1.7 1.7 0 1 0 -3.4 0M187.6 755.4a1.7 1.7 0 1 0 3.4 0a1.7 1.7 0 1 0 -3.4 0M288.6 754.7a1.7 1.7 0 1 0 3.4 0a1.7 1.7 0 1 0 -3.4 0M238.2 752.5a1.7 1.7 0 1 0 3.4 0a1.7 1.7 0 1 0 -3.4 0M181.4 754.3a1.7 1.7 0 1 0 3.4 0a1.7 1.7 0 1 0 -3.4 0M239.3 753.9a1.7 1.7 0 1 0 3.4 0a1.7 1.7 0 1 0 -3.4 0M253.7 756.2a1.7 1.7 0 1 0 3.4 0a1.7 1.7 0 1 0 -3.4 0M170.5 754.6a1.7 1.7 0 1 0 3.4 0a1.7 1.7 0 1 0 -3.4 0M145.4 753.6a1.7 1.7 0 1 0 3.4 0a1.7 1.7 0 1 0 -3.4 0M226.6 756.1a1.7 1.7 0 1 0 3.4 0a1.7 1.7 0 1 0 -3.4 0M161.1 756a1.7 1.7 0 1 0 3.4 0a1.7 1.7 0 1 0 -3.4 0M240.6 756.1a1.7 1.7 0 1 0 3.4 0a1.7 1.7 0 1 0 -3.4 0M139.5 754.6a1.7 1.7 0 1 0 3.4 0a1.7 1.7 0 1 0 -3.4 0M152.9 755.9a1.7 1.7 0 1 0 3.4 0a1.7 1.7 0 1 0 -3.4 0"/>
<path fill="#000000" d="M357.3 740.8a1.8 1.8 0 1 0 3.6 0a1.8 1.8 0 1 0 -3.6 0M363.5 743.1a1.8 1.8 0 1 0 3.6 0a1.8 1.8 0 1 0 -3.6 0M369.2 741.8a1.8 1.8 0 1 0 3.6 0a1.8 1.8 0 1 0 -3.6 0M368.7 743.4a1.8 1.8 0 1 0 3.6 0a1.8 1.8 0 1 0 -3.6 0M351.5 742.6a1.8 1.8 0 1 0 3.6 0a1.8 1.8 0 1 0 -3.6 0M323.3 751.4a1.8 1.8 0 1 0 3.6 0a1.8 1.8 0 1 0 -3.6 0M344.9 746.3a1.8 1.8 0 1 0 3.6 0a1.8 1.8 0 1 0 -3.6 0"/>
<path fill="#000000" d="M255.9 692.5a2.1 2.1 0 1 0 4.2 0a2.1 2.1 0 1 0 -4.2 0M272.1 692.5a2.1 2.1 0 1 0 4.2 0a2.1 2.1 0 1 0 -4.2 0M259.2 704.1a2.1 2.1 0 1 0 4.2 0a2.1 2.1 0 1 0 -4.2 0M272.8 701.1a2.1 2.1 0 1 0 4.2 0a2.1 2.1 0 1 0 -4.2 0M340.6 750.6a2.1 2.1 0 1 0 4.2 0a2.1 2.1 0 1 0 -4.2 0M318.1 751.6a2.1 2.1 0 1 0 4.2 0a2.1 2.1 0 1 0 -4.2 0M581.5 665.9a2.1 2.1 0 1 0 4.2 0a2.1 2.1 0 1 0 -4.2 0M141.9 740a2.1 2.1 0 1 0 4.2 0a2.1 2.1 0 1 0 -4.2 0M145.9 741a2.1 2.1 0 1 0 4.2 0a2.1 2.1 0 1 0 -4.2 0"/>
<path fill="#ff0000" d="M188.5 694.6a2 2 0 1 0 4 0a2 2 0 1 0 -4 0M198.2 697.2a2 2 0 1 0 4 0a2 2 0 1 0 -4 0M202.5 696.6a2 2 0 1 0 4 0a2 2 0 1 0 -4 0M208.6 694a2 2 0 1 0 4 0a2 2 0 1 0 -4 0M211.8 714.9a2 2 0 1 0 4 0a2 2 0 1 0 -4 0M143.1 724.6a2 2 0 1 0 4 0a2 2 0 1 0 -4 0M104.3 737.2a2 2 0 1 0 4 0a2 2 0 1 0 -4 0M111.4 737.2a2 2 0 1 0 4 0a2 2 0 1 0 -4 0M87.6 742.6a2 2 0 1 0 4 0a2 2 0 1 0 -4 0M76.2 754.4a2 2 0 1 0 4 0a2 2 0 1 0 -4 0M189.6 722a2 2 0 1 0 4 0a2 2 0 1 0 -4 0M198.2 719.9a2 2 0 1 0 4 0a2 2 0 1 0 -4 0M223.6 695.1a2 2 0 1 0 4 0a2 2 0 1 0 -4 0M229 705.2a2 2 0 1 0 4 0a2 2 0 1 0 -4 0M239.8 705.2a2 2 0 1 0 4 0a2 2 0 1 0 -4 0M241.3 711.3a2 2 0 1 0 4 0a2 2 0 1 0 -4 0M299.2 695.1a2 2 0 1 0 4 0a2 2 0 1 0 -4 0M328.4 695.7a2 2 0 1 0 4 0a2 2 0 1 0 -4 0M368.7 675a2 2 0 1 0 4 0a2 2 0 1 0 -4 0M367.2 692.3a2 2 0 1 0 4 0a2 2 0 1 0 -4 0M372.2 691.2a2 2 0 1 0 4 0a2 2 0 1 0 -4 0M355.4 745.2a2 2 0 1 0 4 0a2 2 0 1 0 -4 0M396 670.5a2 2 0 1 0 4 0a2 2 0 1 0 -4 0M401 674a2 2 0 1 0 4 0a2 2 0 1 0 -4 0M411 674a2 2 0 1 0 4 0a2 2 0 1 0 -4 0M416 672a2 2 0 1 0 4 0a2 2 0 1 0 -4 0M432 674a2 2 0 1 0 4 0a2 2 0 1 0 -4 0M447 679a2 2 0 1 0 4 0a2 2 0 1 0 -4 0M380 749a2 2 0 1 0 4 0a2 2 0 1 0 -4 0M384 733a2 2 0 1 0 4 0a2 2 0 1 0 -4 0M378 739a2 2 0 1 0 4 0a2 2 0 1 0 -4 0"/>
</svg></body></html>
